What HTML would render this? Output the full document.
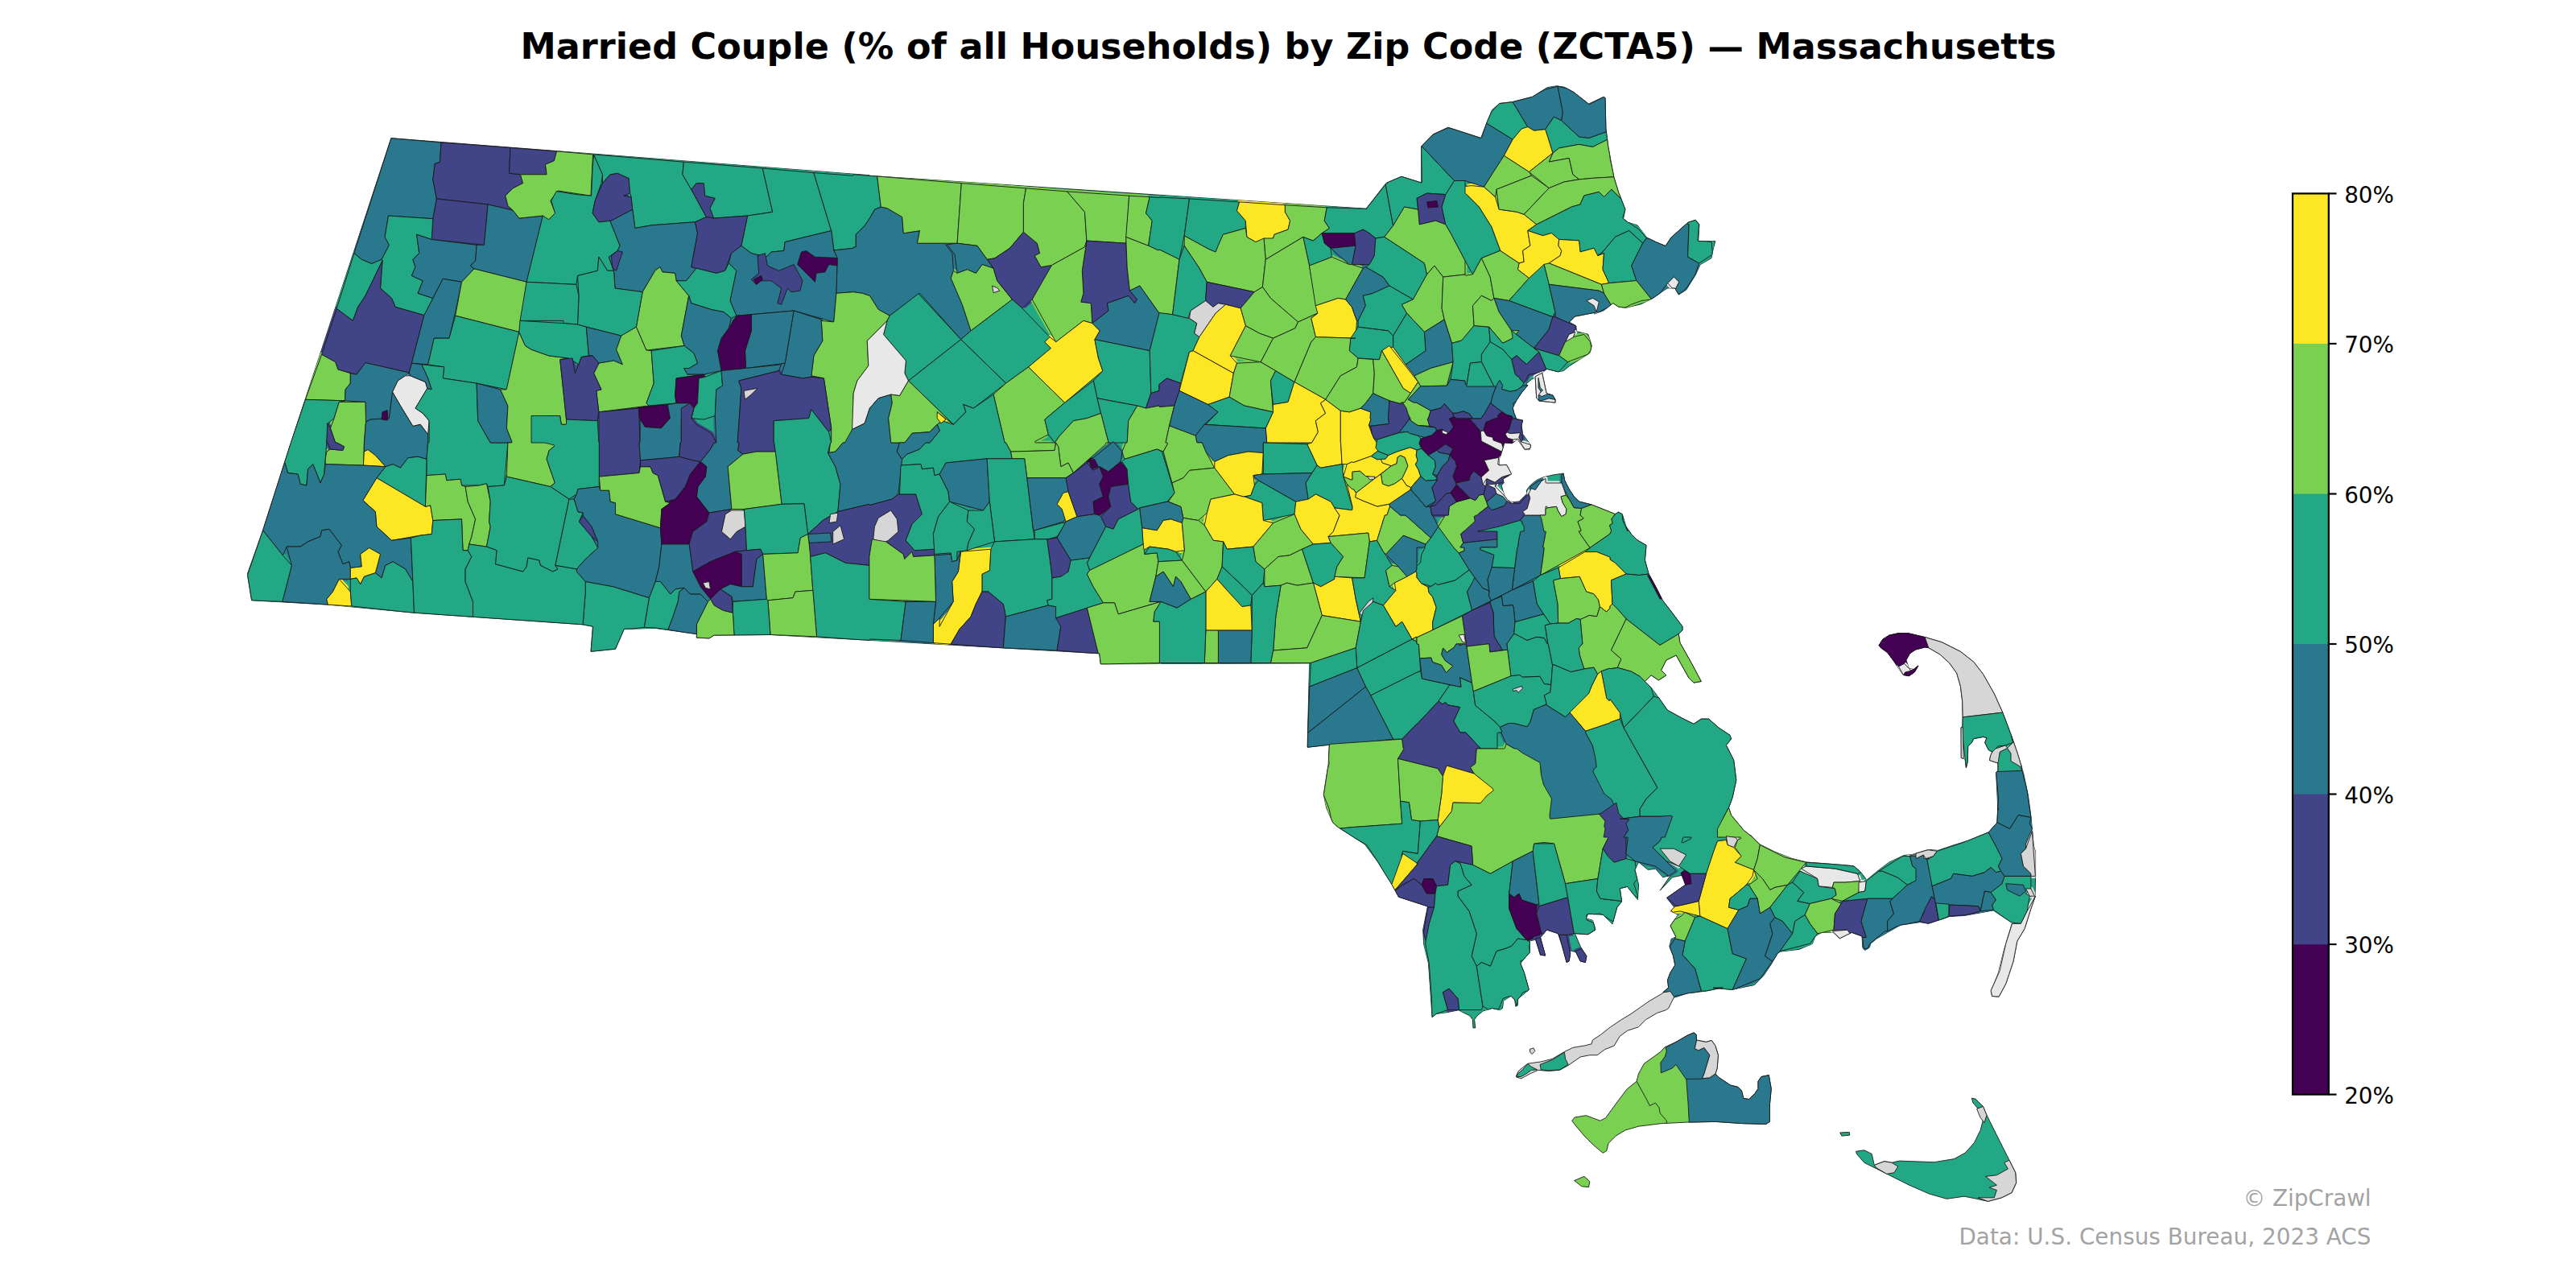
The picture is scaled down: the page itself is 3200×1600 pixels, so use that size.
<!DOCTYPE html>
<html><head><meta charset="utf-8"><title>Married Couple by Zip Code — Massachusetts</title>
<style>
html,body{margin:0;padding:0;background:#fff}
body{width:3200px;height:1600px;overflow:hidden}
svg{display:block}
text{font-family:"DejaVu Sans","Liberation Sans",sans-serif}
</style></head><body>
<svg width="3200" height="1600" viewBox="0 0 3200 1600">
<rect width="3200" height="1600" fill="#fff"/>
<text x="1600.4" y="73.3" text-anchor="middle" font-size="44.44" font-weight="bold" fill="#000" textLength="1908" lengthAdjust="spacing">Married Couple (% of all Households) by Zip Code (ZCTA5) — Massachusetts</text>
<defs><path id="z0" d="M483.4,304.3 478.1,294.4 482.5,268.0 537.8,271.7 542.4,246.9 537.8,223.0 540.2,203.4 546.5,201.2 548.0,177.0 485.9,171.7 439.9,314.6 449.3,322.4 461.7,327.6 474.1,322.4Z"/><path id="z1" d="M606.1,254.0 637.1,261.2 630.9,255.6 627.8,243.2 637.1,233.9 649.6,227.6 646.5,216.8 632.5,215.2 634.0,183.5 548.0,177.0 546.5,201.2 540.2,203.4 537.8,223.0 542.4,246.9Z"/><path id="z2" d="M688.4,199.7 691.5,187.9 634.0,183.5 632.5,215.2 646.5,216.8 679.1,216.8 677.5,204.3Z"/><path id="z3" d="M542.4,246.9 537.8,271.7 536.2,297.5 601.4,304.3 606.1,254.0Z"/><path id="z4" d="M472.5,358.1 486.5,370.5 491.2,381.4 526.9,391.6 537.8,370.5 519.1,364.3 525.3,348.8 511.4,342.5 516.0,331.7 512.9,322.4 520.7,314.6 517.6,291.3 536.2,297.5 537.8,271.7 482.5,268.0 478.1,294.4 483.4,304.3 474.1,322.4 475.0,323.9Z"/><path id="z5" d="M525.3,348.8 519.1,364.3 537.8,370.5 550.2,346.3 573.5,350.3 589.0,333.9 584.3,330.1 590.6,323.9 592.1,304.3 536.2,297.5 517.6,291.3 520.7,314.6 512.9,322.4 516.0,331.7 511.4,342.5Z"/><path id="z6" d="M589.0,333.9 654.2,350.3 674.4,268.0 644.9,271.1 637.1,261.2 606.1,254.0 601.4,304.3 592.1,304.3 590.6,323.9 584.3,330.1Z"/><path id="z7" d="M475.0,323.9 474.1,322.4 461.7,327.6 449.3,322.4 439.9,314.6 418.2,383.5 438.4,398.4 444.6,381.4 453.9,367.4Z"/><path id="z8" d="M399.6,440.4 416.6,449.7 419.8,459.0 443.0,465.2 453.9,450.6 508.3,463.0 526.9,391.6 491.2,381.4 486.5,370.5 472.5,358.1 475.0,323.9 453.9,367.4 444.6,381.4 438.4,398.4 418.2,383.5Z"/><path id="z9" d="M539.3,420.2 558.0,420.2 565.7,387.6 573.5,350.3 550.2,346.3 537.8,370.5 526.9,391.6 511.4,451.2 531.6,452.8Z"/><path id="z10" d="M589.0,333.9 573.5,350.3 565.7,392.2 644.9,412.4 654.2,350.3Z"/><path id="z11" d="M550.2,469.9 592.1,476.1 629.4,483.9 644.9,412.4 565.7,392.2 558.0,420.2 539.3,420.2 531.6,452.8 551.7,455.9Z"/><path id="z12" d="M435.3,463.7 419.8,459.0 416.6,449.7 399.6,440.4 379.4,496.3 428.4,497.8 429.1,483.9 435.3,476.1Z"/><path id="z13" d="M454.5,524.2 460.1,521.1 483.4,519.6 488.1,485.4 494.3,473.0 503.6,466.8 508.3,463.0 453.9,450.6 443.0,465.2 435.3,463.7 435.3,476.1 429.1,483.9 428.4,497.8 453.9,499.4Z"/><path id="z14" d="M522.2,527.3 531.6,539.8 533.1,522.7 525.3,513.4 516.0,507.1 530.9,482.3 528.4,474.5 509.8,466.8 503.6,466.8 494.3,473.0 487.5,487.0 497.4,504.0 512.9,529.5Z"/><path id="z15" d="M357.6,587.4 357.6,587.5 357.7,587.5 369.4,588.9 369.5,588.9 369.6,589.0 369.7,589.0 369.8,589.0 369.8,589.1 369.9,589.2 370.0,589.2 370.1,589.3 370.1,589.4 370.2,589.5 370.2,589.6 370.2,589.7 373.2,601.4 373.2,601.4 373.2,601.4 380.9,603.0 380.9,603.0 380.9,603.0 382.5,583.2 382.5,583.1 382.5,583.0 382.5,582.9 382.6,582.8 382.6,582.7 382.7,582.6 382.7,582.5 387.6,577.7 387.7,577.6 387.8,577.5 387.9,577.5 387.9,577.4 388.0,577.4 388.1,577.4 388.2,577.4 388.3,577.4 388.4,577.4 388.5,577.4 388.6,577.4 388.7,577.4 388.8,577.5 388.9,577.5 389.0,577.6 389.0,577.7 389.1,577.7 389.2,577.8 389.2,577.9 389.3,578.0 398.0,599.9 398.0,599.9 398.0,599.9 402.7,589.0 402.7,589.0 402.7,589.0 404.2,570.4 405.8,550.1 405.8,550.0 405.8,550.0 407.3,526.2 407.3,526.1 407.3,526.0 407.4,525.9 407.4,525.8 407.5,525.7 407.5,525.6 407.6,525.6 407.7,525.5 415.1,519.6 415.1,519.6 415.1,519.5 421.1,499.9 421.2,499.8 421.2,499.8 421.3,499.7 421.3,499.6 421.4,499.5 421.4,499.5 421.5,499.4 421.6,499.4 421.7,499.3 421.8,499.3 421.9,499.3 428.4,497.8 428.4,497.8 428.4,497.8 379.4,496.3 379.4,496.3 379.4,496.3 361.6,549.2 361.6,549.3 361.4,550.0 353.6,574.1Z"/><path id="z16" d="M404.2,576.6 451.4,578.1 451.4,578.1 451.4,578.1 452.4,550.1 452.4,550.0 452.4,550.0 454.5,524.3 454.5,524.2 453.9,499.4 453.9,499.4 453.9,499.4 421.3,499.4 421.3,499.4 421.3,499.4 415.1,519.5 415.1,519.6 410.4,532.0 410.4,532.0 410.4,532.0 416.6,550.0 416.6,550.0 416.7,550.0 418.2,550.0 418.3,550.0 418.4,550.0 418.5,550.0 418.6,550.1 418.7,550.1 426.8,554.4 426.9,554.5 426.9,554.6 427.0,554.6 427.1,554.7 427.1,554.8 427.2,554.9 427.2,555.0 427.3,555.1 427.3,555.2 427.3,555.3 427.3,555.4 427.3,555.5 427.3,555.5 427.2,555.6 426.2,558.7 426.2,558.8 426.1,558.9 426.1,559.0 426.0,559.1 426.0,559.1 425.9,559.2 425.8,559.3 425.7,559.3 425.6,559.4 425.5,559.4 425.5,559.4 425.4,559.4 425.3,559.4 425.2,559.4 410.5,558.0 410.4,558.0 410.4,558.0 405.8,561.0 405.8,561.1 405.8,561.1 404.2,570.4 404.2,570.4 404.2,570.4 404.2,576.6 404.2,576.6Z"/><path id="z17" d="M452.4,561.0 456.5,558.9 456.5,558.8 456.6,558.8 456.7,558.8 456.8,558.8 456.9,558.8 457.0,558.8 457.1,558.8 457.2,558.8 457.3,558.8 457.4,558.9 457.5,558.9 457.5,559.0 466.3,565.7 466.3,565.7 466.4,565.8 478.7,579.7 478.8,579.7 478.8,579.7 487.7,576.7 487.8,576.7 487.9,576.7 488.0,576.7 488.1,576.7 488.2,576.7 488.3,576.7 488.4,576.7 488.4,576.8 497.4,581.2 497.4,581.2 497.4,581.2 506.5,569.2 506.5,569.1 506.6,569.0 506.7,568.9 506.8,568.9 506.8,568.8 506.9,568.8 507.0,568.8 507.1,568.8 518.9,567.3 519.0,567.3 519.1,567.3 519.2,567.3 519.3,567.3 530.0,570.4 530.0,570.4 530.0,570.3 531.5,550.1 531.5,550.0 531.5,550.0 531.6,550.0 531.6,550.0 531.6,539.8 531.6,539.8 531.5,539.7 522.3,527.3 522.2,527.3 522.2,527.3 513.6,529.3 513.5,529.4 513.4,529.4 513.3,529.4 513.2,529.4 513.1,529.3 513.1,529.3 513.0,529.3 512.9,529.2 512.8,529.2 512.7,529.1 512.7,529.0 512.6,529.0 512.5,528.9 497.4,504.0 497.4,504.0 487.5,487.0 487.5,487.0 487.5,487.0 483.5,518.7 483.5,518.8 483.5,518.9 483.4,519.0 483.4,519.1 483.3,519.2 483.3,519.3 483.2,519.3 483.1,519.4 483.1,519.5 483.0,519.5 482.9,519.6 482.8,519.6 482.7,519.6 482.6,519.6 460.2,521.1 460.1,521.1 460.1,521.1 454.6,524.2 454.5,524.2 454.5,524.2 452.4,549.7 452.4,549.8 452.4,549.9 452.4,549.9 452.4,549.9 452.4,561.0 452.4,561.1Z"/><path id="z18" d="M516.0,507.2 525.2,513.3 525.3,513.3 525.4,513.4 525.4,513.5 532.9,522.4 532.9,522.5 533.0,522.6 533.0,522.6 533.1,522.7 533.1,522.8 533.1,522.9 533.1,523.0 533.1,548.9 533.1,549.0 533.1,549.1 533.1,549.2 533.0,549.3 533.0,549.3 532.9,549.4 532.9,549.5 532.8,549.6 532.7,549.6 532.7,549.7 532.6,549.8 532.5,549.8 532.4,549.8 532.3,549.9 532.2,549.9 532.1,549.9 531.6,549.9 531.6,549.9 531.6,549.9 530.0,570.4 530.0,570.4 530.0,590.5 530.0,590.6 530.0,590.6 552.4,589.1 552.5,589.1 552.6,589.1 552.7,589.1 552.8,589.1 552.9,589.1 553.0,589.2 553.1,589.2 553.1,589.3 553.2,589.4 553.3,589.4 553.3,589.5 553.4,589.6 553.4,589.7 553.4,589.8 553.5,589.9 554.8,596.7 554.8,596.8 554.9,596.8 571.0,595.3 571.1,595.3 571.2,595.3 571.3,595.3 571.4,595.3 571.5,595.4 571.6,595.4 571.7,595.5 571.8,595.5 571.8,595.6 571.9,595.7 572.0,595.7 572.0,595.8 572.0,595.9 572.1,596.0 572.1,596.1 573.5,603.0 573.5,603.0 573.5,603.0 595.2,603.0 595.2,603.0 595.2,603.0 603.7,601.0 603.8,601.0 603.9,601.0 604.0,601.0 604.1,601.0 604.2,601.0 604.3,601.0 604.4,601.1 604.5,601.1 604.6,601.2 604.6,601.3 604.7,601.3 604.8,601.4 604.8,601.5 604.9,601.6 606.1,604.5 606.1,604.5 606.1,604.5 626.2,603.0 626.3,603.0 626.3,603.0 630.9,549.9 630.9,549.9 630.9,549.9 609.7,549.9 609.6,549.9 609.5,549.9 609.4,549.8 609.3,549.8 609.2,549.8 609.2,549.7 609.1,549.7 609.0,549.6 608.9,549.5 608.9,549.5 608.8,549.4 593.8,522.9 593.7,522.8 593.7,522.7 593.7,522.6 593.7,522.5 593.7,522.4 592.1,476.1 592.1,476.1 592.1,476.1 551.1,470.0 551.0,470.0 551.0,470.0 550.9,469.9 550.8,469.9 550.7,469.8 550.6,469.8 550.6,469.7 550.5,469.6 550.4,469.6 550.4,469.5 550.4,469.4 550.3,469.3 550.3,469.2 550.3,469.1 550.3,469.0 550.3,468.9 551.7,455.9 551.7,455.9 551.7,455.9 523.8,452.8 523.8,452.8 523.8,452.8 531.5,469.8 531.6,469.9 535.6,482.0 535.6,482.1 535.6,482.2 535.7,482.3 535.7,482.4 535.6,482.5 535.6,482.6 535.6,482.7 535.5,482.8 535.5,482.9 535.4,483.0 535.4,483.0 535.3,483.1 535.2,483.2 535.1,483.2 535.1,483.3 535.0,483.3 534.9,483.3 534.8,483.3 534.7,483.4 534.6,483.3 534.5,483.3 534.4,483.3 531.0,482.3 530.9,482.3 530.9,482.3 516.0,507.1 516.0,507.1Z"/><path id="z19" d="M536.2,483.9 531.6,469.9 523.8,452.8 511.4,451.2 508.3,463.0 509.8,466.8 528.4,474.5 530.9,482.3Z"/><path id="z20" d="M630.9,504.0 621.6,483.9 592.1,476.1 593.7,522.7 609.2,550.0 636.5,550.0 629.4,532.0Z"/><path id="z21" d="M474.1,521.1 481.9,522.0 481.2,509.6 475.0,511.8Z"/><path id="z22" d="M405.8,550.0 406.7,550.0 406.8,550.0 406.9,550.0 407.0,550.0 407.1,550.1 407.2,550.1 407.3,550.2 407.3,550.2 407.4,550.3 407.5,550.4 407.5,550.5 407.6,550.5 407.6,550.6 410.4,557.9 410.4,557.9 410.5,558.0 425.9,559.5 426.0,559.5 426.0,559.5 427.5,554.9 427.5,554.8 427.5,554.8 418.2,549.9 418.2,549.9 418.2,549.9 417.3,549.9 417.2,549.9 417.1,549.9 417.0,549.8 416.9,549.8 416.9,549.8 416.8,549.7 416.7,549.7 416.6,549.6 416.6,549.5 416.5,549.5 416.4,549.4 416.4,549.3 416.4,549.2 410.4,532.0 410.4,532.0 410.4,532.0 406.7,525.8 406.7,525.8 406.7,525.8 405.8,550.0 405.8,550.0Z"/><path id="z23" d="M649.6,227.6 637.1,233.9 627.8,243.2 630.9,255.6 637.1,261.2 644.9,271.1 674.4,268.0 680.6,274.2 689.9,264.9 683.7,249.4 693.0,237.0 734.0,243.2 736.5,191.9 691.5,187.9 688.4,199.7 677.5,204.3 679.1,216.8 646.5,216.8Z"/><path id="z24" d="M621.6,483.9 630.8,503.8 630.9,503.9 630.9,504.0 630.9,504.1 630.9,504.2 630.9,504.3 629.4,532.0 629.4,532.0 629.4,532.0 635.9,548.5 636.0,548.6 636.0,548.7 636.0,548.8 636.0,548.9 636.0,549.0 636.0,549.1 636.0,549.2 635.9,549.3 635.9,549.4 635.8,549.4 635.8,549.5 635.7,549.6 635.6,549.7 635.6,549.7 635.5,549.8 635.4,549.8 635.3,549.8 635.2,549.9 635.1,549.9 635.0,549.9 631.0,549.9 630.9,549.9 630.9,549.9 629.4,592.1 629.4,592.1 629.4,592.1 683.7,604.5 683.7,604.5 683.7,604.5 689.3,599.9 689.3,599.9 689.3,599.9 679.2,570.7 679.1,570.6 679.1,570.5 679.1,570.4 679.1,570.3 679.1,570.2 679.2,570.1 682.1,559.8 682.1,559.7 682.2,559.6 682.2,559.5 682.3,559.4 682.3,559.4 682.4,559.3 689.9,553.3 689.9,553.3 689.9,553.3 680.6,545.5 680.6,545.5 680.6,545.5 680.6,545.5 680.5,545.5 680.4,545.4 680.3,545.3 680.2,545.3 680.2,545.2 680.1,545.1 680.1,545.0 680.0,544.9 680.0,544.8 680.0,544.7 680.0,544.6 680.0,519.6 680.0,519.6 680.0,519.6 677.0,519.3 676.9,519.3 676.8,519.3 676.8,519.2 676.7,519.2 676.6,519.2 676.5,519.1 676.4,519.0 676.4,519.0 676.3,518.9 676.3,518.8 676.2,518.7 676.2,518.6 676.1,518.5 676.1,518.4 676.1,518.3 676.1,518.2 676.1,518.1 676.2,518.1 676.2,518.0 676.2,517.9 676.3,517.8 676.3,517.7 676.4,517.6 676.5,517.6 676.5,517.5 676.6,517.5 676.7,517.4 676.8,517.4 676.9,517.3 677.0,517.3 677.1,517.3 694.8,516.5 694.9,516.5 695.0,516.5 695.1,516.5 695.2,516.6 695.3,516.6 695.4,516.6 695.5,516.7 695.5,516.8 695.6,516.8 695.7,516.9 695.7,517.0 695.8,517.1 695.8,517.2 695.8,517.3 695.8,517.4 697.3,527.3 697.3,527.3 697.3,527.3 703.5,527.3 703.5,527.3 703.5,527.3 703.5,521.1 703.5,521.1 695.8,447.5 695.8,447.4 695.8,447.3 695.8,447.3 695.8,447.2 695.9,447.1 695.9,447.0 696.0,446.9 696.0,446.8 696.1,446.7 696.2,446.7 696.2,446.6 696.3,446.6 696.4,446.5 696.5,446.5 696.6,446.5 696.7,446.4 706.6,445.0 706.6,445.0 706.6,445.0 681.8,441.9 681.7,441.9 681.6,441.9 660.1,434.2 660.0,434.2 659.9,434.1 652.8,429.7 652.7,429.6 652.6,429.5 652.6,429.5 652.5,429.4 652.5,429.3 652.4,429.2 644.8,412.4 644.8,412.4 644.8,412.4 629.4,483.1 629.4,483.2 629.4,483.2 629.3,483.3 629.3,483.4 629.2,483.5 629.1,483.6 629.1,483.6 629.0,483.7 628.9,483.7 628.8,483.8 628.7,483.8 628.6,483.8 628.5,483.8 628.4,483.9 621.6,483.9 621.6,483.9Z"/><path id="z25" d="M654.1,350.3 715.9,353.4 717.5,342.5 742.3,336.3 743.9,319.3 754.7,336.3 762.5,336.3 756.3,319.3 767.1,311.5 770.2,305.3 757.8,274.2 743.9,275.8 736.1,264.9 739.2,249.4 747.0,227.6 748.5,216.8 737.6,191.9 736.1,207.5 734.5,243.2 715.9,241.6 691.1,237.6 684.8,249.4 689.5,264.9 681.7,272.7 674.3,268.0Z"/><path id="z26" d="M785.8,260.2 784.2,244.7 774.9,243.2 782.7,240.1 781.1,221.4 767.1,215.2 757.8,216.8 748.5,227.6 739.2,249.4 736.1,264.9 743.9,275.8 759.4,274.2Z"/><path id="z27" d="M781.1,221.4 782.7,240.1 784.2,244.7 785.8,260.2 788.9,283.5 809.1,279.8 863.4,275.8 877.4,269.6 858.8,235.4 847.9,216.8 849.4,201.2 737.6,191.9 748.5,216.8 748.5,227.6 757.8,216.8 767.1,215.2Z"/><path id="z28" d="M875.8,243.2 874.3,227.6 865.0,227.6 858.8,235.4 877.4,269.6 886.7,271.1 882.0,258.7 888.3,246.3Z"/><path id="z29" d="M875.8,243.2 888.3,246.3 882.0,258.7 886.7,271.1 928.6,268.0 959.7,263.4 947.3,209.0 849.4,201.2 847.9,216.8 858.8,235.4 865.0,227.6 874.3,227.6Z"/><path id="z30" d="M951.9,319.3 958.1,313.0 973.7,311.5 975.2,300.6 1032.7,286.6 1010.9,214.6 947.3,209.0 959.7,263.4 928.6,268.0 920.9,305.3 933.3,314.6Z"/><path id="z31" d="M1010.9,214.6 1032.6,286.6 1032.7,286.6 1032.7,286.7 1035.8,310.8 1035.8,310.9 1035.8,310.9 1060.0,308.4 1060.0,308.4 1060.0,308.4 1060.0,308.3 1060.0,308.2 1060.0,308.1 1060.0,308.0 1060.1,307.9 1060.1,307.8 1060.2,307.7 1060.2,307.6 1060.3,307.6 1060.4,307.5 1060.5,307.4 1060.5,307.4 1060.6,307.3 1060.7,307.3 1060.8,307.3 1063.3,306.8 1063.3,306.8 1063.3,306.8 1063.3,291.7 1063.3,291.6 1063.3,291.5 1063.3,291.4 1063.4,291.3 1063.4,291.2 1063.5,291.2 1063.5,291.1 1063.6,291.0 1074.1,280.5 1074.2,280.4 1074.2,280.4 1080.4,271.1 1080.4,271.1 1086.4,260.6 1086.5,260.5 1086.5,260.4 1086.6,260.3 1086.7,260.3 1086.7,260.2 1086.8,260.2 1086.9,260.1 1094.3,257.2 1094.3,257.1 1094.3,257.1 1089.7,219.0 1089.7,219.0 1080.0,218.3 1080.0,218.2 1059.9,216.8 1059.9,216.8 1059.9,216.8 1059.9,217.2 1059.9,217.3 1059.9,217.4 1059.8,217.5 1059.8,217.6 1059.8,217.7 1059.7,217.8 1059.7,217.9 1059.6,217.9 1059.5,218.0 1059.4,218.1 1059.4,218.1 1059.3,218.2 1059.2,218.2 1059.1,218.2 1059.0,218.2 1058.9,218.2 1058.8,218.2 1011.0,214.6 1010.9,214.6Z"/><path id="z32" d="M762.5,336.3 764.0,358.1 798.2,362.7 813.7,336.3 819.9,331.7 823.0,337.9 838.6,339.4 840.1,348.8 852.5,348.8 865.0,333.2 858.8,331.7 866.5,289.8 863.4,275.8 809.1,279.8 788.9,283.5 785.8,260.2 759.4,274.2 757.8,274.2 770.2,305.3 767.1,311.5 756.3,319.3Z"/><path id="z33" d="M759.4,317.7 760.9,333.2 765.6,336.3 773.4,313.0 767.1,311.5Z"/><path id="z34" d="M900.7,336.3 908.4,314.6 920.9,305.3 928.6,268.0 886.7,271.1 877.4,269.6 863.4,275.8 866.5,289.8 858.8,331.7 889.8,339.4Z"/><path id="z35" d="M920.9,305.3 908.4,314.6 905.3,327.0 914.7,336.3 906.9,373.6 914.7,392.2 933.3,390.7 986.1,386.0 1035.8,400.0 1038.9,364.3 1040.4,320.8 1035.8,310.9 1032.7,286.6 975.2,300.6 973.7,311.5 958.1,313.0 951.9,319.3 933.3,314.6Z"/><path id="z36" d="M958.1,348.8 970.6,358.1 965.9,376.7 970.6,378.3 978.3,358.1 983.0,362.7 993.9,361.2 997.0,348.8 986.1,328.6 967.5,336.3 953.5,330.1 950.4,314.6 941.1,317.7 942.6,339.4 933.3,347.2 939.5,353.4 945.7,348.8Z"/><path id="z37" d="M1040.4,330.1 1040.4,320.8 1035.8,320.2 1012.5,319.3 1001.6,311.5 995.4,313.0 990.7,328.6 1012.5,350.3 1014.0,339.4 1024.9,337.9 1029.6,328.6Z"/><path id="z38" d="M939.5,353.4 947.3,347.2 945.7,342.5 936.4,347.2Z"/><path id="z39" d="M1035.8,310.9 1040.3,320.6 1040.4,320.7 1040.4,320.8 1040.4,320.9 1040.4,321.0 1040.4,321.0 1038.9,364.3 1038.9,364.3 1038.9,364.3 1059.8,362.7 1059.9,362.7 1060.0,362.8 1071.0,364.3 1071.1,364.3 1071.1,364.3 1080.0,367.3 1080.1,367.3 1080.2,367.4 1080.3,367.4 1080.4,367.5 1080.4,367.5 1080.5,367.6 1080.6,367.7 1091.2,384.5 1091.2,384.5 1091.3,384.5 1105.2,392.2 1105.2,392.2 1105.2,392.2 1141.7,364.8 1141.8,364.8 1141.9,364.7 1142.0,364.7 1142.1,364.7 1142.2,364.6 1142.3,364.6 1142.4,364.6 1142.5,364.6 1142.6,364.7 1142.7,364.7 1142.8,364.7 1142.9,364.8 1143.0,364.8 1143.0,364.9 1143.1,365.0 1193.7,421.7 1193.7,421.7 1193.7,421.7 1206.1,410.9 1206.1,410.9 1206.1,410.8 1195.3,378.3 1195.3,378.2 1181.5,346.0 1181.4,345.9 1181.4,345.8 1181.4,345.7 1181.4,345.6 1181.4,345.5 1181.4,345.4 1181.4,345.3 1184.4,336.4 1184.4,336.3 1184.4,336.3 1182.9,314.6 1182.9,314.6 1182.8,314.6 1173.6,302.2 1173.5,302.2 1173.5,302.2 1140.6,302.2 1140.5,302.2 1140.4,302.2 1140.3,302.1 1140.2,302.1 1140.1,302.1 1140.0,302.0 1140.0,301.9 1139.9,301.9 1139.8,301.8 1139.8,301.7 1139.7,301.6 1139.7,301.6 1139.6,301.5 1139.6,301.4 1139.6,301.3 1139.6,301.2 1139.6,301.1 1139.6,301.0 1142.5,286.7 1142.5,286.6 1142.5,286.6 1123.4,289.6 1123.3,289.6 1123.2,289.6 1123.1,289.6 1123.0,289.6 1122.9,289.5 1122.8,289.5 1122.7,289.5 1122.6,289.4 1122.6,289.4 1122.5,289.3 1122.4,289.2 1122.4,289.1 1122.3,289.0 1122.3,289.0 1122.2,288.9 1122.2,288.8 1122.2,288.7 1120.7,269.6 1120.7,269.6 1120.7,269.6 1102.1,258.7 1102.1,258.7 1102.1,258.7 1094.4,257.1 1094.3,257.1 1094.3,257.2 1086.6,260.2 1086.6,260.2 1086.6,260.3 1080.4,271.1 1080.4,271.1 1074.2,280.4 1074.2,280.4 1074.1,280.5 1063.3,291.3 1063.3,291.3 1063.3,291.3 1063.3,306.0 1063.3,306.1 1063.3,306.2 1063.2,306.3 1063.2,306.4 1063.2,306.5 1063.1,306.6 1063.1,306.6 1063.0,306.7 1062.9,306.8 1062.8,306.8 1062.8,306.9 1062.7,306.9 1062.6,307.0 1062.5,307.0 1059.9,307.4 1059.9,307.5 1059.9,307.5 1059.9,307.5 1059.9,307.6 1059.9,307.7 1059.8,307.8 1059.8,307.9 1059.8,308.0 1059.7,308.0 1059.6,308.1 1059.6,308.2 1059.5,308.3 1059.4,308.3 1059.3,308.4 1059.3,308.4 1059.2,308.5 1059.1,308.5 1059.0,308.5 1035.8,310.9 1035.8,310.9Z"/><path id="z40" d="M1007.9,466.8 1022.7,469.7 1022.8,469.8 1022.9,469.8 1023.0,469.8 1023.0,469.9 1023.1,470.0 1023.2,470.0 1023.3,470.1 1023.3,470.2 1023.4,470.3 1023.4,470.4 1023.4,470.5 1023.5,470.6 1032.7,531.9 1032.7,532.0 1032.7,532.1 1032.7,548.9 1032.7,549.0 1032.7,549.1 1032.6,549.2 1032.6,549.3 1032.6,549.3 1032.5,549.4 1032.4,549.5 1032.4,549.6 1032.3,549.6 1032.2,549.7 1032.1,549.8 1032.1,549.8 1032.0,549.8 1031.9,549.9 1031.8,549.9 1031.7,549.9 1031.6,549.9 1031.6,549.9 1031.5,549.9 1030.0,562.6 1030.0,562.6 1030.0,562.6 1037.7,561.1 1037.8,561.1 1037.8,561.0 1046.7,550.4 1046.7,550.3 1046.8,550.2 1046.9,550.2 1047.0,550.1 1047.1,550.1 1047.2,550.0 1047.3,550.0 1047.3,550.0 1047.4,550.0 1060.0,550.0 1060.0,550.0 1060.0,550.0 1060.0,493.9 1060.0,493.9 1060.2,488.6 1060.2,488.6 1060.2,488.5 1060.2,488.4 1064.8,473.2 1064.8,473.1 1064.9,473.0 1064.9,472.9 1065.0,472.8 1078.8,454.4 1078.8,454.3 1078.8,454.3 1077.3,423.7 1077.3,423.6 1077.3,423.5 1077.3,423.5 1077.3,423.4 1077.4,423.3 1077.4,423.2 1077.5,423.1 1077.5,423.0 1077.6,423.0 1102.1,398.5 1102.1,398.4 1102.1,398.4 1105.2,392.3 1105.2,392.2 1105.2,392.2 1091.5,384.6 1091.4,384.5 1091.3,384.5 1091.2,384.4 1091.2,384.3 1091.1,384.3 1080.4,367.4 1080.4,367.4 1080.3,367.4 1071.1,364.3 1071.1,364.3 1071.0,364.3 1060.2,362.8 1060.0,362.7 1060.0,362.7 1060.0,362.7 1059.9,362.7 1059.8,362.7 1057.9,362.9 1057.9,362.9 1038.9,364.3 1038.9,364.3 1038.9,364.3 1035.9,399.0 1035.9,399.1 1035.8,399.2 1035.8,399.3 1035.8,399.4 1035.7,399.5 1035.6,399.5 1035.6,399.6 1035.5,399.7 1035.4,399.7 1035.3,399.8 1035.3,399.8 1035.2,399.9 1035.1,399.9 1035.0,399.9 1034.9,399.9 1034.8,399.9 1020.3,398.4 1020.2,398.4 1020.2,398.5 1021.8,423.0 1021.8,423.1 1021.8,423.2 1021.8,423.3 1021.7,423.4 1021.7,423.5 1021.6,423.6 1010.9,441.9 1010.9,441.9 1010.9,442.0 1007.8,466.7 1007.8,466.8Z"/><path id="z41" d="M1010.9,441.9 1021.8,423.3 1020.2,396.9 986.1,386.0 975.2,451.2 970.6,465.2 997.0,469.9 1007.8,468.3Z"/><path id="z42" d="M986.1,386.0 933.3,390.7 933.3,410.9 925.5,435.7 926.5,457.5 975.2,451.2Z"/><path id="z43" d="M926.5,457.5 925.5,435.7 933.3,410.9 933.3,390.7 914.7,392.2 905.3,407.8 896.0,420.2 891.4,435.7 896.0,460.6Z"/><path id="z44" d="M850.1,429.5 846.3,417.1 855.7,367.4 840.1,348.8 838.6,339.4 823.0,337.9 819.9,331.7 813.7,336.3 798.2,362.7 790.4,406.2 802.9,435.1Z"/><path id="z45" d="M908.4,395.3 914.7,392.2 906.9,373.6 914.7,336.3 905.3,327.0 900.7,336.3 889.8,339.4 865.0,333.2 852.5,348.8 840.1,348.8 855.7,367.4 858.8,376.7 883.6,384.5 899.1,387.6Z"/><path id="z46" d="M855.7,457.5 849.4,457.5 854.1,465.2 874.3,465.2 896.0,460.6 891.4,435.7 896.0,420.2 905.3,407.8 908.4,395.3 899.1,387.6 883.6,384.5 858.8,376.7 855.7,367.4 846.3,417.1 850.1,429.5 861.9,438.8 866.5,451.2Z"/><path id="z47" d="M790.4,406.2 798.2,362.7 764.0,358.1 762.5,336.3 754.7,336.3 743.9,319.3 742.3,336.3 717.5,342.5 719.0,367.4 717.5,403.1 728.3,406.2 771.8,417.1Z"/><path id="z48" d="M719.0,367.4 715.9,353.4 654.1,350.3 646.0,398.4 699.6,398.4 700.4,401.6 717.5,403.1Z"/><path id="z49" d="M706.6,445.0 719.0,452.8 722.1,443.5 731.4,441.9 728.3,406.2 717.5,403.1 700.4,401.6 646.0,398.4 644.8,412.4 652.5,429.5 660.0,434.2 681.7,441.9Z"/><path id="z50" d="M773.4,452.8 765.6,434.2 771.8,417.1 728.3,406.2 731.4,441.9 736.1,441.9 743.9,451.2 762.5,448.1Z"/><path id="z51" d="M737.6,463.7 747.0,483.9 740.7,485.4 743.9,511.8 806.0,504.0 802.9,500.9 812.2,476.1 809.1,435.7 802.9,435.1 790.4,406.2 771.8,417.1 765.6,434.2 773.4,452.8 762.5,448.1 743.9,451.2Z"/><path id="z52" d="M838.6,491.6 840.1,469.9 874.3,465.2 854.1,465.2 849.4,457.5 855.7,457.5 866.5,451.2 861.9,438.8 850.1,429.5 809.1,435.7 812.2,476.1 802.9,500.9 806.0,504.0 840.1,500.9Z"/><path id="z53" d="M747.0,483.9 737.6,463.7 743.9,451.2 736.1,441.9 722.1,443.5 719.0,452.8 714.3,463.7 711.2,445.0 695.7,446.6 703.5,521.1 742.3,522.7 743.9,511.8 740.7,485.4Z"/><path id="z54" d="M866.5,500.9 868.1,469.9 875.8,468.3 874.3,465.2 840.1,469.9 838.6,491.6 840.1,500.9 857.2,500.9 861.9,507.1Z"/><path id="z55" d="M888.3,516.5 889.8,483.9 897.6,479.2 896.0,460.6 875.8,468.3 868.1,469.9 866.5,500.9 861.9,507.1 858.8,519.6 874.3,521.1Z"/><path id="z56" d="M865.4,617.0 880.9,637.1 880.9,637.1 881.0,637.1 908.9,632.5 908.9,632.5 908.9,632.5 904.3,580.2 904.3,580.1 904.3,580.0 904.3,579.9 904.3,579.8 904.3,579.7 904.4,579.7 904.4,579.6 904.5,579.5 904.6,579.4 904.6,579.4 922.8,564.2 922.9,564.2 922.8,564.1 917.1,559.9 917.1,559.8 917.0,559.7 916.9,559.7 916.9,559.6 916.8,559.5 916.8,559.4 916.8,559.3 916.7,559.2 916.7,559.1 916.7,559.0 916.7,558.9 918.2,549.9 918.2,549.9 918.2,549.9 917.3,549.9 917.2,549.9 917.1,549.9 917.0,549.8 916.9,549.8 916.8,549.8 916.7,549.7 916.7,549.7 916.6,549.6 916.5,549.5 916.5,549.4 916.4,549.4 916.4,549.3 916.3,549.2 916.3,549.1 916.3,549.0 916.3,548.9 916.3,548.8 920.9,482.3 920.9,482.3 920.9,482.3 918.1,474.0 918.1,473.9 918.1,473.8 918.1,473.7 918.1,473.6 918.1,473.5 918.1,473.4 918.1,473.3 918.2,473.3 918.2,473.2 918.3,473.1 918.3,473.0 918.4,472.9 918.5,472.9 918.5,472.8 918.6,472.8 918.7,472.7 918.8,472.7 967.4,460.6 967.5,460.6 967.5,460.5 970.5,452.8 970.6,452.8 970.5,452.8 926.5,457.5 926.5,457.5 896.0,460.6 896.0,460.6 896.0,460.6 897.5,478.6 897.5,478.7 897.5,478.8 897.5,478.9 897.5,479.0 897.4,479.1 897.4,479.2 897.3,479.2 897.3,479.3 897.2,479.4 897.1,479.5 897.0,479.5 889.8,483.8 889.8,483.9 889.8,483.9 888.3,516.4 888.3,516.5 889.8,548.8 889.8,548.9 889.7,549.0 889.7,549.1 889.7,549.2 889.7,549.3 889.6,549.4 889.5,549.5 889.5,549.6 889.4,549.6 889.3,549.7 889.2,549.8 889.2,549.8 889.1,549.8 889.0,549.9 888.9,549.9 888.8,549.9 887.2,549.9 887.1,549.9 887.1,549.9 882.5,557.9 882.5,557.9 882.4,558.0 870.1,573.5 870.1,573.5 870.1,573.5 877.4,579.3 877.5,579.4 877.5,579.5 877.6,579.6 877.6,579.7 877.7,579.7 877.7,579.8 877.7,579.9 877.8,580.0 877.8,580.1 877.8,580.2 876.3,591.8 876.3,592.0 876.3,592.1 876.2,592.1 876.2,592.2 876.1,592.3 867.0,604.5 867.0,604.5 867.0,604.6 865.4,616.9 865.4,617.0Z"/><path id="z57" d="M916.2,550.0 917.0,550.0 917.1,550.0 917.2,550.0 917.3,550.0 917.4,550.1 917.5,550.1 917.5,550.2 917.6,550.2 917.7,550.3 917.8,550.4 917.8,550.4 917.9,550.5 917.9,550.6 918.0,550.7 918.0,550.8 918.0,550.9 918.0,551.0 918.0,551.1 918.0,551.2 916.6,559.5 916.6,559.5 916.7,559.5 922.8,564.1 922.9,564.2 922.9,564.2 939.8,561.1 939.9,561.1 940.0,561.1 963.2,561.1 963.2,561.1 963.2,561.0 961.7,549.9 961.7,549.9 961.7,549.9 961.6,549.8 961.5,549.7 961.5,549.7 961.4,549.6 961.4,549.5 961.3,549.4 961.3,549.3 961.3,549.2 961.2,549.1 961.2,549.1 961.2,523.6 961.2,523.5 961.3,523.4 961.3,523.3 961.3,523.2 961.4,523.1 961.4,523.0 961.5,523.0 961.5,522.9 961.6,522.8 961.7,522.8 961.8,522.7 961.9,522.7 962.0,522.6 962.1,522.6 962.2,522.6 1004.7,519.6 1004.7,519.6 1004.7,519.5 1007.3,510.6 1007.3,510.5 1007.4,510.4 1007.4,510.3 1007.5,510.2 1007.5,510.2 1007.6,510.1 1007.7,510.0 1007.8,510.0 1007.9,509.9 1008.0,509.9 1008.1,509.9 1008.2,509.9 1008.3,509.9 1008.4,509.9 1008.5,509.9 1008.6,509.9 1008.6,509.9 1008.7,510.0 1008.8,510.0 1008.9,510.1 1009.0,510.2 1009.0,510.3 1029.5,536.6 1029.6,536.6 1029.6,536.6 1032.7,532.0 1032.7,532.0 1032.7,532.0 1023.4,469.9 1023.4,469.9 1023.3,469.9 1007.9,468.3 1007.8,468.3 1007.8,468.3 997.1,469.9 997.0,469.9 996.9,469.9 996.8,469.8 971.0,465.3 970.9,465.3 970.8,465.2 970.7,465.2 970.6,465.1 970.5,465.1 970.5,465.0 970.4,464.9 970.3,464.9 967.5,460.6 967.5,460.6 967.4,460.6 917.8,473.0 917.8,473.0 917.8,473.0 920.8,482.1 920.8,482.2 920.9,482.3 920.9,482.4 920.9,482.5 916.2,550.0 916.2,550.0Z"/><path id="z58" d="M925.5,496.3 933.3,490.1 941.1,482.3 924.0,485.4Z"/><path id="z59" d="M961.2,550.0 961.3,550.0 961.4,550.1 961.5,550.2 961.6,550.2 961.6,550.3 961.7,550.4 961.7,550.5 961.8,550.6 961.8,550.7 961.8,550.8 963.2,561.0 963.2,561.1 971.0,626.2 971.0,626.3 971.0,626.3 998.0,625.7 998.1,625.7 998.2,625.7 998.3,625.7 998.4,625.7 998.5,625.8 998.6,625.8 998.7,625.9 998.8,625.9 998.8,626.0 998.9,626.1 998.9,626.2 999.0,626.3 999.0,626.4 999.0,626.5 999.1,626.5 1003.6,663.5 1003.6,663.5 1003.6,663.5 1022.2,646.5 1022.2,646.5 1022.3,646.4 1040.8,635.6 1040.9,635.6 1040.9,635.6 1044.0,601.5 1044.0,601.4 1044.0,601.4 1037.8,579.7 1037.8,579.7 1037.8,579.7 1028.6,562.9 1028.6,562.9 1028.6,562.8 1028.5,562.7 1028.5,562.6 1028.5,562.5 1028.5,562.4 1028.5,562.3 1028.5,562.2 1031.3,550.8 1031.4,550.7 1031.4,550.6 1031.4,550.5 1031.5,550.4 1031.6,550.3 1031.6,550.3 1031.7,550.2 1031.8,550.2 1031.9,550.1 1031.9,550.1 1032.0,550.0 1032.1,550.0 1032.2,550.0 1032.3,550.0 1032.6,550.0 1032.7,550.0 1032.7,550.0 1029.6,536.7 1029.6,536.6 1029.5,536.6 1007.8,508.7 1007.8,508.7 1007.8,508.7 1004.9,518.9 1004.9,519.0 1004.8,519.1 1004.8,519.2 1004.7,519.3 1004.7,519.3 1004.6,519.4 1004.5,519.5 1004.4,519.5 1004.3,519.5 1004.2,519.6 1004.1,519.6 1004.0,519.6 961.3,522.7 961.2,522.7 961.2,522.7 961.2,550.0 961.2,550.0Z"/><path id="z60" d="M743.9,511.8 743.9,550.0 743.9,550.0 743.9,550.0 744.0,550.1 744.0,550.1 744.1,550.2 744.1,550.3 744.2,550.4 744.2,550.5 744.2,550.5 744.3,550.6 744.3,550.7 744.3,550.8 744.3,592.1 744.3,592.1 744.3,592.1 794.0,587.5 794.0,587.5 794.0,587.4 795.5,571.9 795.5,571.9 795.5,571.9 794.1,551.1 794.1,551.0 794.1,550.9 794.1,550.8 794.1,550.7 794.1,550.6 794.2,550.5 794.2,550.4 794.3,550.4 794.4,550.3 794.4,550.2 794.5,550.2 794.6,550.1 794.7,550.1 794.8,550.0 794.9,550.0 795.0,550.0 795.1,550.0 795.1,550.0 795.1,550.0 795.1,550.0 793.5,507.2 793.5,507.1 793.5,507.1 743.9,511.8 743.9,511.8Z"/><path id="z61" d="M829.3,502.5 793.5,507.1 795.1,521.1 801.3,530.4 821.5,532.0 832.4,519.6Z"/><path id="z62" d="M794.0,549.9 795.5,571.9 795.5,571.9 795.6,571.9 829.7,568.8 829.7,568.8 843.6,567.3 843.7,567.3 843.7,567.2 845.1,550.9 845.1,550.8 845.2,550.7 845.2,550.6 845.2,550.5 845.3,550.4 845.3,550.4 845.4,550.3 845.5,550.2 845.6,550.2 845.6,550.1 845.7,550.1 845.8,550.0 845.9,550.0 846.0,550.0 846.1,550.0 846.3,550.0 846.3,550.0 846.3,550.0 846.3,522.0 846.3,521.9 846.4,521.8 846.4,521.7 846.4,521.6 846.4,521.5 846.5,521.5 846.6,521.4 846.6,521.3 846.7,521.2 846.8,521.2 846.8,521.1 846.9,521.1 847.0,521.1 847.1,521.0 847.2,521.0 858.7,519.6 858.8,519.6 858.8,519.5 861.9,507.2 861.9,507.1 861.8,507.1 857.2,501.0 857.2,500.9 857.2,500.9 840.2,500.9 840.1,500.9 829.3,502.5 829.3,502.5 829.3,502.5 832.3,519.1 832.3,519.2 832.3,519.3 832.3,519.4 832.3,519.5 832.2,519.6 832.2,519.7 832.2,519.8 832.1,519.8 832.0,519.9 821.8,531.6 821.7,531.7 821.7,531.8 821.6,531.8 821.5,531.9 821.4,531.9 821.3,531.9 821.2,531.9 821.1,532.0 821.0,531.9 801.8,530.5 801.7,530.5 801.6,530.4 801.5,530.4 801.4,530.4 801.3,530.3 801.2,530.3 801.2,530.2 801.1,530.1 801.0,530.0 795.1,521.1 795.1,521.1 795.1,521.1 795.1,548.9 795.1,549.0 795.1,549.1 795.1,549.2 795.0,549.3 795.0,549.3 794.9,549.4 794.9,549.5 794.8,549.6 794.7,549.6 794.6,549.7 794.6,549.8 794.5,549.8 794.4,549.8 794.3,549.9 794.2,549.9 794.1,549.9 794.0,549.9 794.0,549.9Z"/><path id="z63" d="M843.7,567.3 860.7,571.9 860.8,571.9 870.0,573.5 870.1,573.5 870.1,573.5 882.5,558.0 882.5,557.9 882.5,557.9 886.8,550.5 886.8,550.4 886.9,550.3 887.0,550.3 887.0,550.2 887.1,550.2 887.2,550.1 887.3,550.1 887.4,550.0 887.5,550.0 887.6,550.0 887.6,550.0 889.8,550.0 889.8,550.0 889.8,550.0 883.6,538.2 883.6,538.2 883.6,538.2 865.1,527.4 865.1,527.4 865.0,527.3 864.9,527.3 864.9,527.2 859.1,520.0 859.0,519.9 859.0,519.8 858.9,519.7 858.9,519.6 858.9,519.5 858.8,519.4 858.8,519.3 858.9,519.2 858.9,519.1 861.9,507.2 861.9,507.1 861.8,507.1 857.2,501.0 857.2,500.9 857.2,500.9 846.4,507.1 846.3,507.1 846.3,507.2 846.3,548.9 846.3,549.0 846.3,549.1 846.3,549.2 846.3,549.3 846.2,549.3 846.2,549.4 846.1,549.5 846.0,549.6 846.0,549.6 845.9,549.7 845.8,549.8 845.7,549.8 845.6,549.8 845.5,549.9 845.4,549.9 845.3,549.9 845.2,549.9 845.2,549.9 845.2,549.9 843.7,567.2 843.7,567.3Z"/><path id="z64" d="M660.0,516.5 660.0,550.0 660.0,550.0 660.0,550.0 676.4,550.0 676.5,550.0 676.6,550.0 688.0,552.8 688.1,552.8 688.1,552.9 688.2,552.9 688.3,553.0 688.4,553.0 688.5,553.1 688.5,553.2 688.6,553.3 688.6,553.3 688.7,553.4 688.7,553.5 688.7,553.6 688.7,553.7 688.7,553.8 688.7,553.9 688.7,554.0 688.7,554.1 688.6,554.2 688.6,554.3 688.5,554.3 688.5,554.4 688.4,554.5 688.4,554.6 682.2,559.5 682.2,559.5 682.2,559.5 679.1,570.3 679.1,570.4 679.1,570.4 689.1,599.2 689.1,599.3 689.1,599.4 689.1,599.5 689.1,599.6 689.1,599.7 689.1,599.8 689.1,599.9 689.0,600.0 689.0,600.1 688.9,600.2 688.9,600.3 688.8,600.3 683.7,604.5 683.7,604.5 683.7,604.5 707.0,620.0 707.0,620.1 707.0,620.0 716.3,613.9 716.3,613.9 716.3,613.8 717.7,608.3 717.8,608.2 717.8,608.1 717.8,608.0 717.9,607.9 718.0,607.9 718.0,607.8 718.1,607.7 718.2,607.7 718.3,607.6 718.4,607.6 718.5,607.6 718.6,607.6 744.3,604.5 744.3,604.5 744.3,604.5 744.3,549.9 744.3,549.9 744.3,549.9 744.2,549.8 744.1,549.8 744.1,549.7 744.0,549.6 743.9,549.5 743.9,549.4 743.9,549.4 743.8,549.3 743.8,549.2 743.8,549.1 742.3,522.7 742.3,522.7 742.3,522.7 703.5,521.1 703.5,521.1 703.5,521.1 703.5,526.3 703.5,526.4 703.5,526.5 703.4,526.6 703.4,526.7 703.4,526.8 703.3,526.9 703.3,527.0 703.2,527.0 703.1,527.1 703.0,527.2 702.9,527.2 702.9,527.3 702.8,527.3 702.7,527.3 702.6,527.3 702.5,527.3 698.1,527.3 698.0,527.3 697.9,527.3 697.9,527.3 697.8,527.3 697.7,527.2 697.6,527.2 697.5,527.1 697.4,527.1 697.4,527.0 697.3,526.9 697.3,526.8 697.2,526.7 697.2,526.7 697.2,526.6 697.1,526.5 695.7,516.5 695.7,516.5 695.7,516.5 660.0,516.5 660.0,516.5Z"/><path id="z65" d="M1142.5,286.6 1139.4,302.2 1173.5,302.2 1189.1,302.2 1194.3,227.6 1091.0,219.1 1089.7,219.0 1094.3,257.1 1102.1,258.7 1120.7,269.6 1122.3,289.8Z"/><path id="z66" d="M1254.3,308.4 1271.4,288.2 1271.4,252.5 1274.5,233.9 1194.3,227.6 1189.1,302.2 1213.9,305.3 1226.3,322.4 1235.7,320.8Z"/><path id="z67" d="M1220.1,328.6 1234.1,333.2 1226.3,322.4 1213.9,305.3 1189.1,302.2 1176.6,303.7 1186.0,316.1 1189.1,339.4 1201.5,334.8 1212.4,339.4Z"/><path id="z68" d="M1234.1,333.2 1220.1,328.6 1212.4,339.4 1201.5,334.8 1189.1,339.4 1184.4,336.3 1181.3,345.7 1195.3,378.3 1206.1,410.9 1257.4,372.0 1238.8,348.8Z"/><path id="z69" d="M1234.1,363.7 1241.9,361.2 1238.8,357.5 1232.5,355.0Z"/><path id="z70" d="M1238.8,348.8 1257.4,372.0 1269.8,382.9 1282.2,372.0 1306.5,329.5 1293.1,331.7 1285.3,317.7 1291.6,314.6 1288.4,302.2 1271.4,288.2 1254.3,308.4 1235.7,320.8 1226.3,322.4 1234.1,333.2Z"/><path id="z71" d="M1285.3,317.7 1293.1,331.7 1306.5,329.5 1347.5,306.8 1349.9,299.1 1347.5,263.4 1325.7,237.9 1274.5,233.9 1271.4,252.5 1271.4,288.2 1288.4,302.2 1291.6,314.6Z"/><path id="z72" d="M1325.7,237.9 1347.5,263.4 1349.9,299.1 1398.7,302.2 1402.7,243.2Z"/><path id="z73" d="M1428.2,244.7 1402.7,243.2 1398.7,294.4 1426.6,305.3 1431.3,274.2 1423.5,264.9Z"/><path id="z74" d="M1423.6,264.9 1431.0,273.9 1431.1,274.0 1431.1,274.0 1431.2,274.1 1431.2,274.2 1431.2,274.3 1431.2,274.4 1431.2,274.5 1431.2,274.6 1431.2,274.7 1426.6,305.3 1426.6,305.3 1426.7,305.3 1440.0,311.5 1440.0,311.5 1440.0,311.5 1440.0,311.4 1440.1,311.3 1440.1,311.2 1440.1,311.1 1440.2,311.0 1440.3,310.9 1440.3,310.9 1440.4,310.8 1440.5,310.7 1440.6,310.7 1440.7,310.7 1440.8,310.6 1440.9,310.6 1441.0,310.6 1441.1,310.6 1441.2,310.6 1441.3,310.6 1441.3,310.7 1441.4,310.7 1465.0,322.3 1465.0,322.4 1465.0,322.3 1471.2,292.9 1471.2,292.8 1477.5,246.9 1477.5,246.9 1477.4,246.9 1439.9,245.0 1439.9,245.0 1439.9,245.1 1439.8,245.2 1439.7,245.2 1439.7,245.3 1439.6,245.4 1439.5,245.4 1439.4,245.5 1439.3,245.5 1439.2,245.5 1439.1,245.6 1439.0,245.6 1438.9,245.6 1428.2,244.7 1428.2,244.7 1428.2,244.7 1423.5,264.9 1423.5,264.9Z"/><path id="z75" d="M1356.8,401.6 1377.0,386.0 1375.4,376.7 1401.8,367.4 1409.6,376.7 1412.7,372.0 1403.4,361.2 1400.2,333.2 1398.7,302.2 1349.9,299.1 1344.3,336.3 1345.9,364.3 1342.8,375.2 1355.2,376.7Z"/><path id="z76" d="M1398.7,294.4 1400.2,333.2 1400.3,333.2 1403.4,361.2 1403.4,361.2 1403.4,361.2 1415.0,355.4 1415.1,355.3 1415.2,355.3 1415.3,355.3 1415.4,355.2 1415.5,355.2 1415.6,355.3 1415.7,355.3 1415.8,355.3 1415.9,355.3 1416.0,355.4 1416.1,355.5 1416.1,355.5 1416.2,355.6 1416.3,355.7 1440.0,389.1 1440.0,389.1 1440.0,389.1 1440.1,389.1 1440.2,389.1 1456.6,390.7 1456.6,390.7 1456.6,390.7 1465.0,322.4 1465.0,322.4 1465.0,322.3 1439.9,309.9 1439.9,309.9 1439.9,310.0 1439.9,310.0 1439.8,310.1 1439.8,310.2 1439.8,310.3 1439.7,310.4 1439.7,310.5 1439.6,310.5 1439.6,310.6 1439.5,310.7 1439.4,310.7 1439.3,310.8 1439.2,310.8 1439.1,310.8 1439.0,310.9 1438.9,310.9 1438.8,310.9 1438.7,310.9 1438.6,310.8 1438.5,310.8 1438.5,310.8 1426.7,305.3 1426.6,305.3 1398.7,294.4 1398.7,294.4Z"/><path id="z77" d="M1355.2,376.7 1342.8,375.2 1345.9,364.3 1344.3,336.3 1349.9,299.1 1347.5,306.8 1306.5,329.5 1282.2,372.0 1311.7,424.8 1345.9,398.4 1356.8,401.6Z"/><path id="z78" d="M1415.8,355.0 1403.4,361.2 1412.7,372.0 1409.6,376.7 1401.8,367.4 1375.4,376.7 1377.0,386.0 1356.8,401.6 1366.1,410.9 1359.9,421.7 1428.2,435.7 1440.0,389.1Z"/><path id="z79" d="M1123.9,463.7 1128.5,473.0 1193.7,421.7 1140.9,364.9 1105.2,392.2 1102.1,398.4 1097.5,415.5 1125.4,448.1Z"/><path id="z80" d="M1305.5,432.6 1297.8,424.8 1304.0,418.6 1269.8,382.9 1257.4,372.0 1206.1,410.9 1193.7,421.7 1249.6,476.1 1277.6,455.9Z"/><path id="z81" d="M1209.3,507.1 1249.6,476.1 1193.7,421.7 1128.5,473.0 1184.4,527.3 1199.9,511.8 1196.8,502.5Z"/><path id="z82" d="M1060.2,488.5 1058.6,533.5 1074.2,525.8 1080.4,507.1 1091.2,494.7 1106.8,490.1 1117.6,491.6 1128.5,473.0 1123.9,463.7 1125.4,448.1 1097.5,415.5 1102.1,398.4 1089.7,410.9 1077.3,423.3 1078.8,454.3 1064.8,473.0Z"/><path id="z83" d="M1277.6,455.9 1322.6,500.3 1369.8,460.6 1364.5,445.0 1359.9,421.7 1366.1,410.9 1356.8,401.6 1345.9,398.4 1311.7,424.8 1304.0,418.6 1297.8,424.8 1305.5,432.6Z"/><path id="z84" d="M1387.8,499.4 1412.7,504.0 1423.5,507.1 1429.8,488.5 1428.2,435.7 1359.9,421.7 1364.5,445.0 1369.8,460.6 1358.3,473.0 1363.0,494.7Z"/><path id="z85" d="M1429.8,488.5 1440.0,485.4 1440.0,485.4 1440.0,485.4 1440.0,478.0 1440.0,477.9 1440.0,477.8 1440.0,477.7 1440.1,477.6 1440.1,477.5 1440.2,477.5 1440.2,477.4 1440.3,477.3 1440.4,477.2 1449.1,470.2 1449.1,470.2 1449.2,470.1 1449.3,470.1 1449.4,470.0 1449.5,470.0 1449.6,470.0 1449.7,470.0 1449.8,470.0 1449.9,470.0 1450.0,470.1 1466.6,476.1 1466.6,476.1 1466.6,476.1 1477.3,437.8 1477.3,437.7 1477.4,437.6 1477.4,437.5 1477.5,437.4 1477.5,437.4 1477.6,437.3 1477.7,437.2 1477.8,437.2 1477.9,437.1 1478.0,437.1 1482.1,435.7 1482.1,435.7 1482.1,435.7 1489.9,418.7 1489.9,418.6 1489.9,418.6 1484.2,414.4 1484.1,414.3 1484.1,414.2 1484.0,414.2 1483.9,414.1 1483.9,414.0 1483.9,413.9 1483.8,413.8 1483.8,413.7 1483.8,413.6 1483.8,413.5 1483.8,413.4 1483.8,413.3 1486.8,401.6 1486.8,401.6 1486.8,401.5 1477.5,395.4 1477.5,395.3 1477.4,395.3 1456.7,390.7 1456.6,390.7 1439.9,388.5 1439.9,388.5 1439.9,388.5 1439.9,389.5 1439.9,389.6 1439.9,389.7 1439.8,389.7 1428.2,435.7 1428.2,435.7 1428.2,435.7 1429.8,488.5 1429.8,488.5Z"/><path id="z86" d="M1423.6,507.1 1438.7,504.3 1438.8,504.3 1438.9,504.3 1439.0,504.3 1439.1,504.3 1439.2,504.3 1439.3,504.3 1439.4,504.4 1439.4,504.4 1439.5,504.5 1439.6,504.6 1439.7,504.6 1439.7,504.7 1439.8,504.8 1439.8,504.9 1439.8,505.0 1439.9,505.1 1439.9,505.2 1439.9,505.3 1439.9,505.6 1439.9,505.6 1439.9,505.6 1458.8,504.0 1458.8,504.0 1458.8,504.0 1465.0,485.4 1465.0,485.4 1465.0,485.4 1466.6,476.1 1466.6,476.1 1466.6,476.1 1449.5,469.9 1449.5,469.9 1449.5,469.9 1439.9,477.6 1439.9,477.6 1439.9,477.7 1439.9,484.7 1439.9,484.8 1439.9,484.9 1439.8,485.0 1439.8,485.1 1439.8,485.2 1439.7,485.3 1439.6,485.3 1439.6,485.4 1439.5,485.5 1439.4,485.5 1439.3,485.6 1439.3,485.6 1439.2,485.7 1429.8,488.5 1429.8,488.5 1429.7,488.5 1423.5,507.1 1423.5,507.1Z"/><path id="z87" d="M1234.1,490.1 1248.1,550.0 1248.1,550.0 1248.1,550.0 1248.9,550.0 1249.0,550.0 1249.1,550.0 1249.2,550.0 1249.3,550.1 1249.4,550.1 1249.5,550.2 1249.5,550.2 1249.6,550.3 1249.7,550.4 1249.7,550.4 1249.8,550.5 1255.6,561.0 1255.7,561.1 1255.7,561.1 1310.0,559.5 1310.0,559.5 1310.0,559.5 1311.5,549.9 1311.6,549.9 1311.5,549.9 1286.7,549.9 1286.6,549.9 1286.5,549.9 1286.4,549.8 1286.3,549.8 1286.2,549.8 1286.1,549.7 1286.0,549.6 1285.9,549.6 1285.9,549.5 1285.8,549.4 1285.8,549.3 1285.7,549.2 1285.7,549.2 1285.7,549.1 1285.7,549.0 1285.7,548.9 1285.7,548.8 1285.7,548.7 1285.7,548.6 1285.7,548.5 1285.8,548.4 1285.8,548.3 1285.9,548.2 1286.0,548.2 1286.0,548.1 1286.1,548.0 1286.2,548.0 1302.4,539.8 1302.4,539.8 1302.4,539.7 1297.9,521.7 1297.9,521.6 1297.9,521.5 1297.9,521.4 1297.9,521.3 1297.9,521.2 1298.0,521.1 1298.0,521.0 1298.0,520.9 1298.1,520.9 1298.2,520.8 1298.2,520.7 1322.6,500.3 1322.6,500.3 1322.6,500.3 1277.6,455.9 1277.6,455.9 1277.6,455.9 1249.6,476.1 1249.6,476.1 1234.1,490.0 1234.1,490.1Z"/><path id="z88" d="M1119.0,578.1 1143.0,576.6 1143.1,576.6 1143.2,576.6 1143.3,576.7 1143.4,576.7 1143.5,576.7 1143.6,576.8 1143.7,576.8 1143.8,576.9 1143.8,577.0 1143.9,577.0 1143.9,577.1 1144.0,577.2 1144.0,577.3 1144.1,577.4 1145.4,582.8 1145.4,582.8 1145.4,582.8 1158.4,581.3 1158.5,581.3 1158.6,581.3 1158.7,581.4 1158.8,581.4 1158.9,581.4 1159.0,581.5 1159.1,581.5 1159.2,581.6 1159.3,581.6 1159.3,581.7 1159.4,581.8 1159.4,581.9 1159.5,582.0 1159.5,582.1 1159.5,582.2 1160.9,590.5 1160.9,590.6 1161.0,590.6 1167.1,589.0 1167.1,589.0 1167.2,589.0 1174.7,575.5 1174.7,575.4 1174.8,575.3 1174.8,575.3 1174.9,575.2 1175.0,575.1 1175.1,575.1 1175.1,575.0 1175.2,575.0 1175.3,575.0 1175.4,575.0 1226.1,569.8 1226.2,569.8 1257.2,569.8 1257.2,569.8 1257.2,569.7 1255.7,561.1 1255.7,561.1 1255.6,561.0 1249.5,549.9 1249.4,549.9 1249.4,549.9 1248.8,549.9 1248.7,549.9 1248.6,549.9 1248.6,549.8 1248.5,549.8 1248.4,549.8 1248.3,549.7 1248.2,549.7 1248.1,549.6 1248.1,549.5 1248.0,549.5 1248.0,549.4 1247.9,549.3 1247.9,549.2 1247.9,549.1 1234.1,490.1 1234.1,490.1 1234.1,490.1 1209.7,506.8 1209.6,506.9 1209.5,506.9 1209.4,507.0 1209.3,507.0 1209.2,507.0 1209.1,507.0 1209.0,507.0 1209.0,507.0 1208.9,507.0 1208.8,507.0 1196.9,502.5 1196.8,502.5 1196.8,502.5 1199.7,511.2 1199.8,511.3 1199.8,511.4 1199.8,511.5 1199.8,511.6 1199.8,511.7 1199.8,511.8 1199.7,511.9 1199.7,512.0 1199.6,512.1 1199.6,512.2 1199.5,512.2 1184.8,526.9 1184.8,527.0 1184.7,527.0 1184.6,527.1 1184.5,527.1 1184.4,527.1 1184.3,527.2 1184.2,527.2 1184.1,527.2 1184.0,527.2 1183.9,527.2 1183.8,527.1 1170.5,522.7 1170.4,522.7 1170.4,522.7 1164.2,527.3 1164.2,527.3 1164.2,527.4 1167.1,534.5 1167.1,534.6 1167.2,534.7 1167.2,534.8 1167.2,534.9 1167.2,535.0 1167.2,535.1 1167.1,535.2 1167.1,535.3 1167.1,535.4 1167.0,535.5 1166.9,535.6 1155.3,549.5 1155.2,549.6 1155.2,549.7 1155.1,549.7 1155.0,549.8 1154.9,549.8 1154.8,549.8 1154.7,549.9 1154.6,549.9 1154.5,549.9 1150.1,549.9 1150.1,549.9 1150.0,549.9 1142.4,557.8 1142.4,557.9 1142.3,557.9 1142.2,558.0 1142.1,558.0 1126.8,564.2 1126.8,564.2 1126.8,564.2 1120.6,570.4 1120.6,570.4 1120.6,570.4 1119.0,578.1 1119.0,578.1Z"/><path id="z89" d="M1333.5,522.7 1350.6,519.6 1367.6,513.4 1363.0,494.7 1358.3,473.0 1322.6,500.3 1297.8,521.1 1302.4,539.8 1310.2,550.0 1316.4,541.3Z"/><path id="z90" d="M1412.7,504.0 1387.8,499.4 1363.0,494.7 1367.6,513.4 1377.0,550.0 1400.2,550.0 1401.8,522.7Z"/><path id="z91" d="M1393.9,561.1 1396.9,570.3 1397.0,570.4 1397.0,570.4 1437.0,558.1 1437.1,558.0 1437.2,558.0 1437.3,558.0 1437.4,558.0 1437.5,558.0 1437.6,558.0 1437.7,558.1 1445.1,561.0 1445.1,561.1 1445.1,561.0 1451.3,549.9 1451.3,549.9 1451.3,549.9 1449.2,549.9 1449.1,549.9 1449.0,549.9 1448.9,549.8 1448.8,549.8 1448.7,549.8 1448.7,549.7 1448.6,549.6 1448.5,549.6 1448.4,549.5 1448.4,549.4 1448.3,549.3 1448.3,549.2 1448.3,549.2 1448.2,549.1 1448.2,549.0 1448.2,548.9 1448.2,548.8 1448.2,548.7 1452.6,528.9 1452.6,528.9 1458.8,504.1 1458.8,504.0 1458.8,504.0 1441.1,505.5 1441.0,505.5 1440.9,505.5 1440.8,505.5 1440.7,505.4 1440.6,505.4 1440.5,505.4 1440.4,505.3 1440.4,505.3 1440.3,505.2 1440.2,505.1 1440.2,505.0 1440.1,505.0 1440.1,504.9 1440.0,504.8 1440.0,504.7 1440.0,504.6 1440.0,504.5 1440.0,504.1 1440.0,504.0 1440.0,504.0 1423.8,507.1 1423.7,507.1 1423.6,507.1 1423.5,507.1 1423.4,507.1 1423.3,507.1 1412.7,504.0 1412.7,504.0 1412.7,504.1 1401.8,522.7 1401.8,522.7 1401.8,522.7 1400.3,548.9 1400.3,549.0 1400.3,549.1 1400.2,549.2 1400.2,549.3 1400.2,549.4 1400.1,549.5 1400.0,549.6 1400.0,549.6 1399.9,549.7 1399.8,549.8 1399.7,549.8 1399.6,549.8 1399.5,549.9 1399.4,549.9 1399.3,549.9 1398.5,549.9 1398.5,549.9 1398.5,549.9 1393.9,561.0 1393.9,561.1Z"/><path id="z92" d="M1310.2,550.0 1311.1,550.0 1311.2,550.0 1311.3,550.0 1311.4,550.0 1311.5,550.1 1311.6,550.1 1311.6,550.2 1311.7,550.2 1311.8,550.3 1311.9,550.4 1311.9,550.5 1314.5,554.7 1314.6,554.8 1314.6,554.9 1314.7,555.0 1314.7,555.1 1317.8,579.7 1317.8,579.7 1317.8,579.7 1326.2,575.5 1326.3,575.4 1326.4,575.4 1326.5,575.4 1326.6,575.4 1326.7,575.4 1326.8,575.4 1326.9,575.4 1326.9,575.4 1327.0,575.5 1327.1,575.5 1327.2,575.6 1327.3,575.6 1327.4,575.7 1327.4,575.8 1327.5,575.8 1327.5,575.9 1333.3,587.4 1333.3,587.5 1333.3,587.4 1373.6,551.8 1373.7,551.7 1373.6,551.7 1373.6,551.6 1373.5,551.6 1373.5,551.5 1373.4,551.4 1373.4,551.3 1373.4,551.2 1373.3,551.1 1373.3,551.0 1373.3,550.9 1373.4,550.8 1373.4,550.7 1373.4,550.6 1373.5,550.5 1373.5,550.4 1373.6,550.4 1373.6,550.3 1373.7,550.2 1373.8,550.2 1373.9,550.1 1374.0,550.1 1374.0,550.0 1374.1,550.0 1374.2,550.0 1374.3,550.0 1376.9,550.0 1377.0,550.0 1377.0,550.0 1367.6,513.4 1367.6,513.4 1367.6,513.4 1350.6,519.5 1350.6,519.6 1350.5,519.6 1333.5,522.7 1333.5,522.7 1333.5,522.7 1316.4,541.3 1316.4,541.3 1310.2,550.0 1310.2,550.0Z"/><path id="z93" d="M1028.5,562.6 1037.7,579.6 1037.8,579.7 1037.8,579.8 1043.9,601.2 1043.9,601.3 1044.0,601.4 1044.0,601.5 1044.0,601.6 1040.9,635.6 1040.9,635.6 1040.9,635.6 1078.6,626.6 1078.7,626.6 1078.8,626.6 1078.9,626.6 1079.0,626.6 1079.1,626.6 1079.2,626.6 1079.3,626.7 1079.4,626.7 1079.5,626.8 1079.6,626.9 1079.6,626.9 1079.7,627.0 1079.8,627.1 1079.8,627.2 1079.8,627.3 1079.9,627.4 1079.9,627.5 1079.9,627.6 1079.9,627.8 1079.9,627.8 1079.9,627.8 1108.1,620.1 1108.1,620.1 1108.2,620.0 1115.9,613.9 1115.9,613.9 1115.9,613.8 1120.6,570.4 1120.6,570.4 1120.5,570.4 1114.6,561.4 1114.6,561.4 1114.5,561.3 1114.5,561.2 1114.5,561.1 1114.4,561.0 1114.4,560.9 1114.4,560.8 1114.4,560.7 1114.5,560.6 1117.4,549.9 1117.5,549.9 1117.4,549.9 1107.7,549.9 1107.6,549.9 1107.5,549.9 1107.4,549.8 1107.3,549.8 1107.2,549.8 1107.1,549.7 1107.0,549.6 1107.0,549.6 1106.9,549.5 1106.8,549.4 1106.8,549.3 1106.7,549.3 1106.7,549.2 1106.7,549.1 1106.7,549.0 1103.7,519.7 1103.7,519.7 1103.7,519.6 1103.7,519.5 1103.7,519.4 1108.3,501.0 1108.3,500.9 1108.3,500.9 1106.8,490.1 1106.8,490.1 1106.7,490.1 1091.3,494.7 1091.2,494.7 1091.2,494.7 1080.4,507.1 1080.4,507.1 1080.4,507.2 1074.3,525.4 1074.3,525.5 1074.2,525.6 1074.2,525.6 1074.1,525.7 1074.0,525.8 1074.0,525.9 1073.9,525.9 1073.8,526.0 1058.7,533.5 1058.6,533.5 1058.6,533.6 1049.7,549.4 1049.6,549.4 1049.6,549.5 1049.5,549.6 1049.4,549.7 1049.3,549.7 1049.3,549.8 1049.2,549.8 1049.1,549.8 1049.0,549.9 1048.9,549.9 1048.8,549.9 1047.1,549.9 1047.1,549.9 1047.1,549.9 1038.0,560.8 1037.9,560.8 1037.9,560.9 1037.8,561.0 1037.7,561.0 1037.6,561.1 1037.5,561.1 1037.4,561.1 1028.5,562.6 1028.4,562.6Z"/><path id="z94" d="M1133.2,538.2 1154.9,536.6 1164.2,527.3 1170.4,522.7 1164.2,511.8 1184.4,527.3 1128.5,473.0 1117.6,491.6 1106.8,490.1 1108.3,500.9 1103.7,519.6 1106.8,550.0 1123.9,550.0Z"/><path id="z95" d="M1164.2,519.6 1168.9,525.8 1175.1,521.1 1164.2,511.8Z"/><path id="z96" d="M1114.4,561.1 1120.5,570.4 1120.6,570.4 1120.6,570.4 1126.6,564.3 1126.7,564.2 1126.8,564.2 1126.9,564.1 1127.0,564.1 1142.3,558.0 1142.3,557.9 1142.3,557.9 1149.6,550.3 1149.7,550.2 1149.8,550.2 1149.9,550.1 1150.0,550.1 1150.1,550.0 1150.2,550.0 1150.3,550.0 1150.4,550.0 1154.9,550.0 1154.9,550.0 1154.9,550.0 1167.3,535.1 1167.3,535.1 1167.3,535.1 1164.2,527.4 1164.2,527.3 1164.2,527.3 1155.2,536.4 1155.1,536.5 1155.0,536.5 1154.9,536.6 1154.8,536.6 1154.7,536.6 1154.6,536.7 1154.5,536.7 1133.2,538.2 1133.2,538.2 1133.2,538.2 1124.2,549.5 1124.2,549.6 1124.1,549.6 1124.0,549.7 1123.9,549.8 1123.9,549.8 1123.8,549.8 1123.7,549.9 1123.6,549.9 1123.5,549.9 1117.5,549.9 1117.5,549.9 1117.4,549.9 1114.4,561.0 1114.3,561.1Z"/><path id="z97" d="M1519.4,291.3 1547.3,283.5 1547.3,274.2 1536.5,261.8 1539.6,250.9 1477.5,246.9 1471.2,292.9 1502.3,309.9 1510.1,313.0 1513.2,305.3Z"/><path id="z98" d="M1581.5,296.0 1583.0,291.3 1600.1,285.1 1602.6,274.2 1596.4,263.4 1596.4,254.7 1539.6,250.9 1536.5,261.8 1547.3,274.2 1548.9,294.4 1559.8,300.6Z"/><path id="z99" d="M1581.5,296.0 1570.0,296.0 1572.2,322.4 1618.8,294.4 1631.2,299.1 1642.0,289.8 1651.4,283.5 1645.2,274.2 1648.3,257.8 1596.4,254.7 1596.4,263.4 1602.6,274.2 1600.1,285.1 1583.0,291.3Z"/><path id="z100" d="M1693.3,285.1 1701.1,289.8 1708.8,296.0 1719.7,294.4 1730.6,280.4 1721.2,229.2 1697.4,259.3 1698.0,259.3 1696.8,259.6 1697.0,259.3 1648.3,257.8 1645.2,274.2 1651.4,283.5 1642.0,289.8 1682.4,289.8Z"/><path id="z101" d="M1772.5,240.1 1795.8,241.6 1806.6,224.5 1766.1,181.6 1765.7,182.0 1765.7,185.7 1766.3,226.7 1765.7,226.5 1765.7,227.0 1741.0,219.3 1725.2,226.0 1721.2,229.2 1730.6,280.4 1744.5,257.1 1761.6,260.2 1760.1,246.3Z"/><path id="z102" d="M1806.6,224.5 1806.6,224.5 1806.7,224.5 1820.0,224.5 1820.0,224.5 1820.1,224.5 1820.2,224.5 1820.3,224.6 1820.4,224.6 1843.5,232.2 1843.5,232.2 1843.5,232.2 1854.3,215.1 1854.3,215.1 1868.3,193.4 1868.3,193.3 1879.2,173.2 1879.2,173.2 1879.2,173.2 1846.7,153.1 1845.5,156.2 1840.7,170.7 1840.7,170.7 1840.6,170.8 1840.6,170.9 1840.5,171.0 1840.4,171.1 1840.4,171.1 1840.3,171.2 1840.2,171.2 1840.1,171.3 1840.0,171.3 1839.9,171.3 1839.8,171.3 1839.7,171.3 1839.6,171.3 1839.6,171.5 1804.4,160.1 1798.9,158.7 1798.9,158.7 1798.9,158.7 1780.3,167.1 1780.2,167.1 1780.2,167.1 1776.8,170.4 1766.1,181.6Z"/><path id="z103" d="M1812.9,232.3 1820.0,243.1 1820.0,243.2 1820.0,243.1 1820.0,242.2 1820.0,242.1 1820.0,242.0 1820.0,241.9 1820.1,241.8 1820.1,241.7 1820.2,241.6 1820.2,241.5 1820.3,241.4 1820.4,241.4 1820.5,241.3 1820.5,241.3 1820.6,241.2 1820.7,241.2 1820.8,241.2 1820.9,241.2 1821.0,241.2 1821.1,241.2 1821.2,241.2 1821.3,241.2 1821.4,241.3 1821.5,241.3 1821.6,241.4 1821.7,241.4 1821.7,241.5 1821.8,241.5 1837.2,256.9 1837.3,257.0 1837.3,257.1 1852.7,281.8 1852.8,281.9 1852.8,282.0 1863.7,311.3 1863.7,311.4 1863.7,311.4 1886.9,326.9 1887.0,326.9 1887.0,326.9 1893.1,325.3 1893.2,325.3 1893.2,325.3 1891.7,312.0 1891.7,311.9 1891.7,311.8 1891.7,311.7 1891.7,311.6 1891.7,311.5 1891.8,311.4 1891.8,311.3 1891.9,311.2 1892.0,311.2 1892.0,311.1 1892.1,311.0 1900.9,305.2 1900.9,305.2 1900.9,305.1 1897.9,287.1 1897.9,287.0 1897.9,286.9 1897.9,286.8 1897.9,286.7 1898.0,286.6 1898.0,286.5 1898.1,286.5 1898.1,286.4 1898.2,286.3 1898.3,286.2 1898.3,286.2 1908.7,278.8 1908.7,278.8 1908.7,278.7 1893.2,266.3 1893.2,266.3 1893.1,266.3 1883.9,263.2 1883.9,263.2 1883.8,263.2 1862.7,260.2 1862.7,260.2 1862.6,260.2 1862.5,260.1 1862.4,260.1 1862.3,260.0 1862.2,260.0 1862.2,259.9 1862.1,259.8 1862.0,259.8 1862.0,259.7 1862.0,259.6 1861.9,259.5 1857.5,244.6 1857.5,244.6 1857.4,244.6 1843.5,232.2 1843.5,232.2 1843.5,232.2 1828.0,230.6 1828.0,230.6 1827.9,230.6 1821.1,231.4 1821.0,231.4 1820.9,231.4 1820.8,231.4 1820.7,231.3 1820.6,231.3 1820.5,231.3 1820.5,231.2 1820.4,231.2 1820.3,231.1 1820.2,231.0 1820.2,230.9 1820.1,230.9 1820.1,230.8 1820.0,230.7 1820.0,230.6 1820.0,230.5 1820.0,230.4 1820.0,229.2 1820.0,229.2 1820.0,229.2 1812.9,232.3 1812.9,232.3Z"/><path id="z104" d="M1791.1,257.1 1795.8,241.6 1772.5,240.1 1760.1,246.3 1761.6,260.2 1763.2,278.9 1783.4,274.2 1795.8,278.9Z"/><path id="z105" d="M1774.0,258.1 1786.5,257.1 1784.9,249.4 1772.5,250.9Z"/><path id="z106" d="M1791.1,257.2 1795.8,278.9 1795.8,278.9 1795.8,278.9 1802.0,289.7 1802.0,289.8 1819.8,323.5 1819.8,323.6 1819.9,323.7 1819.9,323.8 1819.9,323.8 1819.9,323.8 1829.5,340.8 1829.5,340.9 1829.5,340.8 1840.2,321.0 1840.3,320.9 1840.3,320.8 1840.4,320.8 1840.5,320.7 1840.5,320.6 1840.6,320.6 1840.7,320.5 1863.6,311.4 1863.7,311.4 1863.7,311.3 1852.8,281.9 1852.8,281.9 1852.8,281.8 1837.3,257.0 1837.3,257.0 1837.2,257.0 1821.8,241.5 1821.7,241.5 1820.4,240.3 1820.3,240.3 1820.2,240.2 1820.2,240.1 1820.1,240.0 1820.1,240.0 1820.0,239.9 1820.0,239.8 1820.0,239.7 1820.0,239.6 1820.0,224.6 1820.0,224.5 1820.0,224.5 1806.7,224.5 1806.6,224.5 1806.6,224.6 1795.8,241.6 1795.8,241.6 1795.8,241.6 1791.1,257.1 1791.1,257.1Z"/><path id="z107" d="M1792.7,344.1 1820.0,341.0 1820.0,323.9 1802.0,289.8 1795.8,278.9 1783.4,274.2 1763.2,278.9 1761.6,260.2 1744.5,257.1 1730.6,280.4 1719.7,294.4 1769.4,327.0 1772.5,341.0 1781.8,330.1Z"/><path id="z108" d="M1642.0,289.8 1645.2,302.2 1652.9,308.4 1684.0,305.3 1682.4,289.8Z"/><path id="z109" d="M1708.8,296.0 1701.1,289.8 1693.3,285.1 1682.4,289.8 1684.0,305.3 1679.3,328.6 1701.1,328.6 1707.3,317.7Z"/><path id="z110" d="M1676.2,328.6 1679.3,328.6 1684.0,305.3 1652.9,308.4Z"/><path id="z111" d="M1642.0,289.8 1631.2,299.1 1618.8,294.4 1626.5,330.1 1654.5,319.3 1652.9,308.4 1645.2,302.2Z"/><path id="z112" d="M1725.9,355.0 1755.4,372.0 1772.5,341.0 1769.4,327.0 1719.7,294.4 1708.8,296.0 1707.3,317.7 1701.1,328.6 1696.4,331.7 1718.1,344.1Z"/><path id="z113" d="M1568.4,356.5 1572.2,322.4 1570.0,296.0 1559.8,300.6 1548.9,294.4 1547.3,283.5 1519.4,291.3 1513.2,305.3 1510.1,313.0 1502.3,309.9 1471.2,292.9 1471.2,305.3 1489.9,333.2 1499.2,350.3 1558.2,362.7Z"/><path id="z114" d="M1499.2,350.3 1489.9,333.2 1471.2,305.3 1465.0,322.4 1456.6,390.7 1475.9,395.3 1479.0,386.0 1497.6,373.6Z"/><path id="z115" d="M1541.1,382.9 1558.2,362.7 1499.2,350.3 1497.6,373.6 1507.0,381.4 1513.2,376.7 1522.5,378.3Z"/><path id="z116" d="M1510.1,389.1 1522.5,378.3 1513.2,376.7 1507.0,381.4 1497.6,373.6 1479.0,386.0 1477.5,395.3 1486.8,401.6 1483.7,414.0 1489.9,418.6Z"/><path id="z117" d="M1626.5,330.1 1618.8,294.4 1572.2,322.4 1568.4,356.5 1578.4,370.5 1612.5,400.0 1636.8,389.1Z"/><path id="z118" d="M1612.5,400.0 1578.4,370.5 1568.4,356.5 1558.2,362.7 1541.1,382.9 1547.3,404.7 1564.4,414.0 1581.5,420.2 1608.8,407.8Z"/><path id="z119" d="M1679.3,328.6 1676.2,328.6 1654.5,319.3 1626.5,330.1 1634.3,379.8 1662.2,370.5 1671.6,372.0 1693.3,333.2Z"/><path id="z120" d="M1685.5,398.4 1679.3,381.4 1671.6,372.0 1662.2,370.5 1634.3,379.8 1636.8,389.1 1628.7,395.3 1634.3,418.6 1684.0,420.2Z"/><path id="z121" d="M1696.4,379.8 1693.3,367.4 1705.7,364.3 1725.9,355.0 1718.1,344.1 1696.4,331.7 1693.3,333.2 1671.6,372.0 1679.3,381.4 1685.5,398.4 1687.1,398.4Z"/><path id="z122" d="M1687.1,406.2 1724.3,410.9 1730.6,417.1 1747.6,389.1 1741.4,378.3 1755.4,372.0 1725.9,355.0 1705.7,364.3 1693.3,367.4 1696.4,379.8 1687.1,398.4Z"/><path id="z123" d="M1791.1,382.9 1792.7,344.1 1781.8,330.1 1772.5,341.0 1755.4,372.0 1741.4,378.3 1747.6,389.1 1769.4,412.4 1794.2,396.9Z"/><path id="z124" d="M1791.1,382.9 1791.1,382.9 1794.2,396.9 1794.2,396.9 1803.5,426.4 1803.5,426.4 1803.6,426.4 1820.0,421.7 1820.0,421.7 1820.0,421.7 1820.0,418.7 1820.0,418.6 1820.0,418.5 1820.0,418.4 1820.1,418.3 1820.1,418.2 1820.2,418.2 1820.2,418.1 1831.0,404.6 1831.1,404.5 1831.1,404.5 1829.5,380.1 1829.5,380.0 1829.5,379.9 1829.6,379.8 1829.6,379.7 1829.6,379.6 1829.7,379.5 1829.7,379.5 1829.8,379.4 1839.9,367.8 1839.9,367.8 1840.0,367.7 1840.1,367.7 1840.2,367.6 1840.3,367.6 1840.4,367.5 1840.5,367.5 1840.6,367.5 1840.7,367.5 1840.8,367.5 1840.9,367.5 1841.0,367.6 1841.1,367.6 1852.8,373.5 1852.8,373.5 1852.8,373.5 1855.9,370.4 1855.9,370.4 1855.9,370.3 1851.2,344.0 1851.2,344.0 1851.2,344.0 1840.4,320.7 1840.4,320.7 1840.4,320.7 1829.7,340.4 1829.7,340.5 1829.6,340.6 1829.6,340.7 1829.5,340.7 1829.4,340.8 1829.3,340.9 1829.2,340.9 1829.1,340.9 1829.0,340.9 1821.2,342.2 1821.1,342.2 1821.0,342.2 1820.9,342.2 1820.8,342.2 1820.7,342.2 1820.6,342.1 1820.5,342.1 1820.4,342.0 1820.4,342.0 1820.3,341.9 1820.2,341.9 1820.2,341.8 1820.1,341.7 1820.1,341.6 1820.0,341.5 1820.0,341.4 1820.0,341.3 1820.0,341.2 1820.0,341.0 1820.0,341.0 1820.0,341.0 1792.7,344.1 1792.7,344.1 1792.7,344.1 1791.1,382.9 1791.1,382.9 1791.1,382.9Z"/><path id="z125" d="M1805.1,449.7 1803.5,426.4 1794.2,396.9 1769.4,412.4 1770.9,435.7 1746.1,452.8 1757.0,466.8 1777.1,457.5Z"/><path id="z126" d="M1769.4,412.4 1747.6,389.1 1730.6,417.1 1730.6,431.1 1746.1,452.8 1770.9,435.7Z"/><path id="z127" d="M1716.6,435.7 1730.6,431.1 1730.6,417.1 1724.3,410.9 1687.1,406.2 1677.8,420.2 1676.2,435.7 1687.1,445.0 1713.5,446.6Z"/><path id="z128" d="M1716.6,435.7 1743.0,482.3 1752.3,488.5 1761.6,474.5 1725.9,429.5Z"/><path id="z129" d="M1757.0,466.8 1761.6,474.5 1764.7,479.8 1797.3,479.2 1805.1,449.7 1777.1,457.5Z"/><path id="z130" d="M1802.0,471.4 1819.0,472.9 1819.1,472.9 1819.2,472.9 1819.2,473.0 1819.3,473.0 1819.4,473.1 1819.5,473.1 1819.6,473.2 1819.6,473.2 1819.7,473.3 1819.8,473.4 1819.8,473.5 1819.8,473.6 1819.9,473.7 1819.9,473.8 1819.9,473.9 1819.9,480.0 1819.9,480.0 1819.9,480.0 1821.7,480.0 1821.7,480.0 1821.7,480.0 1826.3,451.9 1826.3,451.8 1826.3,451.7 1826.4,451.6 1826.4,451.5 1826.5,451.4 1826.5,451.3 1826.6,451.3 1826.7,451.2 1826.8,451.2 1826.9,451.1 1827.0,451.1 1827.1,451.1 1827.2,451.0 1840.3,449.6 1840.4,449.6 1840.4,449.5 1840.4,440.6 1840.4,440.5 1840.4,440.4 1840.4,440.3 1840.5,440.2 1840.5,440.1 1840.6,440.0 1851.2,424.7 1851.2,424.7 1851.2,424.7 1849.7,406.1 1849.7,406.1 1849.7,406.1 1831.1,404.5 1831.1,404.5 1831.0,404.6 1815.6,422.8 1815.5,422.9 1815.5,422.9 1815.4,423.0 1815.3,423.1 1815.2,423.1 1815.1,423.1 1803.6,426.4 1803.5,426.4 1803.5,426.4 1805.1,449.6 1805.1,449.7 1805.1,449.8 1802.0,471.4 1802.0,471.4Z"/><path id="z131" d="M1665.3,466.8 1685.5,455.9 1687.1,445.0 1676.2,435.7 1677.8,420.2 1684.0,420.2 1634.3,418.6 1628.7,424.8 1607.9,474.5 1646.7,496.3Z"/><path id="z132" d="M1634.3,418.6 1628.7,395.3 1636.8,389.1 1612.5,400.0 1608.8,407.8 1581.5,420.2 1566.0,449.7 1584.6,460.6 1607.9,474.5 1628.7,424.8Z"/><path id="z133" d="M1547.3,404.7 1528.1,441.9 1566.0,449.7 1581.5,420.2 1564.4,414.0Z"/><path id="z134" d="M1528.1,441.9 1547.3,404.7 1541.1,382.9 1522.5,378.3 1510.1,389.1 1489.9,418.6 1482.1,435.7 1532.4,463.7 1536.5,451.2Z"/><path id="z135" d="M1482.1,435.7 1477.5,437.3 1465.0,485.4 1500.7,502.5 1527.1,493.2 1532.4,463.7Z"/><path id="z136" d="M1578.4,473.0 1584.6,460.6 1566.0,449.7 1536.5,451.2 1532.4,463.7 1527.1,493.2 1545.8,504.0 1581.5,511.8Z"/><path id="z137" d="M1584.6,460.6 1578.4,473.0 1581.5,502.5 1600.1,499.4 1607.9,474.5Z"/><path id="z138" d="M1573.7,550.0 1629.6,550.0 1637.4,536.6 1634.3,522.7 1646.7,513.4 1640.5,500.9 1646.7,496.3 1607.9,474.5 1600.1,499.4 1581.5,502.5 1581.5,511.8 1572.2,532.0Z"/><path id="z139" d="M1623.7,551.8 1636.1,578.1 1636.1,578.1 1636.1,578.1 1640.7,581.2 1640.7,581.2 1640.8,581.2 1667.1,576.6 1667.1,576.6 1667.1,576.6 1665.6,549.9 1665.6,549.9 1665.6,549.9 1665.5,549.8 1665.5,549.7 1665.4,549.6 1665.4,549.5 1665.4,549.4 1665.3,549.3 1665.3,549.2 1665.3,510.3 1665.3,510.2 1665.3,510.2 1646.7,496.3 1646.7,496.3 1646.7,496.3 1640.5,500.9 1640.5,500.9 1640.5,501.0 1646.3,512.6 1646.4,512.7 1646.4,512.8 1646.4,512.9 1646.4,513.0 1646.4,513.1 1646.4,513.2 1646.4,513.3 1646.4,513.4 1646.3,513.5 1646.3,513.6 1646.2,513.6 1646.2,513.7 1646.1,513.8 1646.0,513.9 1634.3,522.7 1634.3,522.7 1634.3,522.7 1637.3,536.3 1637.3,536.4 1637.3,536.4 1637.3,536.5 1637.3,536.6 1637.3,536.7 1637.3,536.8 1637.2,536.9 1637.2,537.0 1629.9,549.6 1629.8,549.7 1629.8,549.8 1629.7,549.8 1629.6,549.9 1629.5,549.9 1629.5,550.0 1629.4,550.0 1629.3,550.1 1623.7,551.7 1623.7,551.7Z"/><path id="z140" d="M1665.4,550.0 1665.4,550.0 1665.4,550.1 1665.5,550.2 1665.5,550.3 1665.6,550.4 1665.6,550.5 1665.6,550.6 1665.6,550.7 1667.1,576.6 1667.1,576.6 1667.2,576.6 1673.3,576.6 1673.4,576.6 1673.4,576.6 1678.6,574.2 1678.7,574.2 1678.8,574.1 1678.9,574.1 1679.0,574.1 1679.1,574.1 1679.2,574.1 1679.3,574.1 1679.4,574.2 1679.4,574.2 1679.5,574.3 1679.6,574.3 1679.7,574.4 1679.8,574.4 1679.8,574.5 1679.9,574.6 1679.9,574.7 1680.0,574.8 1680.0,574.9 1680.0,575.0 1680.0,575.0 1703.3,566.6 1703.3,566.6 1703.3,566.6 1711.7,560.1 1711.7,560.1 1711.7,560.0 1710.7,550.8 1710.7,550.7 1710.7,550.7 1707.1,545.2 1707.0,545.2 1707.0,545.1 1704.2,538.7 1704.2,538.6 1700.6,528.7 1700.6,528.6 1700.6,528.5 1700.6,528.4 1700.6,528.3 1700.6,528.2 1700.6,528.1 1700.6,528.1 1703.3,520.0 1703.3,520.0 1703.3,520.0 1703.2,520.0 1703.2,519.9 1703.1,519.8 1703.0,519.7 1703.0,519.6 1703.0,519.5 1702.9,519.5 1702.9,519.4 1702.9,519.3 1702.6,511.8 1702.6,511.8 1702.6,511.8 1690.2,507.2 1690.2,507.1 1690.2,507.2 1676.4,511.7 1676.3,511.8 1676.3,511.8 1676.2,511.8 1676.1,511.8 1676.0,511.8 1665.4,510.3 1665.3,510.2 1665.3,510.3 1665.3,550.0 1665.3,550.0Z"/><path id="z141" d="M1705.7,488.5 1707.3,463.7 1705.7,446.6 1687.1,445.0 1685.5,455.9 1665.3,466.8 1646.7,496.3 1665.3,510.2 1676.2,511.8 1690.2,507.1 1696.4,500.9Z"/><path id="z142" d="M1705.7,446.6 1707.3,463.7 1705.7,488.5 1711.9,491.6 1725.9,497.8 1740.0,501.7 1740.0,500.0 1744.6,500.0 1752.3,488.5 1743.0,482.3 1716.6,435.7 1713.5,446.6Z"/><path id="z143" d="M1690.2,507.2 1701.9,511.5 1702.0,511.6 1702.1,511.6 1702.2,511.7 1702.2,511.7 1702.3,511.8 1702.4,511.9 1702.4,512.0 1702.5,512.1 1702.5,512.2 1702.5,512.3 1702.5,512.4 1702.5,512.5 1702.5,512.6 1701.9,520.0 1701.9,520.0 1701.9,520.0 1701.9,520.0 1702.0,520.0 1702.1,520.0 1702.2,520.0 1702.3,520.1 1702.4,520.1 1702.5,520.2 1702.5,520.2 1702.6,520.3 1702.7,520.4 1702.7,520.5 1702.8,520.5 1702.8,520.6 1702.9,520.7 1702.9,520.8 1702.9,520.9 1702.9,521.0 1702.9,521.1 1702.9,521.2 1702.9,521.3 1700.5,528.4 1700.5,528.4 1700.5,528.4 1702.3,529.3 1702.4,529.3 1702.4,529.3 1725.6,526.5 1725.7,526.5 1725.6,526.5 1724.7,520.2 1724.7,520.1 1724.7,520.0 1725.9,497.9 1725.9,497.8 1725.9,497.8 1711.9,491.6 1711.9,491.6 1705.7,488.5 1705.7,488.5 1705.7,488.5 1696.4,500.9 1696.3,501.0 1690.2,507.1 1690.2,507.1Z"/><path id="z144" d="M1702.4,529.3 1704.2,538.6 1704.2,538.6 1704.2,538.7 1707.0,545.1 1707.0,545.2 1707.0,545.2 1710.7,546.1 1710.7,546.1 1710.8,546.1 1737.7,537.7 1737.8,537.7 1737.8,537.7 1749.9,521.9 1749.9,521.9 1749.9,521.8 1750.8,520.0 1750.8,520.0 1750.8,520.0 1750.8,519.9 1750.7,519.9 1750.7,519.8 1749.3,514.8 1749.3,514.7 1747.0,507.0 1747.0,507.0 1747.0,507.0 1742.3,500.0 1742.3,500.0 1742.3,500.0 1741.5,501.4 1741.4,501.5 1741.4,501.6 1741.3,501.6 1741.2,501.7 1741.1,501.7 1741.1,501.8 1741.0,501.8 1740.9,501.9 1740.8,501.9 1740.7,501.9 1740.6,501.9 1740.5,501.9 1740.4,501.9 1740.3,501.8 1740.2,501.8 1740.1,501.8 1740.0,501.7 1740.0,501.7 1740.0,501.7 1740.0,501.7 1725.9,497.8 1725.9,497.8 1725.9,497.9 1724.7,519.8 1724.7,519.9 1724.7,520.0 1724.7,520.0 1724.7,520.0 1725.5,525.5 1725.5,525.6 1725.5,525.7 1725.5,525.8 1725.5,525.9 1725.5,526.0 1725.4,526.1 1725.4,526.2 1725.3,526.3 1725.2,526.3 1725.2,526.4 1725.1,526.5 1725.0,526.5 1724.9,526.6 1724.8,526.6 1724.7,526.6 1724.6,526.6 1702.4,529.3 1702.4,529.3Z"/><path id="z145" d="M1742.3,500.0 1746.9,506.9 1747.0,506.9 1747.0,507.0 1747.0,507.1 1749.3,514.7 1749.3,514.8 1749.3,514.8 1751.7,519.2 1751.7,519.3 1751.8,519.3 1751.8,519.4 1751.8,519.5 1751.8,519.7 1751.8,519.8 1751.8,519.9 1751.8,520.0 1751.7,520.0 1751.7,520.0 1752.7,522.8 1752.7,522.8 1752.7,522.8 1761.0,528.4 1761.1,528.4 1761.1,528.4 1775.9,529.3 1776.0,529.3 1776.0,529.3 1773.5,521.3 1773.5,521.2 1773.5,521.1 1773.5,521.0 1773.5,520.9 1773.5,520.8 1773.6,520.7 1773.6,520.6 1773.6,520.5 1773.7,520.4 1773.8,520.3 1773.8,520.2 1773.9,520.2 1774.0,520.1 1774.1,520.1 1774.2,520.0 1774.3,520.0 1774.3,520.0 1774.3,520.0 1777.3,510.1 1777.3,510.1 1777.2,510.1 1759.4,500.0 1759.4,500.0 1759.4,500.0 1756.5,500.0 1756.4,500.0 1756.3,500.0 1756.2,500.0 1756.1,499.9 1756.0,499.9 1750.4,496.9 1750.3,496.8 1750.2,496.8 1750.1,496.7 1750.1,496.6 1750.0,496.6 1749.9,496.5 1749.9,496.4 1749.9,496.3 1749.8,496.2 1749.8,496.1 1749.8,496.0 1749.8,495.9 1749.8,495.8 1749.9,495.7 1749.9,495.6 1749.9,495.6 1750.0,495.5 1750.0,495.4 1750.1,495.3 1764.7,479.8 1764.7,479.8 1764.7,479.8 1761.6,474.6 1761.6,474.5 1761.6,474.6 1752.3,488.5 1744.9,499.6 1744.9,499.6 1744.8,499.7 1744.7,499.8 1744.7,499.8 1744.6,499.9 1744.5,499.9 1744.4,500.0 1744.3,500.0 1744.2,500.0 1744.1,500.0 1742.4,500.0 1742.3,500.0Z"/><path id="z146" d="M1749.2,496.3 1756.2,500.0 1756.2,500.0 1756.3,500.0 1759.1,500.0 1759.2,500.0 1759.4,500.0 1759.5,500.0 1759.5,500.1 1759.6,500.1 1777.2,510.1 1777.3,510.1 1777.3,510.1 1789.7,507.0 1789.7,507.0 1789.7,507.0 1793.6,502.4 1793.7,502.4 1793.7,502.3 1793.8,502.2 1793.9,502.2 1794.0,502.2 1794.1,502.1 1794.2,502.1 1794.3,502.1 1794.3,502.1 1794.4,502.1 1794.5,502.1 1794.6,502.1 1794.7,502.2 1794.8,502.2 1794.9,502.2 1795.0,502.3 1795.0,502.4 1795.1,502.4 1804.4,513.2 1804.4,513.2 1804.5,513.2 1809.9,513.2 1809.9,513.2 1809.9,513.2 1817.3,511.0 1817.4,510.9 1817.5,510.9 1817.6,510.9 1817.7,510.9 1817.8,510.9 1817.9,511.0 1818.0,511.0 1825.1,513.9 1825.2,513.9 1825.3,514.0 1825.4,514.0 1825.4,514.1 1825.5,514.2 1825.6,514.2 1829.4,520.0 1829.4,520.0 1829.4,520.0 1839.5,520.0 1839.5,520.0 1839.5,520.0 1844.0,514.0 1844.1,513.9 1851.5,500.5 1851.6,500.4 1851.6,500.3 1851.7,500.3 1851.8,500.2 1851.9,500.1 1852.0,500.1 1852.1,500.0 1852.2,500.0 1852.2,500.0 1852.2,500.0 1852.2,500.0 1854.3,491.1 1854.4,491.0 1859.8,477.1 1859.8,477.1 1859.8,477.1 1858.2,474.8 1858.2,474.8 1858.2,474.8 1821.8,477.1 1821.7,477.1 1821.7,477.1 1821.6,477.2 1821.6,477.2 1821.5,477.3 1821.4,477.3 1821.3,477.4 1821.2,477.4 1821.1,477.4 1821.0,477.4 1820.9,477.4 1820.8,477.4 1820.7,477.4 1820.6,477.3 1820.5,477.3 1820.4,477.2 1820.4,477.2 1820.3,477.1 1820.2,477.0 1820.2,477.0 1820.1,476.9 1820.1,476.8 1820.0,476.7 1820.0,476.6 1820.0,476.5 1820.0,476.4 1820.0,473.0 1820.0,473.0 1820.0,473.0 1802.0,471.4 1802.0,471.4 1802.0,471.5 1797.6,478.7 1797.6,478.8 1797.5,478.9 1797.4,479.0 1797.3,479.0 1797.3,479.1 1797.2,479.1 1797.1,479.2 1797.0,479.2 1796.9,479.2 1796.8,479.2 1764.7,479.8 1764.7,479.8 1764.7,479.8 1749.2,496.3 1749.2,496.3Z"/><path id="z147" d="M1500.7,502.5 1465.0,485.4 1458.8,504.0 1452.6,528.9 1485.2,541.3 1496.1,527.3 1513.2,511.8Z"/><path id="z148" d="M1545.8,504.0 1527.1,493.2 1500.7,502.5 1513.2,511.8 1497.6,527.3 1572.2,532.0 1581.5,511.8Z"/><path id="z149" d="M1485.2,541.3 1486.8,550.0 1486.8,550.0 1486.8,550.0 1492.6,550.0 1492.7,550.0 1492.8,550.0 1492.9,550.0 1493.0,550.1 1493.1,550.1 1493.2,550.2 1493.2,550.2 1493.3,550.3 1493.4,550.4 1493.4,550.4 1493.5,550.5 1493.5,550.6 1497.9,561.0 1497.9,561.1 1497.9,561.1 1508.7,573.5 1508.8,573.5 1508.8,573.5 1525.7,565.8 1525.8,565.7 1526.0,565.7 1550.6,561.1 1550.6,561.1 1550.7,561.1 1550.8,561.1 1569.3,562.6 1569.3,562.6 1569.3,562.6 1569.3,551.0 1569.3,550.9 1569.3,550.8 1569.4,550.7 1569.4,550.6 1569.4,550.5 1569.5,550.4 1569.5,550.4 1569.6,550.3 1569.7,550.2 1569.8,550.2 1569.8,550.1 1569.9,550.1 1570.0,550.0 1570.1,550.0 1570.2,550.0 1570.3,550.0 1573.7,550.0 1573.7,550.0 1573.7,550.0 1572.2,532.0 1572.2,532.0 1572.2,532.0 1496.1,527.3 1496.1,527.3 1496.1,527.3 1485.2,541.3 1485.2,541.3Z"/><path id="z150" d="M1445.1,561.1 1456.0,599.9 1456.0,599.9 1456.0,599.9 1469.9,593.7 1469.9,593.7 1470.0,593.6 1477.4,584.7 1477.5,584.6 1477.6,584.5 1477.7,584.5 1477.7,584.4 1477.8,584.4 1477.9,584.3 1478.0,584.3 1478.1,584.3 1508.7,581.2 1508.8,581.2 1508.7,581.2 1497.9,561.1 1497.9,561.0 1493.2,549.9 1493.2,549.9 1493.2,549.9 1487.6,549.9 1487.5,549.9 1487.4,549.9 1487.3,549.8 1487.2,549.8 1487.1,549.8 1487.0,549.7 1486.9,549.6 1486.9,549.6 1486.8,549.5 1486.7,549.4 1486.7,549.3 1486.7,549.2 1486.6,549.1 1486.6,549.1 1485.2,541.3 1485.2,541.3 1485.2,541.3 1452.6,528.9 1452.6,528.9 1452.6,528.9 1448.0,550.0 1448.0,550.0 1448.0,550.0 1449.5,550.0 1449.6,550.0 1449.7,550.0 1449.8,550.0 1449.9,550.1 1450.0,550.1 1450.1,550.2 1450.2,550.2 1450.2,550.3 1450.3,550.4 1450.4,550.5 1450.4,550.5 1450.5,550.6 1450.5,550.7 1450.5,550.8 1450.5,550.9 1450.5,551.0 1450.5,551.1 1450.5,551.2 1450.5,551.3 1450.5,551.4 1450.4,551.5 1445.1,561.0 1445.1,561.1Z"/><path id="z151" d="M1862.5,128.7 1860.7,130.3 1852.8,139.0 1848.3,149.0 1847.7,150.6 1846.7,153.1 1879.2,173.2 1890.1,160.1 1897.8,157.6 1879.2,126.6Z"/><path id="z152" d="M1939.8,149.9 1941.3,139.0 1935.1,107.3 1919.6,111.1 1910.1,116.2 1903.6,120.3 1882.0,125.8 1879.2,126.6 1897.8,157.6 1905.6,162.3 1919.6,160.7 1930.4,145.2Z"/><path id="z153" d="M1995.4,163.9 1994.9,159.9 1994.0,121.8 1993.0,120.8 1992.4,120.5 1973.9,129.7 1970.8,127.0 1954.8,114.5 1946.1,109.7 1935.1,107.3 1941.3,139.0 1939.8,149.9 1961.5,170.1 1973.9,171.6Z"/><path id="z154" d="M1978.6,182.5 1996.7,173.4 1995.4,163.9 1973.9,171.6 1961.5,170.1 1939.8,149.9 1930.4,145.2 1919.6,160.7 1922.7,170.1 1928.9,190.2 1936.6,184.0 1961.5,179.4Z"/><path id="z155" d="M1919.6,160.7 1905.6,162.3 1897.8,157.6 1890.1,160.1 1879.2,173.2 1868.3,193.4 1899.4,213.5 1928.9,190.2 1922.7,170.1Z"/><path id="z156" d="M1978.6,221.3 2004.8,219.8 2003.6,213.3 2000.3,198.0 1999.5,191.5 1997.9,183.2 1996.7,173.4 1978.6,182.5 1961.5,179.4 1936.6,184.0 1928.9,190.2 1924.2,201.1 1949.1,196.5 1953.7,216.6 1961.5,222.9Z"/><path id="z157" d="M1949.1,196.5 1924.2,201.1 1928.9,190.2 1899.4,213.5 1924.2,233.7 1942.9,226.0 1961.5,222.9 1953.7,216.6Z"/><path id="z158" d="M1868.3,193.4 1854.3,215.1 1843.5,232.2 1857.5,244.6 1859.0,235.3 1902.5,218.2 1899.4,213.5Z"/><path id="z159" d="M1902.5,218.2 1859.0,235.3 1862.1,260.1 1883.9,263.2 1893.2,266.3 1924.2,233.7Z"/><path id="z160" d="M1967.7,243.0 1986.3,238.4 1992.5,244.6 2001.9,235.3 2014.0,247.4 2010.7,239.1 2004.9,220.4 2004.8,219.8 1978.6,221.3 1961.5,222.9 1942.9,226.0 1924.2,233.7 1893.2,266.3 1908.7,278.8 1952.2,257.0 1963.0,253.9Z"/><path id="z161" d="M1961.5,298.9 1963.0,312.9 1980.1,308.3 1984.8,317.6 1991.0,312.9 2006.5,294.3 2023.6,286.5 2040.7,302.0 2045.3,295.8 2036.0,285.0 2026.7,278.8 2024.0,276.8 2022.4,276.3 2016.6,271.7 2016.6,271.5 2015.8,271.0 2018.7,260.9 2018.9,260.0 2014.0,247.4 2001.9,235.3 1992.5,244.6 1986.3,238.4 1967.7,243.0 1963.0,253.9 1952.2,257.0 1908.7,278.8 1897.8,286.5 1916.5,292.7 1927.3,289.6 1936.6,297.4Z"/><path id="z162" d="M1885.4,334.7 1899.4,345.5 1924.2,326.9 1938.2,317.6 1939.8,311.4 1936.0,305.2 1936.6,297.4 1927.3,289.6 1916.5,292.7 1897.8,286.5 1900.9,305.2 1891.6,311.4 1893.2,325.3 1887.0,326.9Z"/><path id="z163" d="M1989.4,353.3 1998.8,351.7 1991.0,334.7 1992.5,314.5 1984.8,317.6 1980.1,308.3 1963.0,312.9 1961.5,298.9 1936.6,297.4 1936.0,305.2 1939.8,311.4 1938.2,317.6 1924.2,326.9Z"/><path id="z164" d="M2026.7,330.0 2040.7,302.0 2023.6,286.5 2006.5,294.3 1991.0,312.9 1984.8,317.6 1992.5,314.5 1991.0,334.7 1998.8,351.7 2032.9,348.6Z"/><path id="z165" d="M2071.7,351.7 2079.5,344.0 2085.7,350.2 2081.3,359.0 2083.2,362.3 2085.7,365.7 2095.0,358.0 2105.9,340.9 2110.6,326.9 2096.6,319.1 2098.1,278.8 2095.6,277.5 2076.0,295.0 2069.0,305.5 2057.3,300.8 2049.5,296.9 2045.3,295.8 2040.7,302.0 2026.7,330.0 2032.9,348.6 2051.2,371.4 2052.7,370.7 2062.0,364.3Z"/><path id="z166" d="M2071.7,351.7 2077.1,357.9 2080.6,357.9 2081.3,359.0 2085.7,350.2 2079.5,344.0Z"/><path id="z167" d="M2126.1,300.5 2116.5,299.6 2109.7,299.6 2109.8,299.0 2109.0,298.9 2110.6,278.8 2106.1,273.4 2100.4,275.2 2096.6,276.6 2095.6,277.5 2098.1,278.8 2096.6,319.1 2110.6,326.9 2126.7,316.6 2127.2,313.6 2127.3,313.1Z"/><path id="z168" d="M1885.4,334.7 1887.0,326.9 1863.7,311.4 1840.4,320.7 1851.2,344.0 1855.9,370.4 1874.5,373.5 1899.4,345.5Z"/><path id="z169" d="M1924.2,326.9 1918.0,328.4 1924.2,353.3 1986.3,361.1 1992.5,364.2 1989.4,353.3Z"/><path id="z170" d="M1899.4,345.5 1874.5,373.5 1928.9,393.7 1932.0,387.5 1924.2,353.3 1918.0,328.4Z"/><path id="z171" d="M1955.9,393.5 1956.4,393.1 1968.2,390.8 1969.3,390.6 1971.6,390.1 1980.4,388.4 1980.4,388.5 1986.3,387.5 1996.3,382.5 2001.2,378.6 1992.5,364.2 1986.3,361.1 1924.2,353.3 1932.0,387.5 1932.0,393.7 1949.1,401.4 1949.9,400.4 1949.4,400.1 1953.2,396.2 1955.3,393.7Z"/><path id="z172" d="M1970.8,373.5 1980.1,379.7 1983.2,387.5 1986.3,375.0 1978.6,370.4Z"/><path id="z173" d="M2039.1,373.5 2049.7,372.2 2051.2,371.4 2032.9,348.6 1998.8,351.7 1989.4,353.3 1992.5,364.2 2001.2,378.6 2003.8,376.5 2010.7,381.2 2018.7,382.1 2026.7,378.1Z"/><path id="z174" d="M1928.9,393.7 1874.5,373.5 1855.9,370.4 1862.1,387.5 1877.6,410.7 1905.6,432.5 1924.2,409.2Z"/><path id="z175" d="M1949.1,415.4 1955.3,412.3 1957.8,406.1 1957.5,404.7 1955.5,403.6 1949.1,401.4 1932.0,393.7 1928.9,393.7 1924.2,409.2 1905.6,432.5 1936.6,441.8 1944.4,424.7Z"/><path id="z176" d="M1945.3,423.2 1952.2,424.7 1956.8,412.3 1949.1,415.4Z"/><path id="z177" d="M1975.5,424.7 1967.7,415.4 1955.3,418.5 1944.4,424.7 1936.6,441.8 1947.5,449.6 1972.1,440.3 1972.4,440.1 1975.7,435.8 1976.7,431.9Z"/><path id="z178" d="M1887.0,410.7 1877.6,410.7 1862.1,387.5 1855.9,370.4 1852.8,373.5 1840.4,367.3 1829.5,379.7 1831.1,404.5 1849.7,406.1 1866.8,426.3 1879.2,420.1Z"/><path id="z179" d="M1911.8,437.1 1905.6,432.5 1877.6,410.7 1879.2,420.1 1866.8,426.3 1849.7,406.1 1851.2,424.7 1866.8,434.0 1877.6,446.5 1883.9,441.8 1896.3,452.7Z"/><path id="z180" d="M1920.5,459.1 1921.0,458.7 1911.8,437.1 1896.3,452.7 1883.9,441.8 1877.6,446.5 1882.3,465.1 1893.2,476.0 1899.4,465.1 1908.7,463.5Z"/><path id="z181" d="M1905.6,432.5 1911.8,437.1 1921.0,458.7 1921.4,458.3 1934.2,461.5 1935.6,461.8 1937.0,461.5 1947.5,449.6 1936.6,441.8Z"/><path id="z182" d="M1840.4,449.6 1855.9,480.0 1855.9,480.0 1855.9,480.0 1864.9,480.0 1865.0,480.0 1865.1,480.0 1865.2,480.0 1865.3,480.1 1865.4,480.1 1865.5,480.2 1865.6,480.2 1865.6,480.3 1865.7,480.4 1865.8,480.5 1865.8,480.5 1865.9,480.6 1865.9,480.7 1865.9,480.8 1865.9,480.9 1865.9,481.0 1865.9,481.1 1865.9,481.2 1865.9,481.3 1865.2,483.3 1865.2,483.3 1865.2,483.3 1876.1,486.4 1876.1,486.4 1876.1,486.4 1883.8,484.8 1883.9,484.8 1883.9,484.8 1891.6,479.4 1891.6,479.4 1891.6,479.4 1891.5,479.0 1891.4,478.9 1891.4,478.8 1891.4,478.7 1891.4,478.6 1891.4,478.5 1891.4,478.4 1891.4,478.4 1891.4,478.3 1891.5,478.2 1891.5,478.1 1891.6,478.0 1893.2,476.0 1893.2,476.0 1893.2,475.9 1888.4,471.2 1888.4,471.1 1888.3,471.1 1888.2,471.0 1888.2,470.9 1887.0,467.8 1887.0,467.8 1886.9,467.8 1885.4,467.8 1885.3,467.8 1885.2,467.7 1885.1,467.7 1885.0,467.7 1884.9,467.6 1884.8,467.6 1884.7,467.5 1884.7,467.5 1882.5,465.3 1882.4,465.2 1882.4,465.2 1882.3,465.1 1882.3,465.0 1882.3,464.9 1882.2,464.8 1877.6,446.5 1877.6,446.5 1877.6,446.4 1866.8,434.1 1866.8,434.0 1866.7,434.0 1851.3,424.7 1851.2,424.7 1851.2,424.7 1840.4,440.2 1840.4,440.2 1840.4,440.3 1840.4,449.5 1840.4,449.6Z"/><path id="z183" d="M1821.7,480.0 1855.9,480.0 1840.4,449.6 1826.4,451.1Z"/><path id="z184" d="M451.4,578.1 478.8,579.7 466.3,565.7 457.0,558.6 452.4,561.1Z"/><path id="z185" d="M506.7,568.8 497.4,581.2 488.1,576.6 478.8,579.7 467.9,593.7 528.4,629.4 530.0,570.4 519.1,567.3Z"/><path id="z186" d="M522.2,665.1 536.2,663.5 537.8,646.5 534.7,627.8 528.4,629.4 467.9,593.7 450.8,621.6 466.3,635.6 467.9,654.2 486.5,671.3Z"/><path id="z187" d="M382.5,672.9 398.0,666.6 399.6,658.9 408.9,657.3 424.4,677.5 419.8,685.3 426.0,700.8 433.7,697.7 435.3,705.5 449.3,703.9 447.7,688.4 458.6,680.6 472.5,688.4 466.3,711.7 474.1,717.9 478.8,702.4 488.1,697.7 503.6,707.0 512.9,722.5 510.4,668.2 486.5,671.3 467.9,654.2 466.3,635.6 450.8,621.6 467.9,593.7 478.8,579.7 451.4,578.1 404.2,576.6 402.7,589.0 398.0,599.9 388.7,576.6 382.5,582.8 380.9,603.0 373.2,601.4 370.1,589.0 357.6,587.5 353.6,574.1 327.7,655.3 326.6,658.9 351.4,689.9 356.1,679.1 373.2,679.1Z"/><path id="z188" d="M413.5,735.0 421.3,719.4 435.3,719.4 435.3,705.5 433.7,697.7 426.0,700.8 419.8,685.3 424.4,677.5 408.9,657.3 399.6,658.9 398.0,666.6 382.5,672.9 373.2,679.1 356.1,679.1 362.3,702.4 350.8,747.4 407.3,751.1 405.8,744.3Z"/><path id="z189" d="M351.4,689.9 326.6,658.9 307.5,714.2 312.6,745.7 323.3,746.3 350.8,747.4 362.3,702.4Z"/><path id="z190" d="M466.3,711.7 472.5,688.4 458.6,680.6 447.7,688.4 449.3,703.9 435.3,705.5 435.3,719.4 443.0,717.9 447.7,725.7 452.4,716.3Z"/><path id="z191" d="M435.3,735.0 421.3,719.4 413.5,735.0 405.8,744.3 407.3,751.1 436.8,753.0Z"/><path id="z192" d="M503.6,707.0 488.1,697.7 478.8,702.4 474.1,717.9 466.3,711.7 452.4,716.3 447.7,725.7 443.0,717.9 435.3,719.4 435.3,735.0 436.8,753.0 501.0,759.9 514.5,761.2 512.9,722.5Z"/><path id="z193" d="M575.0,683.7 581.2,683.7 582.8,676.0 585.9,666.6 590.6,644.9 581.2,623.2 578.1,604.5 573.5,603.0 571.9,595.2 554.8,596.8 553.3,589.0 530.0,590.6 528.4,629.4 534.7,627.8 537.8,646.5 573.5,644.9Z"/><path id="z194" d="M604.5,679.1 609.2,654.2 607.6,648.0 609.2,623.2 604.5,600.8 595.2,603.0 578.1,604.5 581.2,623.2 590.6,644.9 585.9,666.6 582.8,676.0Z"/><path id="z195" d="M578.1,722.5 578.1,707.0 585.9,691.5 581.2,683.7 575.0,683.7 573.5,644.9 537.8,646.5 536.2,663.5 522.2,665.1 510.4,668.2 512.9,722.5 514.5,761.2 514.5,761.2 587.5,766.3 587.5,747.4Z"/><path id="z196" d="M617.0,683.7 615.4,700.8 649.6,710.1 654.2,703.9 655.8,693.0 669.8,696.1 671.3,702.4 686.8,710.1 693.0,707.0 689.9,702.4 707.0,620.1 683.7,604.5 629.4,592.1 626.3,603.0 606.1,604.5 609.2,623.2 607.6,648.0 609.2,654.2 604.5,679.1Z"/><path id="z197" d="M735.0,666.6 719.4,648.0 724.1,637.1 717.9,635.6 713.2,620.1 707.0,620.1 689.9,702.4 716.3,707.0 727.2,694.6 742.7,680.6Z"/><path id="z198" d="M719.4,648.0 735.0,666.6 742.7,672.9 735.0,654.2 724.1,640.2Z"/><path id="z199" d="M735.0,654.2 742.7,672.9 742.7,680.6 727.2,694.6 716.3,707.0 716.3,710.1 727.2,722.5 761.4,728.8 806.4,742.7 814.2,722.5 818.8,703.9 821.9,676.0 820.4,655.8 764.5,638.7 764.5,624.7 758.3,623.2 756.7,609.2 745.8,609.2 744.3,604.5 717.9,607.6 716.3,613.9 713.2,620.1 717.9,635.6 724.1,637.1 724.1,640.2Z"/><path id="z200" d="M764.5,638.7 820.4,655.8 821.9,632.5 832.8,624.7 826.6,623.2 817.3,590.6 811.1,587.5 808.0,579.7 795.5,579.7 794.0,587.5 744.3,592.1 745.8,609.2 756.7,609.2 758.3,623.2 764.5,624.7Z"/><path id="z201" d="M826.6,623.2 839.0,620.1 851.4,604.5 857.6,589.0 870.1,573.5 860.7,571.9 843.7,567.3 829.7,568.8 795.5,571.9 795.5,579.7 808.0,579.7 811.1,587.5 817.3,590.6Z"/><path id="z202" d="M821.9,632.5 820.4,655.8 821.9,676.0 856.1,676.0 860.7,660.4 877.8,648.0 880.9,637.1 865.4,617.0 867.0,604.5 876.3,592.1 877.8,579.7 870.1,573.5 857.6,589.0 851.4,604.5 839.0,620.1 832.8,624.7Z"/><path id="z203" d="M939.9,561.1 922.9,564.2 904.2,579.7 908.9,632.5 924.4,632.5 971.0,626.3 963.2,561.1Z"/><path id="z204" d="M882.5,697.7 913.5,685.3 927.5,683.7 926.0,654.2 915.1,660.4 907.3,669.8 896.5,660.4 901.1,638.7 908.9,632.5 880.9,637.1 877.8,648.0 860.7,660.4 856.1,676.0 860.7,710.1Z"/><path id="z205" d="M924.4,634.0 908.9,634.0 901.1,638.7 896.5,660.4 907.3,669.8 915.1,660.4 926.0,654.2Z"/><path id="z206" d="M991.2,686.8 994.3,668.2 1003.6,663.5 998.9,625.7 971.0,626.3 924.4,632.5 926.0,654.2 927.5,683.7 944.6,682.2 947.7,688.4Z"/><path id="z207" d="M1003.6,663.6 1005.2,676.0 1005.2,676.0 1006.7,691.5 1006.7,691.5 1006.7,691.5 1025.0,686.9 1025.1,686.9 1025.2,686.9 1025.3,686.9 1025.4,686.9 1025.5,686.9 1025.6,687.0 1025.7,687.0 1050.2,699.2 1050.2,699.3 1050.2,699.3 1080.0,702.4 1080.0,702.4 1080.0,702.3 1080.0,690.8 1080.0,690.7 1080.0,690.6 1083.1,670.8 1083.2,670.7 1083.2,670.6 1083.2,670.5 1083.3,670.4 1083.3,670.3 1083.4,670.2 1083.5,670.2 1083.5,670.1 1083.6,670.0 1083.7,670.0 1083.8,670.0 1083.9,669.9 1084.0,669.9 1084.1,669.9 1084.2,669.9 1084.3,669.9 1100.2,672.8 1100.3,672.8 1100.4,672.9 1100.5,672.9 1100.6,673.0 1121.8,688.2 1121.9,688.2 1122.0,688.3 1122.0,688.4 1122.1,688.5 1122.1,688.6 1122.2,688.6 1122.2,688.7 1123.7,694.6 1123.7,694.6 1123.7,694.6 1131.7,686.5 1131.8,686.5 1131.9,686.4 1132.0,686.4 1132.0,686.3 1132.1,686.3 1132.2,686.3 1132.3,686.2 1132.4,686.2 1132.5,686.2 1132.6,686.3 1132.7,686.3 1132.8,686.3 1132.9,686.3 1133.0,686.4 1133.0,686.4 1133.1,686.5 1133.2,686.6 1133.2,686.6 1133.3,686.7 1133.3,686.8 1133.4,686.9 1133.4,687.0 1134.5,691.5 1134.5,691.5 1134.6,691.5 1160.9,689.9 1160.9,689.9 1160.9,689.9 1160.9,682.2 1160.9,682.2 1160.9,682.2 1136.6,683.7 1136.5,683.7 1136.4,683.7 1136.3,683.7 1136.2,683.6 1136.1,683.6 1136.0,683.6 1135.9,683.5 1135.8,683.4 1135.8,683.4 1125.6,671.8 1125.6,671.7 1125.5,671.6 1125.5,671.5 1125.4,671.4 1125.4,671.3 1125.4,671.2 1125.4,671.1 1125.4,671.0 1125.4,670.9 1125.4,670.8 1125.4,670.7 1132.9,651.3 1132.9,651.2 1133.0,651.1 1133.1,651.0 1133.1,651.0 1145.4,638.7 1145.4,638.7 1145.4,638.7 1137.6,613.9 1137.6,613.9 1137.6,613.9 1115.9,613.9 1115.9,613.9 1115.9,613.9 1108.3,619.9 1108.2,620.0 1108.1,620.0 1108.0,620.1 1107.9,620.1 1081.3,627.4 1081.2,627.5 1081.1,627.5 1081.0,627.5 1080.9,627.5 1080.8,627.5 1080.7,627.4 1080.6,627.4 1080.5,627.4 1080.4,627.3 1080.4,627.2 1080.3,627.2 1080.2,627.1 1080.2,627.0 1080.1,626.9 1080.1,626.9 1080.0,626.8 1080.0,626.7 1080.0,626.6 1080.0,626.5 1080.0,626.3 1080.0,626.3 1080.0,626.3 1040.9,635.6 1040.9,635.6 1040.8,635.6 1022.3,646.4 1022.2,646.5 1022.2,646.5 1003.6,663.5 1003.6,663.5Z"/><path id="z208" d="M1005.2,674.4 1033.1,672.9 1031.6,662.0 1003.6,663.5Z"/><path id="z209" d="M1030.0,649.6 1039.3,648.0 1040.9,637.1 1031.6,638.7Z"/><path id="z210" d="M1034.7,676.0 1048.6,669.8 1044.0,652.7 1034.7,660.4Z"/><path id="z211" d="M921.3,728.8 921.3,688.4 913.5,685.3 882.5,697.7 860.7,710.1 870.1,728.8 882.5,744.3 894.9,731.9 907.3,725.7Z"/><path id="z212" d="M876.3,730.3 882.5,731.9 880.9,722.5 873.2,724.1Z"/><path id="z213" d="M947.7,688.4 944.6,682.2 927.5,683.7 913.5,685.3 921.3,688.4 921.3,728.8 935.3,728.8 939.9,694.6Z"/><path id="z214" d="M839.0,731.9 849.9,730.3 857.6,738.1 870.1,738.1 879.4,747.4 882.5,744.3 870.1,728.8 860.7,710.1 856.1,676.0 821.9,676.0 818.8,703.9 814.2,722.5 820.4,722.5 832.8,738.1Z"/><path id="z215" d="M910.4,747.4 952.4,744.3 947.7,688.4 939.9,694.6 935.3,728.8 921.3,728.8 907.3,725.7 894.9,731.9 908.9,741.2Z"/><path id="z216" d="M894.9,731.9 882.5,744.3 887.1,752.0 898.0,758.3 910.4,761.4 908.9,741.2Z"/><path id="z217" d="M1009.8,733.4 1006.7,691.5 1005.2,676.0 1003.6,663.5 994.3,668.2 991.2,686.8 947.7,688.4 952.4,744.3 953.9,745.8 985.0,742.7 988.1,735.0Z"/><path id="z218" d="M1006.7,691.5 1009.8,733.4 1014.5,790.8 1014.5,790.9 1014.5,790.9 1068.0,794.7 1080.0,795.3 1080.0,795.0 1080.0,794.9 1080.0,794.8 1080.0,794.7 1080.1,794.6 1080.1,794.5 1080.2,794.5 1080.2,794.4 1080.3,794.3 1080.4,794.2 1080.5,794.2 1080.6,794.1 1080.6,794.1 1080.7,794.1 1080.8,794.0 1080.9,794.0 1081.0,794.0 1119.0,795.5 1119.0,795.5 1119.0,795.5 1125.2,747.4 1125.2,747.4 1125.2,747.4 1080.9,744.4 1080.8,744.3 1080.7,744.3 1080.6,744.3 1080.5,744.3 1080.5,744.2 1080.4,744.1 1080.3,744.1 1080.2,744.0 1080.2,743.9 1080.1,743.8 1080.1,743.8 1080.0,743.7 1080.0,743.6 1080.0,743.5 1080.0,743.4 1080.0,702.4 1080.0,702.4 1080.0,702.4 1050.4,699.3 1050.3,699.3 1050.2,699.2 1050.1,699.2 1050.0,699.2 1025.4,686.8 1025.3,686.8 1025.3,686.8 1006.7,691.5 1006.7,691.5Z"/><path id="z219" d="M985.0,742.7 953.9,745.8 957.0,788.4 1014.5,790.9 1009.8,733.4 988.1,735.0Z"/><path id="z220" d="M952.4,744.3 910.4,747.4 910.4,761.4 912.0,788.9 946.5,788.6 957.0,788.4 953.9,745.8Z"/><path id="z221" d="M910.4,761.4 898.0,758.3 887.1,752.0 882.5,744.3 879.4,747.4 865.4,775.3 865.4,787.6 865.4,792.2 880.9,792.9 887.1,789.1 912.0,788.9Z"/><path id="z222" d="M854.5,786.1 865.4,787.6 865.4,775.3 879.4,747.4 870.1,738.1 857.6,738.1 849.9,730.3 843.7,735.0 842.1,747.4 835.9,766.0 829.7,782.2Z"/><path id="z223" d="M835.9,766.0 842.1,747.4 843.7,735.0 849.9,730.3 839.0,731.9 832.8,738.1 820.4,722.5 814.2,722.5 806.4,742.7 800.2,779.4 814.2,780.0 829.7,782.2Z"/><path id="z224" d="M800.2,779.4 806.4,742.7 761.4,728.8 727.2,722.5 727.2,736.5 724.1,775.8 736.5,778.3 736.5,778.4 736.5,778.4 734.1,809.3 764.5,806.2 775.3,781.4 784.5,781.1Z"/><path id="z225" d="M587.5,747.4 587.5,766.3 724.1,775.8 724.1,775.8 727.2,736.5 727.2,722.5 716.3,710.1 716.3,707.0 689.9,702.4 693.0,707.0 686.8,710.1 671.3,702.4 669.8,696.1 655.8,693.0 654.2,703.9 649.6,710.1 615.4,700.8 617.0,683.7 604.5,679.1 582.8,676.0 581.2,683.7 585.9,691.5 578.1,707.0 578.1,722.5Z"/><path id="z226" d="M1333.3,587.5 1327.1,575.0 1317.8,579.7 1314.7,554.8 1311.6,549.9 1310.0,559.5 1255.7,561.1 1257.2,569.8 1272.7,569.8 1275.8,593.7 1324.0,593.7Z"/><path id="z227" d="M1125.2,671.3 1136.1,683.7 1160.9,682.2 1159.4,663.5 1165.6,641.8 1179.6,623.2 1178.0,610.7 1167.1,589.0 1160.9,590.6 1159.4,581.2 1145.4,582.8 1143.9,576.6 1119.0,578.1 1117.5,613.9 1137.6,613.9 1145.4,638.7 1133.0,651.1Z"/><path id="z228" d="M1226.1,569.8 1174.9,575.0 1167.1,589.0 1178.0,610.7 1179.6,623.2 1221.5,634.0 1229.3,623.2Z"/><path id="z229" d="M1275.8,593.7 1272.7,569.8 1226.1,569.8 1229.3,623.2 1235.5,672.9 1285.2,669.8 1283.6,658.9Z"/><path id="z230" d="M1188.9,696.1 1188.9,685.3 1201.3,683.7 1202.9,674.4 1210.6,657.3 1201.3,648.0 1202.9,634.0 1179.6,623.2 1165.6,641.8 1159.4,663.5 1160.9,688.4 1181.1,686.8 1182.7,697.7Z"/><path id="z231" d="M1235.5,672.9 1229.3,623.2 1221.5,634.0 1202.9,634.0 1201.3,648.0 1210.6,657.3 1202.9,674.4 1201.3,683.7Z"/><path id="z232" d="M1114.3,644.9 1106.6,634.0 1091.1,643.4 1086.4,654.2 1084.8,669.8 1097.3,674.4 1103.5,671.3 1115.9,660.4Z"/><path id="z233" d="M1324.0,593.7 1275.8,593.7 1283.6,658.9 1285.2,658.9 1320.9,648.0 1333.3,632.5Z"/><path id="z234" d="M1327.1,610.7 1320.9,612.3 1313.1,626.3 1319.3,632.5 1324.0,648.0 1338.0,641.8Z"/><path id="z235" d="M1393.9,561.1 1383.0,548.6 1350.4,575.0 1358.1,584.3 1365.9,579.7 1376.8,585.9 1392.3,573.5Z"/><path id="z236" d="M1358.1,623.2 1370.6,617.0 1365.9,601.4 1370.6,592.1 1365.9,579.7 1358.1,584.3 1350.4,575.0 1333.3,587.5 1324.0,593.7 1327.1,610.7 1338.0,641.8 1359.7,638.7Z"/><path id="z237" d="M1359.7,638.7 1365.9,640.2 1379.9,629.4 1376.8,617.0 1379.9,604.5 1401.6,601.4 1400.1,582.8 1392.3,573.5 1376.8,585.9 1365.9,579.7 1370.6,592.1 1365.9,601.4 1370.6,617.0 1358.1,623.2Z"/><path id="z238" d="M1356.6,582.8 1364.3,579.7 1359.7,570.4 1351.9,571.9Z"/><path id="z239" d="M1383.0,657.3 1389.2,644.9 1414.0,632.5 1404.7,623.2 1401.6,601.4 1379.9,604.5 1376.8,617.0 1379.9,629.4 1367.5,641.8 1373.7,654.2Z"/><path id="z240" d="M1415.6,630.9 1449.8,623.2 1459.1,612.3 1443.5,561.1 1437.3,558.0 1397.0,570.4 1393.9,573.5 1400.1,582.8 1401.6,601.4 1404.7,623.2 1414.0,632.5Z"/><path id="z241" d="M1488.6,646.5 1499.4,637.1 1504.1,620.1 1533.6,613.9 1508.8,581.2 1477.7,584.3 1469.9,593.7 1456.0,599.9 1459.1,612.3 1451.3,623.2 1466.8,629.4 1469.9,643.4Z"/><path id="z242" d="M1558.4,603.0 1556.9,590.6 1567.8,589.0 1569.3,562.6 1550.7,561.1 1525.8,565.7 1508.8,573.5 1508.8,581.2 1533.6,613.9 1544.5,617.0 1553.8,615.4Z"/><path id="z243" d="M1569.3,549.9 1569.3,589.0 1629.9,587.5 1636.1,578.1 1623.7,551.7Z"/><path id="z244" d="M1629.9,587.5 1567.8,589.0 1556.9,590.6 1563.1,596.8 1609.7,623.2 1625.2,620.1 1622.1,599.9Z"/><path id="z245" d="M1608.1,638.7 1609.7,623.2 1563.1,596.8 1558.4,603.0 1553.8,615.4 1546.0,617.0 1567.8,624.7 1569.3,646.5Z"/><path id="z246" d="M1657.8,630.9 1680.0,633.9 1680.0,630.3 1668.7,592.1 1667.1,576.6 1640.7,581.2 1636.1,578.1 1629.9,587.5 1622.1,599.9 1625.2,620.1 1634.5,613.9 1653.2,623.2Z"/><path id="z247" d="M1524.3,682.2 1556.9,679.1 1581.7,649.6 1569.3,646.5 1567.8,624.7 1546.0,617.0 1544.5,617.0 1533.6,613.9 1504.1,620.1 1499.4,637.1 1496.3,652.7 1507.2,671.3 1519.6,672.9Z"/><path id="z248" d="M1468.4,649.6 1469.9,643.4 1466.8,629.4 1451.3,623.2 1449.8,623.2 1415.6,630.9 1418.7,655.8 1437.3,658.9 1445.1,646.5 1454.4,644.9Z"/><path id="z249" d="M1471.5,683.7 1468.4,649.6 1454.4,644.9 1445.1,646.5 1437.3,658.9 1418.7,655.8 1420.2,683.7 1428.0,679.1 1451.3,682.2 1460.6,685.3Z"/><path id="z250" d="M1319.3,649.6 1285.2,658.9 1285.2,669.8 1302.2,669.8 1313.1,666.6 1324.0,649.6Z"/><path id="z251" d="M1367.5,641.8 1365.9,640.2 1359.7,638.7 1338.0,641.8 1324.0,648.0 1313.1,668.2 1330.2,696.1 1353.5,693.0 1373.7,654.2Z"/><path id="z252" d="M1330.2,696.1 1313.1,668.2 1300.7,669.8 1305.3,703.9 1306.9,717.9 1317.8,716.3 1327.1,710.1Z"/><path id="z253" d="M1418.7,655.8 1415.6,630.9 1414.0,632.5 1389.2,644.9 1383.0,657.3 1373.7,654.2 1353.5,693.0 1350.4,699.3 1353.5,708.6 1414.0,679.1 1420.2,676.0Z"/><path id="z254" d="M1227.7,735.0 1246.3,750.5 1249.4,766.0 1302.2,752.0 1300.7,745.8 1306.9,744.3 1306.9,717.9 1305.3,703.9 1300.7,669.8 1285.2,669.8 1235.5,672.9 1230.8,682.2 1229.3,708.6 1219.9,713.2 1219.9,735.0Z"/><path id="z255" d="M1167.1,767.6 1159.4,775.3 1159.4,798.6 1181.1,800.2 1192.0,781.6 1206.0,766.0 1212.2,750.5 1219.9,735.0 1219.9,713.2 1229.3,708.6 1230.8,682.2 1193.5,685.3 1190.4,710.1 1182.7,722.5 1184.2,747.4 1167.1,778.4Z"/><path id="z256" d="M1182.7,722.5 1190.4,710.1 1193.5,685.3 1188.9,696.1 1182.7,697.7 1181.1,688.4 1160.9,689.9 1162.5,747.4 1159.4,775.3 1167.1,767.6 1184.2,747.4Z"/><path id="z257" d="M1133.0,685.3 1123.7,694.6 1122.1,688.4 1100.4,672.9 1083.3,669.8 1079.9,691.5 1079.9,744.3 1162.5,747.4 1160.9,689.9 1134.5,691.5Z"/><path id="z258" d="M1125.2,747.4 1119.0,795.5 1159.4,798.6 1159.4,775.3 1162.5,747.4Z"/><path id="z259" d="M1219.9,735.0 1212.2,750.5 1206.0,766.0 1192.0,781.6 1181.1,800.2 1246.3,804.8 1249.4,766.0 1246.3,750.5 1227.7,735.0Z"/><path id="z260" d="M1302.2,752.0 1249.4,766.0 1246.3,804.8 1313.1,808.0 1317.8,778.4 1311.6,753.6Z"/><path id="z261" d="M1311.6,767.6 1317.8,778.4 1313.1,808.0 1351.8,811.0 1364.3,811.7 1350.4,755.2Z"/><path id="z262" d="M1311.6,767.6 1350.4,755.2 1370.6,748.9 1358.1,728.8 1350.4,713.2 1353.5,708.6 1350.4,699.3 1353.5,693.0 1330.2,696.1 1327.1,710.1 1317.8,716.3 1306.9,717.9 1306.9,744.3 1300.7,745.8 1302.2,752.0 1311.6,753.6Z"/><path id="z263" d="M1389.2,762.9 1442.0,747.4 1428.0,747.4 1435.8,716.3 1438.9,697.7 1437.3,686.8 1421.8,688.4 1420.2,676.0 1414.0,679.1 1353.5,708.6 1350.4,713.2 1358.1,728.8 1370.6,748.9 1384.5,748.9Z"/><path id="z264" d="M1451.3,682.2 1428.0,679.1 1421.8,688.4 1437.3,686.8 1438.9,697.7 1468.4,696.1 1460.6,685.3Z"/><path id="z265" d="M1466.8,722.5 1479.3,744.3 1497.9,735.0 1468.4,696.1 1438.9,697.7 1435.8,716.3 1445.1,710.1 1457.5,728.8 1460.6,716.3Z"/><path id="z266" d="M1460.6,716.3 1457.5,728.8 1445.1,710.1 1435.8,716.3 1428.0,747.4 1442.0,747.4 1462.2,755.2 1479.3,744.3 1466.8,722.5Z"/><path id="z267" d="M1511.9,719.4 1518.1,703.9 1519.6,672.9 1507.2,671.3 1496.3,652.7 1488.6,646.5 1469.9,643.4 1468.4,649.6 1471.5,683.7 1468.4,696.1 1497.9,735.0Z"/><path id="z268" d="M1570.9,707.0 1560.0,697.7 1556.9,679.1 1524.3,682.2 1519.6,672.9 1518.1,703.9 1544.5,728.8 1555.3,739.6 1569.3,724.1Z"/><path id="z269" d="M1544.5,728.8 1518.1,703.9 1511.9,719.4 1525.8,735.0 1542.9,753.6 1553.8,752.0 1555.3,739.6Z"/><path id="z270" d="M1525.8,735.0 1511.9,719.4 1497.9,735.0 1497.9,783.1 1555.3,783.1 1553.8,752.0 1542.9,753.6Z"/><path id="z271" d="M1617.5,682.2 1631.4,676.0 1615.9,657.3 1608.1,638.7 1581.7,649.6 1556.9,679.1 1560.0,697.7 1570.9,707.0 1588.0,691.5 1601.9,689.9Z"/><path id="z272" d="M1656.3,660.4 1664.0,640.2 1657.8,630.9 1653.2,623.2 1634.5,613.9 1625.2,620.1 1609.7,623.2 1608.1,638.7 1615.9,657.3 1631.4,676.0 1653.2,674.4 1650.1,666.6Z"/><path id="z273" d="M1650.1,666.6 1698.8,662.1 1698.9,662.1 1699.0,662.1 1699.1,662.1 1699.2,662.1 1699.3,662.1 1699.4,662.2 1699.4,662.2 1699.5,662.3 1699.6,662.3 1699.7,662.4 1699.7,662.5 1699.8,662.6 1699.8,662.7 1699.8,662.7 1699.9,662.8 1699.9,662.9 1701.3,672.8 1701.3,672.9 1701.3,672.9 1710.6,671.3 1710.6,671.3 1710.6,671.3 1720.1,640.7 1720.2,640.6 1720.2,640.5 1720.2,640.4 1720.3,640.4 1720.4,640.3 1720.4,640.2 1720.5,640.2 1720.6,640.1 1720.7,640.1 1720.8,640.0 1720.9,640.0 1721.0,640.0 1721.1,640.0 1722.8,640.0 1722.9,640.0 1722.9,640.0 1726.6,629.0 1726.6,629.0 1726.6,629.0 1725.7,626.2 1725.7,626.2 1725.6,626.2 1711.0,629.0 1710.9,629.0 1710.8,629.0 1710.7,629.0 1710.7,629.0 1710.6,628.9 1710.5,628.9 1701.4,625.3 1692.1,621.6 1692.1,621.5 1684.4,618.1 1684.3,618.1 1684.3,618.0 1684.2,618.0 1684.1,617.9 1684.0,617.8 1684.0,617.7 1683.9,617.7 1683.9,617.6 1683.9,617.5 1683.9,617.4 1683.8,617.3 1683.8,617.2 1683.9,617.1 1684.7,612.3 1684.7,612.2 1684.6,612.2 1680.0,605.7 1680.0,605.7 1680.0,605.7 1680.0,605.8 1680.0,605.9 1679.9,606.0 1679.9,606.1 1679.9,606.2 1679.8,606.2 1679.8,606.3 1679.7,606.4 1679.6,606.5 1679.5,606.5 1679.5,606.6 1679.4,606.6 1679.3,606.6 1679.2,606.6 1679.1,606.7 1679.0,606.7 1678.9,606.7 1678.8,606.6 1678.7,606.6 1678.6,606.6 1678.5,606.5 1678.4,606.5 1678.4,606.4 1678.3,606.4 1673.4,601.4 1673.4,601.4 1673.4,601.5 1680.0,629.2 1680.0,629.3 1680.0,629.5 1680.0,632.7 1680.0,632.8 1680.0,632.9 1680.0,633.0 1679.9,633.1 1679.9,633.2 1679.8,633.3 1679.8,633.4 1679.7,633.5 1679.6,633.5 1679.5,633.6 1679.5,633.6 1679.4,633.7 1679.3,633.7 1679.2,633.7 1679.1,633.7 1679.0,633.7 1678.9,633.7 1657.9,630.9 1657.8,630.9 1657.8,631.0 1663.8,639.8 1663.8,639.9 1663.8,640.0 1663.9,640.1 1663.9,640.2 1663.9,640.3 1663.9,640.4 1663.9,640.5 1663.9,640.5 1663.9,640.6 1663.9,640.7 1656.3,660.2 1656.3,660.3 1656.3,660.4 1656.2,660.5 1656.1,660.6 1650.1,666.6 1650.1,666.6Z"/><path id="z274" d="M1668.7,592.1 1680.0,596.6 1680.0,596.6 1680.0,596.6 1680.0,587.1 1680.0,587.0 1680.0,586.9 1680.0,586.8 1680.1,586.7 1680.1,586.6 1680.2,586.5 1680.2,586.4 1680.3,586.3 1680.4,586.3 1680.4,586.2 1680.5,586.2 1680.6,586.1 1680.7,586.1 1680.8,586.1 1680.9,586.1 1688.9,585.3 1689.0,585.3 1689.1,585.3 1689.2,585.3 1689.3,585.3 1689.4,585.3 1689.5,585.4 1689.6,585.4 1689.6,585.5 1696.8,591.7 1696.8,591.7 1696.8,591.7 1708.9,593.6 1708.9,593.6 1708.9,593.6 1728.4,578.7 1728.4,578.7 1728.4,578.7 1717.7,575.1 1717.6,575.1 1717.5,575.0 1717.4,575.0 1717.4,574.9 1717.3,574.9 1717.2,574.8 1717.2,574.7 1717.1,574.6 1717.1,574.5 1715.4,570.3 1715.4,570.3 1715.4,570.3 1711.1,570.7 1711.0,570.7 1710.9,570.7 1710.8,570.7 1710.7,570.7 1710.6,570.7 1710.5,570.6 1703.3,566.6 1703.3,566.6 1703.3,566.6 1681.3,574.5 1681.2,574.5 1681.1,574.5 1681.1,574.5 1681.0,574.5 1680.9,574.5 1680.8,574.5 1680.7,574.5 1680.6,574.5 1680.5,574.4 1680.4,574.4 1680.3,574.3 1680.3,574.2 1680.2,574.1 1680.1,574.1 1680.1,574.0 1680.1,573.9 1680.0,573.8 1680.0,573.7 1680.0,573.6 1680.0,573.6 1680.0,573.6 1673.4,576.6 1673.4,576.6 1673.3,576.6 1668.7,592.1 1668.7,592.1Z"/><path id="z275" d="M1668.7,592.1 1673.3,601.4 1673.4,601.4 1673.4,601.4 1680.0,608.1 1680.0,608.1 1680.0,608.0 1680.0,608.0 1680.1,607.9 1680.2,607.9 1680.2,607.8 1680.3,607.8 1680.4,607.7 1680.5,607.7 1680.6,607.6 1680.7,607.6 1680.8,607.6 1680.9,607.6 1681.0,607.6 1681.1,607.6 1681.2,607.7 1681.3,607.7 1681.4,607.8 1681.4,607.8 1681.5,607.9 1681.6,608.0 1681.7,608.0 1684.6,612.2 1684.7,612.2 1684.7,612.2 1708.9,593.6 1708.9,593.6 1708.9,593.6 1697.1,591.8 1697.0,591.8 1696.9,591.7 1696.8,591.7 1696.7,591.7 1696.6,591.6 1696.6,591.5 1689.3,585.2 1689.3,585.2 1689.3,585.2 1680.0,586.1 1680.0,586.2 1680.0,586.2 1680.0,595.2 1680.0,595.3 1680.0,595.4 1680.0,595.4 1679.9,595.5 1679.9,595.6 1679.8,595.7 1679.8,595.8 1679.7,595.9 1679.6,595.9 1679.6,596.0 1679.5,596.0 1679.4,596.1 1679.3,596.1 1679.2,596.1 1679.1,596.2 1679.0,596.2 1678.9,596.2 1678.8,596.1 1678.7,596.1 1678.6,596.1 1668.7,592.1 1668.7,592.1Z"/><path id="z276" d="M1631.4,724.1 1617.5,682.2 1601.9,689.9 1588.0,691.5 1570.9,707.0 1570.9,728.8 1591.1,727.2 1598.8,724.1 1611.2,727.2Z"/><path id="z277" d="M1668.7,691.5 1653.2,674.4 1631.4,676.0 1617.5,682.2 1631.4,724.1 1640.7,728.8 1657.8,719.4 1660.9,703.9Z"/><path id="z278" d="M1695.1,717.9 1701.3,672.9 1699.8,662.0 1650.1,666.6 1653.2,674.4 1668.7,691.5 1660.9,703.9 1657.8,716.3Z"/><path id="z279" d="M1657.8,716.3 1657.8,719.4 1640.7,728.8 1631.4,724.1 1642.3,764.5 1690.4,772.2 1684.2,744.3 1679.6,717.9Z"/><path id="z280" d="M1631.4,724.1 1611.2,727.2 1598.8,724.1 1591.1,727.2 1584.8,766.0 1581.7,808.0 1623.7,804.8 1642.3,764.5Z"/><path id="z281" d="M1584.8,766.0 1591.1,727.2 1570.9,728.8 1569.3,724.1 1555.3,739.6 1555.3,783.1 1553.8,823.5 1578.6,823.5 1581.7,808.0Z"/><path id="z282" d="M1513.4,823.5 1553.8,823.5 1555.3,783.1 1513.4,783.1Z"/><path id="z283" d="M1496.3,823.5 1513.4,823.5 1513.4,783.1 1497.9,783.1Z"/><path id="z284" d="M1496.3,823.5 1497.9,783.1 1497.9,735.0 1479.3,744.3 1462.2,755.2 1442.0,747.4 1434.2,759.8 1432.7,772.2 1440.4,772.2 1440.4,823.5Z"/><path id="z285" d="M1432.7,772.2 1434.2,759.8 1442.0,747.4 1389.2,762.9 1384.5,748.9 1370.6,748.9 1350.4,755.2 1364.3,811.7 1365.7,811.8 1367.3,824.8 1377.4,824.8 1440.4,823.5 1440.4,772.2Z"/><path id="z286" d="M1642.3,764.5 1623.7,804.8 1581.7,808.0 1578.6,823.5 1628.3,823.5 1684.2,804.8 1690.4,772.2Z"/><path id="z287" d="M1718.4,752.0 1733.9,733.4 1726.1,728.8 1721.5,708.6 1729.3,702.4 1718.4,685.3 1710.6,671.3 1701.3,672.9 1695.1,717.9 1679.6,717.9 1684.2,744.3 1690.4,772.2 1693.5,758.3 1706.0,747.4Z"/><path id="z288" d="M1688.9,761.4 1693.5,766.0 1704.4,752.0 1706.0,742.7 1699.8,747.4Z"/><path id="z289" d="M1760.0,680.0 1769.7,680.0 1771.2,676.0 1743.2,665.1 1721.5,688.4 1737.0,703.9 1747.9,716.3 1758.8,710.1 1760.0,706.7Z"/><path id="z290" d="M1710.6,671.3 1718.4,685.3 1718.4,685.3 1718.4,685.3 1721.5,688.4 1721.5,688.4 1721.5,688.4 1742.8,665.6 1742.8,665.5 1742.9,665.5 1743.0,665.4 1743.1,665.4 1743.2,665.3 1743.3,665.3 1743.4,665.3 1743.5,665.3 1743.6,665.3 1743.7,665.3 1743.8,665.3 1743.9,665.3 1771.2,676.0 1771.2,676.0 1771.2,675.9 1777.4,668.2 1777.4,668.2 1777.4,668.2 1747.9,641.8 1747.9,641.8 1745.2,640.0 1745.2,640.0 1745.2,640.0 1740.0,640.0 1739.9,640.0 1739.8,640.0 1739.7,640.0 1739.6,639.9 1739.5,639.9 1739.4,639.8 1739.3,639.8 1726.6,629.0 1726.6,629.0 1726.6,629.0 1723.1,639.3 1723.1,639.4 1723.0,639.5 1723.0,639.6 1722.9,639.7 1722.8,639.7 1722.8,639.8 1722.7,639.8 1722.6,639.9 1722.5,639.9 1722.4,640.0 1722.3,640.0 1722.2,640.0 1722.1,640.0 1720.4,640.0 1720.3,640.0 1720.3,640.0 1710.6,671.3 1710.6,671.3Z"/><path id="z291" d="M1729.3,702.4 1721.5,708.6 1726.1,728.8 1732.4,724.1 1747.9,716.3 1737.0,703.9Z"/><path id="z292" d="M1718.4,752.1 1733.9,778.4 1733.9,778.4 1733.9,778.4 1740.8,773.0 1740.8,772.9 1740.9,772.9 1741.0,772.8 1741.1,772.8 1741.2,772.8 1741.3,772.8 1741.4,772.7 1741.5,772.8 1741.6,772.8 1741.7,772.8 1741.8,772.8 1741.8,772.9 1741.9,772.9 1742.0,773.0 1742.1,773.0 1742.1,773.1 1742.2,773.2 1742.3,773.3 1754.1,794.0 1754.1,794.0 1754.1,794.0 1758.8,791.6 1758.9,791.6 1759.0,791.5 1759.1,791.5 1759.2,791.5 1759.3,791.5 1759.4,791.5 1759.5,791.5 1759.6,791.6 1759.7,791.6 1759.8,791.6 1759.9,791.7 1759.9,791.7 1760.0,791.8 1760.0,791.8 1760.0,791.8 1780.0,782.5 1780.0,782.5 1780.0,782.5 1779.6,773.3 1779.6,773.2 1779.6,773.1 1779.6,773.0 1784.2,754.6 1784.2,754.5 1784.2,754.5 1779.6,741.5 1779.6,741.5 1779.6,741.5 1775.1,736.1 1775.0,736.0 1775.0,736.0 1774.9,735.9 1774.9,735.8 1774.9,735.7 1774.9,735.6 1774.0,729.4 1774.0,729.4 1774.0,729.4 1765.8,724.8 1765.7,724.8 1765.6,724.7 1765.5,724.6 1765.5,724.5 1760.2,717.5 1760.1,717.5 1760.1,717.4 1760.1,717.3 1760.0,717.2 1760.0,717.1 1760.0,717.0 1760.0,716.9 1760.0,711.6 1760.0,711.6 1760.0,711.6 1758.8,710.1 1758.8,710.1 1758.7,710.1 1747.9,716.3 1747.9,716.3 1732.4,724.1 1732.4,724.1 1732.4,724.1 1733.8,733.0 1733.8,733.1 1733.9,733.2 1733.8,733.2 1733.8,733.3 1733.8,733.4 1733.8,733.5 1733.7,733.6 1733.7,733.7 1733.6,733.8 1718.4,752.0 1718.4,752.0Z"/><path id="z293" d="M1758.8,710.1 1759.8,711.3 1759.8,711.4 1759.9,711.5 1759.9,711.6 1760.0,711.7 1760.0,711.8 1760.0,711.9 1760.0,712.0 1760.0,717.2 1760.0,717.3 1760.0,717.3 1765.6,724.7 1765.6,724.7 1765.6,724.7 1777.7,728.4 1777.7,728.4 1777.7,728.4 1782.7,725.1 1782.8,725.0 1782.9,725.0 1783.0,725.0 1783.1,724.9 1783.2,724.9 1783.3,724.9 1783.4,724.9 1783.5,724.9 1783.6,725.0 1783.7,725.0 1783.8,725.0 1783.8,725.1 1786.1,726.6 1786.1,726.6 1786.1,726.6 1807.5,721.0 1807.5,721.0 1807.5,721.0 1825.2,708.0 1825.2,708.0 1825.2,707.9 1812.2,687.0 1812.2,687.0 1812.2,687.0 1806.5,680.9 1806.4,680.8 1806.3,680.7 1806.3,680.6 1806.3,680.5 1806.2,680.4 1806.2,680.3 1806.2,680.2 1806.2,680.1 1806.2,680.0 1806.2,680.0 1806.2,680.0 1786.7,654.2 1786.7,654.2 1786.7,654.2 1777.4,668.2 1777.4,668.2 1771.2,675.9 1771.2,676.0 1771.2,676.0 1769.7,680.0 1769.7,680.0 1769.7,680.0 1769.8,680.1 1769.8,680.2 1769.8,680.3 1769.9,680.4 1769.9,680.5 1769.9,680.6 1769.9,680.7 1769.8,680.8 1769.8,680.9 1769.8,681.0 1765.6,689.3 1765.6,689.3 1765.6,689.3 1764.7,698.3 1764.7,698.4 1764.7,698.5 1764.6,698.6 1764.6,698.7 1764.5,698.7 1764.5,698.8 1764.4,698.9 1760.0,703.3 1760.0,703.3 1760.0,703.3 1760.0,706.5 1760.0,706.6 1760.0,706.7 1760.0,706.8 1759.9,706.9 1758.8,710.1 1758.8,710.1Z"/><path id="z294" d="M1725.7,626.2 1726.6,629.0 1726.6,629.0 1726.6,629.0 1739.6,640.0 1739.6,640.0 1739.7,640.0 1744.9,640.0 1745.0,640.0 1745.1,640.0 1745.2,640.0 1745.3,640.1 1745.4,640.1 1745.4,640.2 1747.8,641.8 1747.9,641.8 1777.4,668.2 1777.4,668.2 1777.4,668.2 1786.7,654.2 1786.7,654.2 1786.7,654.2 1779.6,640.0 1779.6,640.0 1779.6,640.0 1779.5,640.0 1779.4,640.0 1779.3,639.9 1779.2,639.9 1779.1,639.9 1779.0,639.8 1778.9,639.7 1778.9,639.7 1778.8,639.6 1778.8,639.5 1778.7,639.4 1778.7,639.4 1778.6,639.3 1778.6,639.2 1776.9,629.0 1776.9,629.0 1776.9,629.0 1771.9,629.8 1771.8,629.9 1771.7,629.9 1771.6,629.9 1771.5,629.8 1771.4,629.8 1771.3,629.8 1771.2,629.7 1771.1,629.7 1771.1,629.6 1771.0,629.6 1770.9,629.5 1762.0,618.8 1762.0,618.8 1753.6,609.5 1753.6,609.4 1753.6,609.4 1751.8,608.5 1751.7,608.5 1751.7,608.5 1725.7,626.2 1725.7,626.2Z"/><path id="z295" d="M1786.7,654.2 1799.1,671.3 1799.1,671.3 1805.4,679.4 1805.5,679.5 1805.6,679.6 1805.6,679.7 1805.6,679.8 1805.6,679.9 1805.7,680.0 1805.7,680.0 1805.7,680.0 1812.2,687.0 1812.2,687.0 1812.2,687.0 1819.1,684.2 1819.2,684.2 1819.2,684.2 1818.7,680.0 1818.7,680.0 1818.7,680.0 1815.7,680.0 1815.6,680.0 1815.5,680.0 1815.4,680.0 1815.3,679.9 1815.2,679.9 1815.2,679.8 1815.1,679.8 1815.0,679.7 1814.9,679.6 1814.9,679.5 1814.8,679.5 1814.8,679.4 1814.8,679.3 1814.7,679.2 1814.7,679.1 1814.7,679.0 1814.7,678.9 1814.7,678.8 1814.8,678.7 1814.8,678.6 1814.8,678.5 1814.9,678.4 1817.7,674.4 1817.8,674.4 1817.8,674.4 1814.8,664.1 1814.8,664.0 1814.8,663.9 1814.8,663.8 1814.8,663.7 1814.8,663.6 1814.8,663.5 1814.9,663.4 1814.9,663.4 1815.0,663.3 1815.0,663.2 1815.1,663.1 1818.3,660.3 1818.3,660.2 1818.4,660.1 1818.5,660.1 1818.6,660.1 1818.7,660.0 1818.8,660.0 1818.8,660.0 1818.9,660.0 1834.9,660.0 1834.9,660.0 1834.9,660.0 1832.4,648.1 1832.4,648.0 1832.4,647.9 1832.4,647.8 1832.4,647.7 1832.4,647.6 1832.5,647.5 1832.5,647.4 1832.5,647.3 1832.6,647.3 1832.6,647.2 1832.7,647.1 1840.5,640.0 1840.5,640.0 1840.5,640.0 1837.5,640.0 1837.4,640.0 1837.4,640.0 1837.3,640.0 1837.2,639.9 1837.1,639.9 1837.0,639.8 1836.9,639.8 1836.8,639.7 1836.8,639.6 1836.7,639.5 1836.7,639.5 1836.6,639.4 1836.6,639.3 1836.6,639.2 1836.6,639.1 1836.5,639.0 1836.6,638.9 1836.6,638.8 1836.6,638.7 1836.6,638.6 1836.7,638.5 1836.7,638.4 1836.8,638.4 1836.9,638.3 1836.9,638.2 1848.6,629.0 1848.6,629.0 1848.6,629.0 1843.1,614.1 1843.0,614.1 1843.0,614.1 1837.5,615.0 1837.5,615.0 1837.4,615.1 1833.3,620.9 1833.2,621.0 1833.1,621.0 1833.1,621.1 1833.0,621.2 1832.9,621.2 1832.8,621.2 1832.7,621.3 1832.6,621.3 1832.5,621.3 1832.4,621.3 1832.3,621.3 1832.2,621.3 1832.1,621.3 1832.1,621.2 1826.3,618.8 1826.3,618.8 1826.3,618.8 1809.5,623.4 1809.5,623.4 1809.5,623.4 1800.2,629.0 1800.2,629.0 1800.2,629.0 1799.3,639.1 1799.3,639.2 1799.3,639.3 1799.3,639.4 1799.2,639.5 1799.2,639.5 1799.1,639.6 1799.0,639.7 1799.0,639.8 1798.9,639.8 1798.8,639.9 1798.7,639.9 1798.6,640.0 1798.5,640.0 1798.4,640.0 1798.3,640.0 1795.4,640.0 1795.3,640.0 1795.3,640.0 1791.4,646.5 1791.4,646.5 1786.7,654.2 1786.7,654.2Z"/><path id="z296" d="M1814.7,663.6 1817.8,674.4 1817.8,674.4 1817.8,674.4 1860.0,669.8 1860.0,669.8 1860.0,669.7 1860.0,655.4 1860.0,655.3 1860.0,655.2 1860.0,655.1 1860.1,655.0 1860.1,654.9 1860.2,654.8 1860.2,654.7 1860.3,654.7 1860.4,654.6 1860.4,654.6 1860.5,654.5 1860.6,654.5 1860.7,654.4 1860.8,654.4 1862.1,654.1 1862.1,654.1 1888.5,646.3 1888.5,646.3 1888.5,646.3 1893.2,640.9 1893.2,640.9 1893.2,640.9 1893.2,640.8 1893.2,640.7 1893.2,640.6 1893.3,640.5 1893.3,640.5 1893.4,640.4 1893.5,640.3 1893.5,640.2 1893.6,640.2 1893.7,640.1 1893.8,640.1 1893.9,640.0 1894.0,640.0 1894.1,640.0 1894.2,640.0 1895.2,640.0 1895.2,640.0 1895.2,640.0 1892.2,636.4 1892.1,636.3 1892.1,636.2 1892.0,636.1 1892.0,636.0 1892.0,635.9 1892.0,635.8 1892.0,635.7 1892.0,635.6 1892.0,635.6 1892.0,635.5 1892.0,635.4 1892.1,635.3 1892.1,635.2 1892.2,635.1 1892.3,635.0 1892.3,635.0 1892.4,634.9 1897.1,631.8 1897.1,631.8 1897.1,631.8 1900.8,618.8 1900.8,618.8 1900.8,618.7 1899.0,613.2 1898.9,613.2 1898.9,613.2 1888.1,625.0 1888.0,625.0 1887.9,625.1 1887.8,625.1 1887.7,625.2 1887.6,625.2 1887.5,625.3 1887.4,625.3 1887.3,625.3 1877.8,625.3 1877.7,625.3 1877.6,625.3 1877.5,625.2 1877.4,625.2 1877.3,625.2 1871.9,622.5 1871.9,622.5 1871.9,622.5 1869.3,627.7 1869.3,627.8 1869.2,627.9 1869.1,627.9 1869.1,628.0 1869.0,628.1 1868.9,628.1 1868.8,628.2 1868.7,628.2 1853.9,633.5 1853.8,633.5 1853.7,633.5 1853.6,633.5 1853.5,633.5 1853.4,633.5 1853.3,633.5 1853.2,633.4 1853.1,633.4 1853.0,633.3 1852.9,633.3 1852.8,633.2 1848.7,629.0 1848.6,629.0 1848.6,629.0 1834.9,639.8 1834.9,639.8 1834.8,639.9 1834.7,639.9 1834.6,640.0 1834.5,640.0 1834.4,640.0 1834.3,640.0 1833.8,640.0 1833.8,640.0 1833.8,640.0 1831.1,641.7 1831.1,641.7 1831.1,641.7 1832.2,646.9 1832.2,647.0 1832.2,647.1 1832.2,647.2 1832.2,647.3 1832.2,647.4 1832.1,647.5 1832.1,647.6 1832.0,647.7 1832.0,647.8 1831.9,647.8 1831.9,647.9 1814.7,663.5 1814.7,663.5Z"/><path id="z297" d="M1812.2,687.0 1825.2,707.9 1825.2,708.0 1831.7,717.3 1831.7,717.3 1842.0,730.8 1842.0,730.8 1842.0,730.8 1849.9,734.0 1849.9,734.0 1849.9,734.0 1848.1,720.3 1848.1,720.2 1848.1,720.1 1848.1,720.0 1848.1,719.9 1848.1,719.8 1853.2,706.1 1853.2,706.1 1853.2,706.1 1856.0,689.3 1856.0,689.3 1855.9,689.3 1839.7,683.0 1839.6,683.0 1839.6,682.9 1839.5,682.9 1839.4,682.8 1839.3,682.7 1839.3,682.7 1839.2,682.6 1839.2,682.5 1839.1,682.4 1839.1,682.3 1839.1,682.2 1838.9,681.2 1838.9,681.1 1838.9,681.0 1838.9,680.9 1838.9,680.8 1839.0,680.7 1839.0,680.6 1839.0,680.5 1839.1,680.4 1839.1,680.4 1839.2,680.3 1839.3,680.2 1839.4,680.2 1839.4,680.1 1839.5,680.1 1839.6,680.0 1839.7,680.0 1839.8,680.0 1839.9,680.0 1860.0,680.0 1860.0,680.0 1860.0,680.0 1860.0,669.8 1860.0,669.8 1860.0,669.8 1817.8,674.4 1817.8,674.4 1817.8,674.4 1813.8,680.0 1813.8,680.0 1813.8,680.0 1817.8,680.0 1817.9,680.0 1818.0,680.0 1818.1,680.0 1818.2,680.1 1818.3,680.1 1818.4,680.2 1818.4,680.2 1818.5,680.3 1818.6,680.4 1818.6,680.4 1818.7,680.5 1818.7,680.6 1818.8,680.7 1818.8,680.8 1818.8,680.9 1819.1,683.4 1819.1,683.5 1819.1,683.6 1819.1,683.7 1819.0,683.8 1819.0,683.9 1819.0,684.0 1818.9,684.1 1818.9,684.2 1818.8,684.3 1818.7,684.3 1818.6,684.4 1818.5,684.4 1818.5,684.5 1812.2,687.0 1812.2,687.0Z"/><path id="z298" d="M1733.9,778.4 1718.4,752.0 1706.0,747.4 1693.5,758.3 1690.4,772.2 1684.2,804.8 1685.8,829.7 1754.1,794.0 1741.7,772.2Z"/><path id="z299" d="M1626.8,853.0 1685.8,829.7 1684.2,804.8 1628.3,823.5Z"/><path id="z300" d="M1626.8,853.0 1624.6,910.4 1665.6,877.8 1696.6,853.0 1685.8,829.7Z"/><path id="z301" d="M1696.6,853.0 1665.6,877.8 1624.6,910.4 1624.6,928.2 1651.4,925.2 1651.3,927.0 1730.8,918.2 1702.9,863.9Z"/><path id="z302" d="M1685.8,829.7 1696.6,853.0 1696.7,853.0 1702.8,863.8 1702.9,863.8 1702.9,863.8 1759.2,835.7 1759.3,835.6 1759.4,835.6 1759.5,835.6 1759.6,835.6 1759.7,835.6 1759.8,835.6 1759.9,835.6 1760.0,835.6 1760.0,835.7 1760.0,835.6 1764.6,833.3 1764.7,833.3 1764.7,833.3 1763.7,818.0 1763.7,817.9 1762.4,800.0 1762.4,800.0 1762.4,800.0 1761.0,800.0 1760.9,800.0 1760.8,800.0 1760.7,800.0 1760.6,799.9 1760.5,799.9 1760.4,799.8 1760.4,799.8 1760.3,799.7 1760.2,799.6 1760.2,799.6 1760.1,799.5 1760.1,799.4 1760.0,799.3 1760.0,799.2 1760.0,799.1 1760.0,799.0 1760.0,797.0 1760.0,796.9 1760.0,796.9 1754.1,794.0 1754.1,794.0 1754.1,794.0 1685.8,829.7 1685.8,829.7Z"/><path id="z303" d="M1702.9,863.9 1730.8,918.2 1730.8,918.2 1730.8,918.2 1741.7,918.2 1741.7,918.2 1741.7,918.2 1759.1,900.2 1759.1,900.1 1759.2,900.1 1759.3,900.0 1759.4,900.0 1759.5,900.0 1759.6,899.9 1759.7,899.9 1759.8,899.9 1759.9,899.9 1760.0,899.9 1760.0,899.9 1760.0,899.9 1787.0,871.1 1787.0,871.1 1787.0,871.0 1801.0,850.6 1801.0,850.6 1801.0,850.6 1767.2,843.2 1767.1,843.2 1767.0,843.2 1766.9,843.1 1766.8,843.1 1766.7,843.0 1766.7,843.0 1766.6,842.9 1766.5,842.8 1766.5,842.7 1766.5,842.6 1766.4,842.5 1766.4,842.5 1764.7,833.3 1764.7,833.3 1764.6,833.3 1760.8,835.2 1760.7,835.3 1760.6,835.3 1760.5,835.3 1760.4,835.3 1760.3,835.3 1760.2,835.3 1760.1,835.3 1760.0,835.3 1760.0,835.3 1760.0,835.3 1702.9,863.8 1702.9,863.9Z"/><path id="z304" d="M1754.1,794.0 1760.0,796.9 1760.0,791.0Z"/><path id="z305" d="M1787.0,871.1 1791.7,874.8 1791.7,874.8 1791.7,874.8 1795.1,872.9 1795.2,872.8 1795.3,872.8 1795.4,872.8 1795.5,872.8 1795.6,872.8 1795.7,872.8 1795.7,872.8 1795.8,872.8 1795.9,872.8 1796.0,872.9 1796.1,872.9 1796.2,873.0 1796.3,873.0 1796.3,873.1 1796.4,873.2 1798.2,875.7 1798.2,875.7 1798.2,875.7 1812.3,878.3 1812.4,878.3 1812.5,878.3 1812.6,878.4 1812.7,878.4 1812.7,878.5 1812.8,878.5 1812.9,878.6 1812.9,878.7 1813.0,878.8 1813.0,878.8 1813.1,878.9 1813.1,879.0 1813.1,879.1 1813.1,879.2 1813.1,879.3 1813.1,879.4 1813.1,879.5 1813.1,879.6 1813.0,879.7 1805.7,895.7 1805.7,895.7 1805.7,895.8 1814.0,910.0 1814.0,910.0 1814.1,910.0 1820.4,910.0 1820.5,910.0 1820.6,910.0 1820.7,910.0 1820.8,910.1 1820.9,910.1 1821.0,910.2 1821.1,910.2 1821.2,910.3 1839.5,930.0 1839.5,930.0 1839.5,930.0 1860.0,930.0 1860.0,930.0 1860.0,930.0 1860.0,911.0 1860.0,910.9 1860.0,910.8 1860.0,910.7 1860.1,910.6 1860.1,910.5 1860.2,910.4 1860.2,910.4 1860.3,910.3 1860.4,910.2 1860.4,910.2 1860.5,910.1 1860.6,910.1 1860.7,910.0 1860.8,910.0 1860.9,910.0 1861.0,910.0 1866.2,910.0 1866.2,910.0 1866.2,910.0 1863.4,903.2 1863.4,903.2 1863.4,903.2 1856.9,896.2 1856.9,896.2 1833.0,876.4 1832.9,876.4 1832.8,876.3 1832.8,876.2 1832.7,876.1 1832.7,876.1 1832.7,876.0 1832.6,875.9 1832.6,875.8 1830.3,859.0 1830.3,858.9 1828.5,848.3 1828.5,848.2 1828.5,848.2 1813.6,841.7 1813.6,841.7 1813.6,841.7 1814.8,852.0 1814.8,852.1 1814.8,852.2 1814.8,852.3 1814.8,852.4 1814.7,852.5 1814.7,852.6 1814.7,852.6 1814.6,852.7 1814.5,852.8 1814.5,852.9 1814.4,852.9 1814.3,853.0 1814.2,853.0 1814.1,853.1 1814.0,853.1 1813.9,853.1 1813.8,853.1 1813.7,853.1 1813.6,853.1 1801.0,850.6 1801.0,850.6 1801.0,850.6 1787.0,871.0 1787.0,871.1Z"/><path id="z306" d="M1736.5,942.4 1785.8,954.8 1785.9,954.8 1785.9,954.8 1786.0,954.9 1786.1,954.9 1786.2,955.0 1786.2,955.0 1786.3,955.1 1786.4,955.2 1792.3,964.1 1792.4,964.2 1792.4,964.1 1796.7,952.0 1796.7,951.9 1796.8,951.8 1796.8,951.7 1796.9,951.7 1797.0,951.6 1797.1,951.5 1797.1,951.5 1797.2,951.4 1797.3,951.4 1797.4,951.4 1797.5,951.3 1797.6,951.3 1797.7,951.3 1797.8,951.4 1797.9,951.4 1831.2,961.0 1831.2,961.1 1831.2,961.0 1827.0,954.1 1826.9,954.0 1826.9,953.9 1826.9,953.8 1826.9,953.7 1826.8,953.6 1826.8,953.5 1826.9,953.4 1826.9,953.3 1826.9,953.2 1826.9,953.1 1827.0,953.0 1827.0,953.0 1827.1,952.9 1827.2,952.8 1827.2,952.8 1832.7,948.6 1832.7,948.6 1832.7,948.6 1834.2,930.9 1834.2,930.8 1834.2,930.7 1834.3,930.6 1834.3,930.5 1834.4,930.5 1834.4,930.4 1834.5,930.3 1834.6,930.2 1834.6,930.2 1834.7,930.1 1834.8,930.1 1834.9,930.0 1835.0,930.0 1835.1,930.0 1835.2,930.0 1839.5,930.0 1839.5,930.0 1839.5,930.0 1820.9,910.0 1820.9,910.0 1820.8,910.0 1814.6,910.0 1814.5,910.0 1814.4,910.0 1814.3,910.0 1814.2,909.9 1814.2,909.9 1814.1,909.8 1814.0,909.8 1813.9,909.7 1813.9,909.7 1813.8,909.6 1813.7,909.5 1805.9,896.2 1805.9,896.1 1805.8,896.0 1805.8,895.9 1805.8,895.8 1805.8,895.7 1805.8,895.6 1805.8,895.5 1805.8,895.5 1805.8,895.4 1805.9,895.3 1813.6,878.5 1813.6,878.5 1813.5,878.5 1798.6,875.8 1798.5,875.8 1798.4,875.7 1798.3,875.7 1798.2,875.6 1798.2,875.6 1798.1,875.5 1798.0,875.5 1798.0,875.4 1795.9,872.5 1795.9,872.5 1795.8,872.5 1792.3,874.5 1792.2,874.5 1792.1,874.5 1792.0,874.6 1791.9,874.6 1791.8,874.6 1791.7,874.6 1791.6,874.6 1791.5,874.5 1791.4,874.5 1791.3,874.5 1791.2,874.4 1791.2,874.4 1787.0,871.1 1787.0,871.1 1787.0,871.1 1760.9,898.9 1760.9,899.0 1760.8,899.1 1760.7,899.1 1760.6,899.2 1760.5,899.2 1760.4,899.2 1760.3,899.3 1760.2,899.3 1760.2,899.3 1760.1,899.3 1760.0,899.3 1760.0,899.2 1760.0,899.3 1741.7,918.2 1741.7,918.2 1741.7,918.2 1743.2,930.0 1743.2,930.0 1743.2,930.0 1743.3,930.1 1743.4,930.1 1743.4,930.2 1743.5,930.3 1743.5,930.4 1743.5,930.5 1743.6,930.6 1743.6,930.7 1743.6,930.8 1743.6,930.9 1743.5,931.0 1743.5,931.1 1743.5,931.2 1743.4,931.3 1736.5,942.4 1736.5,942.4Z"/><path id="z307" d="M1651.0,1004.4 1651.1,1004.5 1651.1,1004.6 1653.5,1016.7 1655.6,1021.5 1658.3,1024.2 1662.9,1028.0 1664.8,1029.2 1677.4,1027.8 1677.5,1027.8 1741.7,1023.2 1741.7,1023.2 1741.7,1023.1 1739.6,995.2 1739.6,995.2 1736.5,942.7 1736.5,942.6 1736.5,942.5 1736.5,942.4 1736.5,942.3 1736.6,942.2 1736.6,942.2 1744.2,930.0 1744.2,930.0 1744.2,930.0 1744.1,930.0 1744.0,930.0 1743.9,930.0 1743.8,930.0 1743.7,929.9 1743.6,929.9 1743.6,929.8 1743.5,929.8 1743.4,929.7 1743.3,929.6 1743.3,929.6 1743.2,929.5 1743.2,929.4 1743.2,929.3 1743.1,929.2 1743.1,929.1 1741.7,918.2 1741.7,918.2 1741.7,918.2 1651.6,924.4 1651.6,924.4 1651.6,924.4 1651.4,925.2 1651.4,925.2 1650.5,942.1 1651.0,948.5 1651.0,948.5 1651.0,948.6 1651.0,948.7 1651.0,948.8 1649.4,954.5 1644.3,987.3 1644.4,987.8Z"/><path id="z308" d="M1851.8,500.0 1852.6,501.5 1852.6,501.6 1852.6,501.6 1865.8,511.6 1865.8,511.7 1872.0,515.5 1872.0,515.5 1872.0,515.5 1877.7,516.9 1877.8,517.0 1877.9,517.0 1877.9,517.1 1878.0,517.1 1878.1,517.2 1878.2,517.3 1878.2,517.3 1878.3,517.4 1878.3,517.5 1878.4,517.6 1879.2,520.0 1879.2,520.0 1879.2,520.0 1882.8,520.0 1882.8,520.0 1882.8,520.0 1882.3,516.8 1880.7,512.8 1879.2,506.6 1880.4,504.2 1879.9,501.2 1879.9,501.1 1879.9,501.0 1879.9,500.9 1879.9,500.8 1880.0,500.7 1880.0,500.6 1880.0,500.5 1880.1,500.4 1880.2,500.3 1880.2,500.3 1880.3,500.2 1880.4,500.2 1880.5,500.1 1880.5,500.1 1880.6,500.0 1880.7,500.0 1880.8,500.0 1880.9,500.0 1882.5,500.0 1882.5,500.0 1882.5,500.0 1883.8,497.3 1883.9,497.3 1887.2,492.3 1890.0,488.0 1890.1,488.0 1890.1,487.9 1897.8,478.7 1897.8,478.6 1897.8,478.6 1891.6,479.4 1891.6,479.4 1891.6,479.4 1884.0,484.7 1883.9,484.8 1883.8,484.8 1883.7,484.9 1883.6,484.9 1876.3,486.3 1876.2,486.4 1876.1,486.4 1876.0,486.4 1875.9,486.4 1875.9,486.3 1866.2,483.6 1866.1,483.5 1866.0,483.5 1865.9,483.5 1865.9,483.4 1865.8,483.3 1865.7,483.3 1865.7,483.2 1865.6,483.1 1865.6,483.0 1865.5,482.9 1865.5,482.8 1865.5,482.7 1865.5,482.6 1865.5,482.5 1865.5,482.4 1865.5,482.3 1866.8,478.7 1866.8,478.6 1866.8,478.6 1862.9,472.4 1862.9,472.4 1862.9,472.4 1859.8,477.1 1859.8,477.1 1859.8,477.1 1854.4,491.0 1854.3,491.1 1852.4,499.3 1852.4,499.4 1852.3,499.5 1852.3,499.6 1852.2,499.7 1852.2,499.7 1852.1,499.8 1852.0,499.9 1851.9,499.9 1851.9,500.0 1851.8,500.0 1851.8,500.0Z"/><path id="z309" d="M1878.3,733.1 1913.7,714.5 1913.7,714.5 1913.7,714.4 1916.5,694.9 1916.5,694.9 1918.4,680.0 1918.4,680.0 1918.4,680.0 1917.9,680.0 1917.8,680.0 1917.8,680.0 1917.7,680.0 1917.6,679.9 1917.5,679.9 1917.4,679.8 1917.3,679.8 1917.2,679.7 1917.2,679.6 1917.1,679.6 1917.1,679.5 1917.0,679.4 1917.0,679.3 1917.0,679.2 1916.9,679.1 1916.9,679.0 1916.9,678.9 1917.0,678.8 1920.7,658.7 1920.7,658.6 1920.7,658.6 1914.5,640.0 1914.5,640.0 1914.5,640.0 1914.0,640.2 1913.9,640.2 1913.8,640.2 1913.7,640.2 1913.6,640.2 1913.5,640.2 1913.4,640.2 1913.3,640.2 1913.2,640.1 1913.1,640.1 1913.0,640.0 1913.0,640.0 1913.0,640.0 1913.0,640.0 1895.0,640.0 1895.0,640.0 1894.9,640.0 1893.2,640.9 1893.2,640.9 1893.2,640.9 1888.5,646.3 1888.5,646.3 1888.5,646.4 1890.6,649.8 1890.6,649.9 1890.7,649.9 1890.7,650.0 1890.7,650.1 1890.7,650.2 1890.7,650.3 1890.7,650.4 1890.7,650.5 1886.6,671.0 1886.6,671.1 1885.5,679.2 1885.5,679.3 1885.4,679.4 1885.4,679.5 1885.3,679.6 1885.3,679.7 1885.2,679.7 1885.2,679.8 1885.1,679.9 1885.0,679.9 1884.9,680.0 1884.9,680.0 1884.8,680.0 1884.8,680.0 1881.6,705.6 1878.3,733.1 1878.3,733.1Z"/><path id="z310" d="M1835.7,660.0 1858.9,660.0 1859.0,660.0 1859.1,660.0 1859.2,660.0 1859.3,660.1 1859.3,660.1 1859.4,660.2 1859.5,660.2 1859.6,660.3 1859.6,660.4 1859.7,660.4 1859.8,660.5 1859.8,660.6 1859.8,660.7 1859.9,660.8 1859.9,660.9 1859.9,661.0 1859.9,679.0 1859.9,679.1 1859.9,679.2 1859.8,679.3 1859.8,679.4 1859.8,679.5 1859.7,679.6 1859.6,679.6 1859.6,679.7 1859.5,679.8 1859.4,679.8 1859.3,679.9 1859.3,679.9 1859.2,680.0 1859.1,680.0 1859.0,680.0 1858.9,680.0 1838.8,680.0 1838.7,680.0 1838.7,680.0 1839.2,682.8 1839.2,682.8 1839.2,682.8 1855.2,689.0 1855.3,689.1 1855.4,689.1 1855.4,689.2 1855.5,689.2 1855.6,689.3 1855.7,689.4 1855.7,689.5 1855.7,689.5 1855.8,689.6 1855.8,689.7 1855.8,689.8 1855.8,689.9 1855.8,690.0 1855.8,690.1 1853.2,704.7 1853.2,704.7 1853.2,704.7 1881.6,705.6 1881.6,705.6 1881.6,705.6 1884.7,680.8 1884.8,680.7 1884.8,680.6 1884.8,680.5 1884.9,680.4 1884.9,680.3 1885.0,680.3 1885.1,680.2 1885.1,680.1 1885.2,680.1 1885.3,680.0 1885.4,680.0 1885.4,680.0 1886.6,671.1 1886.6,671.0 1888.6,660.8 1888.7,660.7 1888.7,660.6 1888.7,660.5 1888.8,660.4 1888.8,660.4 1888.9,660.3 1889.0,660.2 1889.1,660.2 1889.1,660.1 1889.2,660.1 1889.3,660.0 1889.4,660.0 1889.5,660.0 1889.6,660.0 1893.1,660.0 1893.2,660.0 1893.2,660.0 1893.2,654.1 1893.2,654.1 1893.2,654.1 1891.0,650.4 1890.9,650.4 1890.9,650.3 1890.9,650.2 1890.8,650.1 1890.8,650.0 1890.8,649.9 1890.8,649.8 1890.8,649.7 1891.2,647.8 1891.2,647.8 1891.2,647.8 1890.3,648.0 1890.2,648.0 1890.1,648.0 1890.0,648.0 1889.9,648.0 1889.8,648.0 1889.7,648.0 1889.7,647.9 1889.6,647.9 1889.5,647.8 1889.4,647.8 1889.3,647.7 1889.3,647.6 1889.2,647.5 1888.5,646.4 1888.5,646.3 1888.5,646.3 1862.1,654.1 1862.1,654.1 1835.7,660.0 1835.7,660.0Z"/><path id="z311" d="M1891.5,635.5 1893.9,638.4 1893.9,638.4 1894.0,638.5 1894.0,638.6 1894.0,638.7 1894.1,638.8 1894.1,638.9 1894.1,639.0 1894.1,639.1 1894.1,639.2 1894.0,639.3 1894.0,639.4 1894.0,639.5 1893.9,639.6 1893.9,639.6 1893.8,639.7 1893.7,639.8 1893.6,639.8 1893.6,639.9 1893.5,639.9 1893.4,640.0 1893.3,640.0 1893.2,640.0 1893.1,640.0 1893.1,640.0 1893.0,640.0 1893.0,640.0 1893.2,640.9 1893.2,640.9 1893.2,640.9 1894.8,640.1 1894.9,640.1 1895.0,640.0 1895.1,640.0 1895.2,640.0 1895.2,640.0 1895.2,640.0 1920.0,640.0 1920.0,640.0 1920.0,640.0 1920.0,630.0 1920.0,629.9 1920.0,629.8 1920.0,629.7 1920.1,629.6 1920.1,629.5 1920.2,629.4 1920.2,629.3 1920.3,629.2 1920.4,629.2 1920.5,629.1 1920.5,629.1 1920.6,629.0 1920.7,629.0 1920.8,629.0 1920.9,629.0 1921.0,629.0 1921.1,629.0 1921.2,629.0 1921.3,629.0 1921.4,629.1 1921.5,629.1 1921.6,629.2 1921.7,629.2 1921.7,629.3 1921.8,629.4 1921.9,629.5 1922.7,630.8 1922.7,630.8 1922.7,630.8 1932.7,629.4 1932.8,629.4 1932.9,629.4 1933.0,629.4 1933.1,629.4 1933.2,629.4 1933.3,629.5 1933.4,629.5 1933.5,629.6 1933.5,629.6 1933.6,629.7 1933.7,629.8 1933.7,629.9 1933.8,630.0 1933.8,630.0 1935.1,633.9 1935.1,633.9 1935.1,633.9 1939.7,641.7 1939.8,641.7 1939.8,641.7 1945.2,638.6 1945.2,638.6 1945.2,638.5 1946.0,632.4 1946.0,632.4 1946.0,632.3 1941.4,624.7 1941.3,624.6 1941.3,624.6 1941.3,624.5 1939.3,617.8 1939.3,617.7 1939.2,617.6 1939.2,617.5 1939.2,617.4 1939.3,617.3 1939.3,617.2 1939.3,617.1 1939.4,617.1 1939.4,617.0 1939.5,616.9 1939.6,616.8 1939.6,616.8 1939.7,616.7 1939.8,616.6 1939.9,616.6 1940.0,616.6 1945.2,615.3 1945.2,615.3 1945.2,615.3 1942.9,607.5 1942.9,607.5 1940.0,599.5 1940.0,599.5 1940.0,599.5 1940.0,599.6 1939.9,599.7 1939.8,599.7 1939.8,599.8 1939.7,599.8 1939.6,599.9 1939.5,599.9 1939.4,600.0 1939.3,600.0 1939.2,600.0 1939.1,600.0 1921.0,600.0 1920.9,600.0 1920.8,600.0 1920.7,600.0 1920.6,599.9 1920.5,599.9 1920.4,599.8 1920.4,599.8 1920.3,599.7 1920.2,599.6 1920.2,599.6 1920.1,599.5 1920.1,599.4 1920.0,599.3 1920.0,599.2 1920.0,599.1 1920.0,599.0 1920.0,594.6 1920.0,594.5 1920.0,594.5 1903.6,603.8 1903.6,603.9 1903.6,603.9 1899.0,613.1 1898.9,613.2 1899.0,613.2 1900.7,618.5 1900.7,618.6 1900.8,618.7 1900.8,618.8 1900.8,618.9 1900.7,619.0 1900.7,619.1 1897.2,631.4 1897.1,631.5 1897.1,631.6 1897.1,631.7 1897.0,631.8 1896.9,631.9 1896.9,631.9 1896.8,632.0 1891.5,635.5 1891.5,635.5Z"/><path id="z312" d="M1977.0,626.9 1961.5,623.0 1955.3,616.8 1949.1,607.5 1943.6,596.6 1942.1,588.1 1940.0,589.0 1940.0,599.5 1942.9,607.5 1949.1,619.9 1955.3,630.8 1964.6,631.6Z"/><path id="z313" d="M1913.0,640.0 1914.9,644.7 1914.9,644.8 1914.9,644.9 1918.0,660.0 1918.0,660.0 1918.0,660.0 1919.3,660.0 1919.4,660.0 1919.5,660.0 1919.6,660.0 1919.7,660.1 1919.8,660.1 1919.8,660.2 1919.9,660.2 1920.0,660.3 1920.1,660.4 1920.1,660.4 1920.2,660.5 1920.2,660.6 1920.2,660.7 1920.3,660.8 1920.3,660.9 1920.3,661.0 1920.3,661.1 1920.3,661.2 1916.7,680.0 1916.7,680.0 1916.8,680.0 1917.3,680.0 1917.4,680.0 1917.5,680.0 1917.5,680.0 1917.6,680.1 1917.7,680.1 1917.8,680.2 1917.9,680.2 1918.0,680.3 1918.0,680.4 1918.1,680.5 1918.1,680.5 1918.2,680.6 1918.2,680.7 1918.2,680.8 1918.2,680.9 1918.3,681.0 1918.2,681.1 1916.5,694.9 1916.5,694.9 1913.7,714.4 1913.7,714.5 1913.7,714.5 1976.1,680.0 1976.1,680.0 1976.1,680.0 1975.4,680.0 1975.3,680.0 1975.2,680.0 1975.1,680.0 1975.0,679.9 1974.9,679.9 1974.8,679.8 1974.7,679.8 1974.7,679.7 1974.6,679.6 1974.5,679.6 1964.2,664.9 1964.2,664.8 1962.2,661.5 1962.1,661.4 1962.1,661.4 1962.0,661.3 1962.0,661.2 1962.0,661.1 1962.0,661.0 1962.0,660.9 1962.0,660.8 1962.0,660.7 1962.1,660.6 1962.1,660.5 1962.2,660.4 1962.2,660.4 1962.3,660.3 1962.4,660.2 1962.5,660.2 1962.5,660.1 1962.6,660.1 1962.7,660.0 1962.8,660.0 1962.9,660.0 1963.0,660.0 1964.6,660.0 1964.6,660.0 1964.6,660.0 1960.3,648.7 1960.2,648.6 1960.2,648.5 1960.2,648.4 1960.2,648.4 1960.2,648.3 1960.2,648.2 1960.2,648.1 1960.3,648.0 1960.3,647.9 1960.4,647.8 1960.4,647.7 1960.5,647.7 1960.6,647.6 1960.7,647.5 1960.7,647.5 1967.7,644.0 1967.7,644.0 1967.7,644.0 1963.5,640.5 1963.4,640.4 1963.4,640.4 1963.3,640.3 1963.3,640.2 1963.2,640.1 1963.2,640.0 1963.2,639.9 1963.1,639.8 1963.1,639.7 1963.1,639.6 1963.1,639.6 1964.6,631.6 1964.6,631.6 1964.6,631.6 1955.8,630.9 1955.7,630.8 1955.6,630.8 1955.5,630.8 1955.4,630.7 1955.3,630.7 1955.3,630.6 1955.2,630.6 1955.1,630.5 1955.1,630.4 1955.0,630.4 1949.1,620.0 1949.1,619.9 1949.1,619.9 1945.2,615.3 1945.2,615.3 1945.2,615.3 1939.0,616.8 1939.0,616.8 1939.0,616.9 1941.3,624.6 1941.3,624.6 1941.3,624.6 1945.8,632.1 1945.8,632.1 1945.9,632.2 1945.9,632.3 1945.9,632.4 1945.9,632.5 1945.9,632.6 1945.9,632.7 1945.2,638.1 1945.2,638.2 1945.2,638.3 1945.2,638.4 1945.1,638.5 1945.1,638.5 1945.0,638.6 1944.9,638.7 1944.8,638.8 1944.8,638.8 1940.6,641.2 1940.5,641.2 1940.4,641.3 1940.3,641.3 1940.2,641.3 1940.1,641.3 1940.0,641.3 1939.9,641.3 1939.9,641.3 1939.8,641.3 1939.7,641.2 1939.6,641.2 1939.5,641.1 1939.4,641.1 1939.4,641.0 1939.3,640.9 1939.2,640.8 1935.1,634.0 1935.1,633.9 1935.1,633.8 1933.5,629.3 1933.5,629.3 1933.5,629.3 1922.7,630.8 1922.7,630.8 1922.6,630.8 1920.0,632.1 1920.0,632.1 1920.0,632.2 1920.0,639.0 1920.0,639.1 1920.0,639.2 1920.0,639.3 1919.9,639.4 1919.9,639.5 1919.8,639.6 1919.8,639.6 1919.7,639.7 1919.6,639.8 1919.6,639.8 1919.5,639.9 1919.4,639.9 1919.3,640.0 1919.2,640.0 1919.1,640.0 1919.0,640.0 1913.0,640.0 1913.0,640.0Z"/><path id="z314" d="M1959.9,647.9 1964.0,658.5 1964.1,658.6 1964.1,658.7 1964.1,658.8 1964.1,658.9 1964.1,659.0 1964.1,659.1 1964.0,659.2 1964.0,659.3 1964.0,659.4 1963.9,659.4 1963.9,659.5 1963.8,659.6 1963.7,659.7 1963.6,659.7 1963.6,659.8 1963.5,659.8 1963.4,659.8 1963.3,659.9 1963.2,659.9 1963.1,659.9 1961.1,659.9 1961.1,659.9 1961.1,659.9 1964.2,664.8 1964.2,664.9 1974.8,680.0 1974.8,680.0 1974.9,680.0 1975.6,680.0 1975.6,680.0 1975.7,680.0 1999.9,663.3 1999.9,663.3 1999.9,663.3 2001.2,660.6 2001.2,660.5 2001.3,660.4 2001.3,660.3 2001.4,660.2 2001.5,660.2 2001.6,660.1 2001.7,660.1 2001.8,660.0 2001.8,660.0 2001.9,660.0 2001.9,660.0 1999.8,653.3 1999.7,653.2 1999.7,653.1 1999.7,653.0 1999.7,652.9 1999.7,652.8 1999.8,652.7 1999.8,652.6 1999.8,652.6 1999.9,652.5 1999.9,652.4 2000.0,652.3 2000.1,652.3 2000.1,652.2 2000.2,652.1 2003.4,650.2 2003.4,650.2 2003.4,650.2 2002.0,645.3 2002.0,645.2 2002.0,645.1 2002.0,645.0 2002.0,644.9 2002.0,644.8 2002.0,644.7 2002.1,644.6 2002.1,644.5 2002.2,644.4 2006.5,638.6 2006.5,638.6 2006.5,638.6 1991.0,632.4 1977.0,626.9 1977.0,626.9 1977.0,626.9 1964.6,631.6 1964.6,631.6 1964.6,631.6 1963.0,640.1 1963.0,640.1 1963.1,640.1 1966.5,643.0 1966.6,643.1 1966.7,643.2 1966.7,643.2 1966.8,643.3 1966.8,643.4 1966.8,643.5 1966.9,643.6 1966.9,643.7 1966.9,643.8 1966.9,643.9 1966.9,644.0 1966.8,644.1 1966.8,644.2 1966.8,644.3 1966.7,644.4 1966.6,644.4 1966.6,644.5 1966.5,644.6 1966.4,644.6 1966.3,644.7 1960.0,647.9 1959.9,647.9Z"/><path id="z315" d="M1968.7,685.6 1983.4,685.6 1983.5,685.6 1983.6,685.6 1983.7,685.6 1983.8,685.7 1999.4,691.9 1999.5,691.9 1999.5,692.0 1999.6,692.0 1999.7,692.1 1999.8,692.1 1999.8,692.2 1999.9,692.3 1999.9,692.4 2000.0,692.5 2000.0,692.6 2000.0,692.7 2000.0,692.8 2000.0,695.2 2000.0,695.2 2000.0,695.2 2006.0,698.9 2006.1,699.0 2006.2,699.1 2020.1,713.0 2020.1,713.0 2020.1,713.0 2035.6,714.5 2035.7,714.5 2035.7,714.5 2048.0,713.0 2048.1,713.0 2048.1,713.0 2044.3,699.2 2043.5,696.1 2043.4,695.9 2043.4,695.7 2044.4,684.2 2045.0,677.3 2045.0,677.3 2044.9,677.3 2034.2,671.1 2034.1,671.1 2034.0,671.0 2030.2,667.2 2026.4,663.4 2026.3,663.3 2026.3,663.2 2021.8,656.9 2020.4,655.0 2022.0,660.0 2018.7,652.6 2018.6,652.4 2018.5,652.3 2015.9,646.5 2015.8,646.3 2015.8,646.2 2015.1,638.6 2015.1,638.6 2015.0,638.6 2010.4,636.3 2010.4,636.2 2010.4,636.3 2008.5,637.4 2006.5,638.6 2006.5,638.6 2006.5,638.6 2001.9,644.8 2001.9,644.8 2001.9,644.8 2003.2,649.5 2003.2,649.6 2003.2,649.7 2003.2,649.8 2003.2,649.9 2003.2,650.0 2003.2,650.1 2003.2,650.2 2003.1,650.3 2003.1,650.3 2003.0,650.4 2002.9,650.5 2002.8,650.6 2002.8,650.6 1999.6,652.5 1999.5,652.5 1999.5,652.6 2001.6,659.1 2001.6,659.2 2001.6,659.3 2001.6,659.4 2001.6,659.5 2001.6,659.6 2001.6,659.7 2001.6,659.7 2001.5,659.8 2001.5,659.9 2000.1,663.0 2000.0,663.1 2000.0,663.2 1999.9,663.3 1999.8,663.3 1999.8,663.4 1999.7,663.4 1975.7,680.0 1975.6,680.0 1975.6,680.0 1975.6,680.1 1975.6,680.2 1975.6,680.3 1975.5,680.4 1975.5,680.5 1975.4,680.5 1975.3,680.6 1975.2,680.7 1968.7,685.6 1968.7,685.6Z"/><path id="z316" d="M1907.1,467.8 1907.2,468.9 1908.7,494.2 1911.8,498.0 1931.4,500.0 1932.0,500.0 1932.0,496.5 1928.9,491.1 1921.1,488.7 1915.7,463.3 1915.7,463.3 1915.7,463.1Z"/><path id="z317" d="M1913.4,481.7 1911.0,469.3 1911.0,481.7 1914.1,486.4 1912.6,488.7 1916.5,484.8ZM1932.0,496.5 1928.9,491.1 1922.7,489.5 1914.9,492.6 1912.0,489.7 1911.0,491.1 1911.8,498.0 1916.5,497.3 1924.2,494.9Z"/><path id="z318" d="M1936.1,705.2 1938.4,718.6 1938.4,718.7 1938.4,718.7 1961.5,716.4 1961.6,716.4 1961.7,716.4 1961.7,716.4 1961.8,716.4 1961.9,716.5 1962.0,716.5 1962.1,716.6 1962.2,716.6 1962.2,716.7 1962.3,716.7 1962.4,716.8 1962.4,716.9 1962.5,717.0 1970.5,734.9 1970.6,735.0 1970.6,735.0 1979.6,737.7 1979.7,737.7 1979.8,737.8 1979.8,737.8 1979.9,737.9 1980.0,737.9 1980.1,738.0 1985.3,745.0 1985.4,745.1 1985.4,745.2 1985.5,745.3 1985.5,745.4 1987.3,753.6 1987.3,753.6 1987.3,753.6 1995.7,760.1 1995.7,760.1 1995.7,760.1 2000.0,755.5 2000.0,755.5 2000.0,755.4 2000.0,753.3 2000.0,753.2 2000.0,753.1 2000.0,753.0 2000.1,752.9 2000.1,752.8 2000.2,752.7 2000.2,752.6 2000.3,752.6 2000.4,752.5 2003.0,750.3 2003.0,750.2 2003.0,750.2 2001.5,721.4 2001.5,721.4 2001.5,721.3 2001.6,721.2 2001.6,721.1 2001.6,721.0 2001.7,720.9 2001.7,720.8 2001.8,720.8 2001.8,720.7 2001.9,720.6 2002.0,720.6 2002.1,720.5 2002.1,720.5 2020.1,713.0 2020.1,713.0 2020.1,713.0 2006.2,699.0 2006.1,699.0 2006.1,699.0 2000.5,695.5 2000.4,695.5 2000.3,695.4 2000.2,695.3 2000.2,695.2 2000.1,695.2 2000.1,695.1 2000.0,695.0 2000.0,694.9 2000.0,694.8 2000.0,694.7 2000.0,692.1 2000.0,692.1 2000.0,692.1 1983.6,685.6 1983.6,685.6 1983.6,685.6 1968.7,685.6 1968.7,685.6 1968.7,685.6 1936.1,705.1 1936.1,705.2Z"/><path id="z319" d="M2085.3,787.5 2090.0,782.9 2090.0,778.2 2076.0,759.6 2065.2,745.6 2057.4,730.1 2048.1,713.0 2035.7,714.5 2020.1,713.0 2001.5,720.7 2003.0,750.2 2009.3,756.5 2020.1,768.9 2062.0,801.5Z"/><path id="z320" d="M2062.0,744.0 2064.4,744.0 2057.4,730.1 2049.5,715.5 2046.5,714.5Z"/><path id="z321" d="M1961.2,804.9 1962.2,813.3 1962.2,813.3 1962.2,813.3 1967.8,831.0 1967.8,831.0 1967.8,831.0 1979.2,829.2 1979.3,829.2 1979.4,829.2 1979.5,829.2 1979.6,829.3 1979.7,829.3 1979.8,829.3 1979.9,829.4 1980.0,829.4 1980.0,829.5 1980.1,829.6 1980.2,829.7 1980.2,829.7 1984.5,837.5 1984.5,837.5 1984.6,837.5 1989.1,833.9 1989.2,833.8 1989.3,833.8 1989.4,833.7 1998.8,830.5 1998.9,830.4 1999.0,830.4 1999.1,830.4 1999.2,830.4 1999.3,830.4 1999.4,830.4 1999.5,830.5 1999.6,830.5 1999.7,830.6 1999.8,830.6 1999.8,830.7 1999.9,830.7 2000.0,830.8 2000.0,830.9 2000.0,830.9 2009.2,829.4 2009.3,829.4 2009.3,829.4 2013.9,818.6 2013.9,818.6 2013.9,818.6 2002.1,808.2 2002.0,808.1 2001.9,808.1 2001.9,808.0 2001.8,807.9 2001.8,807.8 2001.8,807.7 2001.7,807.6 2001.7,807.5 2001.7,807.4 2001.7,807.3 2001.8,807.2 2001.8,807.1 2001.8,807.0 2020.1,768.9 2020.1,768.9 2020.1,768.9 2009.3,756.5 2009.2,756.4 2003.1,750.3 2003.0,750.3 2003.0,750.3 2000.0,752.8 2000.0,752.8 2000.0,752.8 2000.0,755.1 2000.0,755.2 2000.0,755.3 2000.0,755.4 1999.9,755.4 1999.9,755.5 1999.8,755.6 1999.8,755.7 1999.7,755.8 1996.3,759.4 1996.3,759.5 1996.2,759.6 1996.1,759.6 1996.0,759.7 1995.9,759.7 1995.8,759.7 1995.7,759.8 1995.6,759.8 1995.5,759.8 1995.4,759.8 1995.3,759.7 1995.2,759.7 1995.2,759.7 1995.1,759.6 1995.0,759.6 1987.3,753.6 1987.3,753.6 1987.3,753.6 1983.9,764.9 1983.8,765.0 1983.8,765.1 1983.7,765.2 1983.7,765.2 1983.6,765.3 1983.5,765.4 1983.4,765.4 1983.3,765.5 1983.3,765.5 1983.2,765.6 1983.1,765.6 1983.0,765.6 1982.9,765.6 1982.8,765.6 1974.3,764.3 1974.3,764.3 1974.3,764.3 1963.1,769.4 1963.1,769.4 1963.1,769.5 1965.8,799.1 1965.8,799.2 1965.8,799.3 1965.8,799.4 1965.8,799.5 1965.8,799.6 1965.7,799.7 1965.7,799.8 1965.6,799.8 1965.6,799.9 1965.5,800.0 1965.4,800.0 1965.4,800.0 1961.3,804.9 1961.2,804.9Z"/><path id="z322" d="M2037.2,840.3 2043.4,846.5 2051.2,838.8 2060.5,845.0 2069.8,838.8 2063.6,832.5 2069.8,820.1 2082.2,813.9 2097.8,841.9 2104.0,848.1 2113.3,846.5 2100.9,823.2 2086.9,798.4 2085.3,787.5 2062.0,801.5 2020.1,768.9 2001.5,807.7 2013.9,818.6 2009.3,829.4 2026.3,834.1Z"/><path id="z323" d="M1989.2,833.8 1995.7,867.3 1995.7,867.3 1995.7,867.3 2000.0,872.0 2000.0,872.0 2000.0,872.0 2000.0,871.5 2000.0,871.4 2000.0,871.3 2000.0,871.3 2000.1,871.2 2000.1,871.1 2000.2,871.0 2000.2,870.9 2000.3,870.8 2000.4,870.8 2000.4,870.7 2000.5,870.7 2000.6,870.6 2000.7,870.6 2000.8,870.6 2000.9,870.5 2001.0,870.5 2001.1,870.5 2001.2,870.6 2001.3,870.6 2001.4,870.6 2001.4,870.6 2001.5,870.7 2001.6,870.7 2001.7,870.8 2001.7,870.9 2001.8,871.0 2012.2,885.2 2012.3,885.3 2012.3,885.3 2012.4,885.4 2012.4,885.5 2017.0,904.0 2017.0,904.0 2017.0,904.0 2054.3,865.2 2054.3,865.2 2054.3,865.1 2051.2,854.3 2051.2,854.3 2051.2,854.3 2037.2,840.3 2037.2,840.3 2037.2,840.3 2026.4,834.1 2026.3,834.1 2026.3,834.1 2009.3,829.4 2009.3,829.4 2009.2,829.4 2001.1,830.7 2001.0,830.7 2000.9,830.7 2000.8,830.7 2000.7,830.7 2000.6,830.7 2000.5,830.6 2000.4,830.6 2000.3,830.5 2000.3,830.5 2000.2,830.4 2000.1,830.3 2000.1,830.2 2000.0,830.1 2000.0,830.1 2000.0,830.1 2000.0,830.1 1989.2,833.8 1989.2,833.8Z"/><path id="z324" d="M1949.1,884.1 1969.6,908.3 1969.6,908.3 1969.7,908.3 2000.0,898.1 2000.0,898.1 2000.0,898.1 2000.0,898.0 2000.0,897.9 2000.1,897.8 2000.1,897.7 2000.2,897.6 2000.2,897.6 2000.3,897.5 2000.4,897.4 2000.5,897.4 2000.6,897.3 2000.7,897.3 2012.3,893.1 2012.4,893.1 2012.4,893.1 2012.4,885.4 2012.4,885.3 2012.3,885.3 2000.0,868.5 2000.0,868.5 2000.0,868.5 2000.0,869.4 2000.0,869.5 2000.0,869.6 2000.0,869.7 1999.9,869.8 1999.9,869.9 1999.8,870.0 1999.8,870.1 1999.7,870.1 1999.6,870.2 1999.5,870.3 1999.5,870.3 1999.4,870.4 1999.3,870.4 1999.2,870.4 1999.1,870.4 1999.0,870.4 1998.9,870.4 1998.8,870.4 1998.7,870.4 1998.6,870.3 1998.5,870.3 1998.4,870.2 1998.3,870.2 1998.3,870.1 1995.9,867.5 1995.8,867.5 1995.8,867.4 1995.7,867.3 1995.7,867.2 1995.7,867.1 1995.7,867.1 1989.2,833.8 1989.2,833.8 1989.2,833.8 1984.6,837.5 1984.5,837.5 1984.5,837.5 1977.1,852.4 1977.1,852.4 1973.4,861.5 1973.4,861.6 1973.4,861.7 1973.3,861.8 1973.3,861.8 1973.2,861.9 1949.1,884.1 1949.1,884.1Z"/><path id="z325" d="M1863.4,903.2 1865.6,908.6 1865.7,908.7 1865.7,908.8 1865.7,908.9 1865.7,909.0 1865.7,909.1 1865.7,909.2 1865.7,909.3 1865.6,909.4 1865.6,909.5 1865.5,909.6 1865.5,909.7 1865.4,909.7 1865.3,909.8 1865.2,909.9 1865.2,909.9 1865.1,909.9 1865.0,910.0 1864.9,910.0 1864.8,910.0 1864.8,910.0 1864.8,910.0 1864.8,910.2 1864.8,910.2 1864.9,910.2 1871.0,924.1 1871.1,924.2 1871.1,924.2 1881.9,930.4 1881.9,930.4 1891.9,935.9 1892.1,936.0 1913.0,951.4 1913.1,951.5 1913.2,951.5 1913.2,951.6 1913.3,951.7 1913.3,951.8 1913.4,951.9 1913.4,951.9 1913.4,952.0 1913.4,952.1 1913.8,955.8 1913.8,955.8 1915.0,970.3 1915.0,970.4 1915.0,970.4 1917.4,974.5 1917.4,974.5 1917.4,974.6 1917.5,974.7 1923.8,1000.2 1923.8,1000.2 1923.9,1000.3 1925.0,1012.8 1925.0,1012.9 1925.0,1013.0 1924.4,1018.5 1924.3,1018.5 1924.4,1018.5 1986.4,1011.4 1986.5,1011.4 2002.7,1008.6 2002.8,1008.6 2007.7,1008.0 2007.7,1008.0 2007.7,1008.0 2007.8,1007.9 2007.8,1007.9 2007.9,1007.8 2008.0,1007.8 2008.0,1007.7 2008.1,1007.7 2008.2,1007.6 2008.2,1007.6 2008.2,1007.6 2006.6,996.8 2006.6,996.8 2006.6,996.8 2002.6,993.7 2002.6,993.6 2002.5,993.5 2002.5,993.5 2002.4,993.4 2002.4,993.3 2002.3,993.2 2001.5,991.0 2001.5,990.9 2001.5,990.9 1992.3,981.7 1992.2,981.7 1992.2,981.6 1992.1,981.5 1992.1,981.5 1980.6,957.0 1980.5,956.9 1980.5,956.8 1980.5,956.7 1980.5,956.6 1980.5,956.5 1980.5,956.4 1980.5,956.3 1980.6,956.2 1980.6,956.1 1980.7,956.0 1980.7,955.9 1980.8,955.9 1983.3,953.3 1983.4,953.3 1983.4,953.3 1983.4,953.2 1983.4,953.1 1983.4,953.0 1983.4,953.0 1983.5,952.9 1983.5,952.8 1983.6,952.7 1983.6,952.6 1983.7,952.6 1983.8,952.5 1984.4,952.1 1984.4,952.1 1984.4,952.1 1981.6,940.3 1981.6,940.2 1980.3,930.0 1980.2,930.0 1980.2,930.0 1980.0,930.0 1979.9,930.0 1979.8,930.0 1979.7,930.0 1979.6,929.9 1979.5,929.9 1979.5,929.8 1979.4,929.8 1979.3,929.7 1979.2,929.7 1979.2,929.6 1979.1,929.5 1979.1,929.4 1979.1,929.3 1979.0,929.2 1978.2,925.7 1978.2,925.7 1978.2,925.7 1970.4,911.5 1970.4,911.4 1970.4,911.3 1970.3,911.2 1970.3,911.1 1970.3,911.0 1970.3,910.9 1970.3,910.8 1970.4,910.7 1970.4,910.6 1970.4,910.5 1970.5,910.4 1970.5,910.4 1970.6,910.3 1970.7,910.2 1970.8,910.2 1970.8,910.1 1970.9,910.1 1971.0,910.0 1971.1,910.0 1971.2,910.0 1971.3,910.0 1972.4,910.0 1972.4,910.0 1972.4,910.0 1969.8,908.4 1969.7,908.3 1969.6,908.3 1969.5,908.2 1949.1,884.1 1949.1,884.1 1949.1,884.1 1945.0,889.8 1945.0,889.9 1944.9,890.0 1944.8,890.1 1944.7,890.1 1944.6,890.2 1944.5,890.2 1944.4,890.2 1944.4,890.3 1944.2,890.3 1944.1,890.3 1944.0,890.3 1943.9,890.2 1943.9,890.2 1943.8,890.2 1943.7,890.1 1921.6,876.0 1921.6,876.0 1921.5,875.9 1921.4,875.8 1921.4,875.7 1921.3,875.6 1921.3,875.6 1921.2,875.5 1921.2,875.4 1921.2,875.3 1921.2,875.2 1921.2,874.8 1921.2,874.8 1921.2,874.8 1905.4,881.3 1905.3,881.3 1905.3,881.3 1900.7,897.0 1900.7,897.1 1900.7,897.2 1900.6,897.3 1897.4,902.1 1897.3,902.2 1897.2,902.3 1897.2,902.4 1897.1,902.4 1897.0,902.5 1896.9,902.5 1896.8,902.5 1896.7,902.6 1896.6,902.6 1896.5,902.6 1896.5,902.6 1896.4,902.6 1896.3,902.5 1881.1,898.5 1881.1,898.5 1881.1,898.5 1873.7,898.5 1873.7,898.5 1873.6,898.6 1863.4,903.2 1863.4,903.2Z"/><path id="z326" d="M1969.6,910.0 1978.1,925.6 1978.2,925.7 1978.2,925.8 1978.2,925.8 1981.6,940.2 1981.6,940.3 1983.2,952.2 1983.2,952.3 1983.2,952.4 1983.2,952.5 1983.2,952.6 1983.2,952.7 1983.1,952.8 1983.1,952.9 1983.0,953.0 1982.9,953.1 1982.9,953.1 1982.8,953.2 1979.8,955.2 1979.8,955.2 1979.8,955.2 1980.0,955.7 1980.0,955.8 1980.1,955.9 1980.1,956.0 1980.1,956.1 1980.1,956.2 1980.1,956.3 1980.0,956.4 1980.0,956.5 1980.0,956.6 1979.9,956.7 1979.9,956.8 1979.8,956.9 1978.7,957.9 1978.7,958.0 1978.7,958.0 1992.7,985.9 1992.7,985.9 1992.7,985.9 2002.2,993.3 2002.3,993.4 2002.3,993.4 2002.4,993.5 2002.4,993.6 2002.5,993.7 2002.5,993.8 2007.7,1008.0 2007.7,1008.0 2012.3,1017.3 2012.4,1017.3 2012.4,1017.3 2037.2,1014.2 2037.2,1014.2 2037.2,1014.2 2037.2,1005.2 2037.2,1005.1 2037.2,1005.0 2037.2,1004.9 2037.3,1004.8 2037.3,1004.7 2037.4,1004.7 2044.9,992.6 2045.0,992.5 2045.0,992.4 2058.9,978.5 2058.9,978.5 2058.9,978.5 2017.0,904.0 2017.0,903.9 2012.4,893.1 2012.4,893.1 2012.3,893.1 2000.0,897.5 2000.0,897.5 2000.0,897.6 2000.0,897.6 2000.0,897.7 1999.9,897.8 1999.9,897.9 1999.8,898.0 1999.8,898.0 1999.7,898.1 1999.6,898.2 1999.5,898.2 1999.4,898.3 1999.3,898.3 1969.7,908.3 1969.6,908.3 1969.6,908.3 1969.7,908.4 1969.8,908.5 1969.9,908.5 1969.9,908.6 1970.0,908.7 1970.0,908.8 1970.0,908.9 1970.1,909.0 1970.1,909.1 1970.1,909.2 1970.1,909.3 1970.1,909.4 1970.0,909.5 1970.0,909.6 1969.9,909.7 1969.9,909.7 1969.8,909.8 1969.8,909.9 1969.7,910.0 1969.7,910.0 1969.6,910.0Z"/><path id="z327" d="M2017.0,904.0 2058.6,977.8 2058.6,977.9 2058.7,978.0 2058.7,978.1 2058.7,978.2 2058.7,978.3 2058.7,978.4 2058.7,978.5 2058.7,978.6 2058.6,978.7 2058.6,978.8 2058.5,978.9 2058.5,979.0 2058.4,979.0 2045.0,992.5 2045.0,992.5 2045.0,992.5 2037.2,1004.9 2037.2,1004.9 2037.2,1004.9 2037.2,1014.2 2037.2,1014.2 2037.2,1014.2 2074.0,1014.2 2074.1,1014.2 2074.2,1014.2 2074.3,1014.3 2074.4,1014.3 2074.5,1014.3 2074.6,1014.4 2074.6,1014.4 2074.7,1014.5 2074.8,1014.6 2074.8,1014.7 2074.9,1014.7 2074.9,1014.8 2075.0,1014.9 2075.0,1015.0 2075.0,1015.1 2075.0,1015.2 2075.0,1015.3 2075.0,1015.4 2075.0,1015.5 2074.9,1015.6 2074.9,1015.7 2066.8,1032.5 2066.8,1032.5 2062.2,1044.7 2062.2,1044.8 2062.1,1044.8 2062.1,1044.9 2062.0,1045.0 2061.9,1045.1 2052.8,1052.7 2052.8,1052.7 2052.8,1052.7 2069.9,1069.7 2069.9,1069.8 2069.9,1069.8 2085.3,1075.9 2085.4,1076.0 2085.5,1076.0 2094.7,1082.2 2099.4,1085.3 2099.4,1085.3 2099.4,1085.3 2119.5,1085.3 2119.6,1085.3 2119.6,1085.3 2128.9,1057.3 2128.9,1057.3 2133.3,1045.5 2133.4,1045.4 2133.4,1045.3 2133.5,1045.2 2133.5,1045.1 2133.6,1045.1 2133.7,1045.0 2133.8,1045.0 2133.8,1044.9 2133.9,1044.9 2134.0,1044.8 2134.1,1044.8 2143.5,1043.5 2143.6,1043.5 2143.7,1043.5 2143.8,1043.5 2143.9,1043.5 2144.0,1043.5 2144.1,1043.6 2144.2,1043.6 2144.3,1043.7 2144.3,1043.7 2144.4,1043.8 2144.5,1043.9 2144.5,1044.0 2144.6,1044.0 2144.6,1044.1 2144.6,1044.2 2146.0,1049.5 2146.0,1049.6 2146.0,1049.5 2144.4,1038.7 2144.4,1038.7 2142.9,1020.1 2142.9,1020.1 2142.8,1020.1 2139.8,1021.6 2139.8,1021.6 2139.7,1021.7 2139.6,1021.7 2139.5,1021.7 2139.4,1021.7 2139.3,1021.7 2139.2,1021.7 2139.1,1021.7 2139.0,1021.6 2138.9,1021.6 2138.8,1021.5 2138.8,1021.5 2138.7,1021.4 2138.6,1021.4 2138.6,1021.3 2138.5,1021.2 2138.5,1021.1 2138.4,1021.0 2138.4,1020.9 2138.4,1020.8 2138.4,1020.7 2138.4,1020.6 2138.4,1020.5 2138.4,1020.4 2138.5,1020.3 2138.5,1020.3 2147.4,1003.4 2147.5,1003.3 2151.6,992.2 2152.1,990.9 2152.1,990.9 2152.1,990.9 2156.8,969.2 2156.8,969.2 2156.8,969.2 2153.7,944.4 2153.7,944.3 2153.7,944.3 2144.6,926.3 2144.3,925.7 2144.7,925.2 2150.5,918.0 2150.6,918.0 2150.6,917.9 2149.8,915.6 2149.0,913.3 2149.0,913.3 2149.0,913.3 2142.0,908.6 2135.1,904.0 2135.0,904.0 2135.0,903.9 2131.9,901.2 2122.6,893.1 2122.6,893.1 2122.6,893.1 2113.3,893.1 2113.3,893.1 2113.3,893.1 2104.5,899.0 2104.0,899.3 2103.5,899.1 2095.7,895.2 2088.5,891.6 2088.4,891.6 2088.4,891.5 2071.6,882.3 2071.4,882.2 2071.2,882.0 2060.5,866.7 2060.5,866.7 2060.5,866.7 2054.3,865.2 2054.3,865.2 2054.3,865.2 2017.0,904.0 2017.0,904.0ZM2100.1,1040.0 2100.2,1040.0 2100.3,1040.0 2100.3,1040.1 2100.4,1040.1 2100.5,1040.2 2100.6,1040.2 2100.7,1040.3 2100.7,1040.4 2100.8,1040.4 2100.8,1040.5 2100.9,1040.6 2100.9,1040.7 2100.9,1040.8 2101.0,1040.9 2101.0,1041.0 2101.0,1041.1 2100.9,1041.2 2100.9,1041.3 2100.9,1041.4 2100.8,1041.5 2100.8,1041.6 2100.7,1041.6 2100.7,1041.7 2100.6,1041.8 2100.5,1041.8 2100.4,1041.9 2090.6,1046.9 2090.5,1047.0 2090.4,1047.0 2090.3,1047.0 2090.2,1047.0 2090.1,1047.0 2090.0,1047.0 2089.9,1047.0 2089.9,1047.0 2089.8,1047.0 2089.7,1046.9 2089.6,1046.9 2089.5,1046.8 2089.4,1046.7 2089.4,1046.7 2089.3,1046.6 2089.3,1046.5 2089.2,1046.4 2089.2,1046.3 2089.2,1046.2 2089.2,1046.1 2089.2,1046.0 2089.2,1045.9 2089.2,1045.8 2089.2,1045.8 2090.7,1040.7 2090.8,1040.6 2090.8,1040.5 2090.9,1040.4 2090.9,1040.4 2091.0,1040.3 2091.1,1040.2 2091.1,1040.2 2091.2,1040.1 2091.3,1040.1 2091.4,1040.0 2091.5,1040.0 2091.6,1040.0 2091.7,1040.0 2100.0,1040.0Z"/><path id="z328" d="M2133.5,1040.0 2153.5,1040.0 2153.6,1040.0 2155.3,1040.2 2155.3,1040.2 2155.3,1040.2 2156.7,1040.0 2156.8,1040.0 2156.9,1040.0 2161.6,1040.0 2161.7,1040.0 2161.8,1040.0 2161.9,1040.0 2162.0,1040.1 2162.1,1040.1 2162.1,1040.2 2162.2,1040.2 2162.3,1040.3 2162.4,1040.4 2162.4,1040.4 2162.5,1040.5 2162.5,1040.6 2162.5,1040.7 2162.6,1040.8 2162.6,1040.9 2162.6,1041.0 2162.6,1041.1 2162.6,1041.2 2162.5,1041.3 2162.5,1041.4 2162.5,1041.5 2162.4,1041.6 2162.3,1041.6 2162.3,1041.7 2162.2,1041.8 2162.1,1041.8 2162.0,1041.9 2161.9,1041.9 2158.4,1043.3 2158.4,1043.4 2158.4,1043.4 2155.3,1052.6 2155.3,1052.7 2155.3,1052.7 2162.6,1062.9 2162.6,1062.9 2162.7,1063.0 2162.7,1063.1 2162.7,1063.2 2162.7,1063.3 2162.7,1063.4 2162.7,1063.5 2162.7,1063.6 2162.7,1063.7 2162.7,1063.8 2162.6,1063.9 2162.6,1064.0 2162.5,1064.1 2162.4,1064.1 2155.3,1071.3 2155.3,1071.3 2155.3,1071.3 2178.5,1080.6 2178.6,1080.6 2178.6,1080.6 2183.2,1066.7 2183.2,1066.6 2186.3,1049.6 2186.3,1049.6 2186.3,1049.5 2177.2,1040.4 2177.1,1040.4 2177.1,1040.3 2177.0,1040.2 2177.0,1040.1 2177.0,1040.0 2177.0,1040.0 2176.9,1040.0 2176.1,1039.3 2176.1,1039.3 2166.1,1031.3 2150.6,1012.7 2150.1,1011.2 2150.1,1011.2 2147.5,1003.4 2147.5,1003.4 2147.4,1003.4 2133.5,1029.7 2133.5,1029.8 2133.5,1029.8 2133.5,1040.0 2133.5,1040.0Z"/><path id="z329" d="M1784.6,1038.7 1827.4,1050.9 1827.5,1051.0 1827.6,1051.0 1827.7,1051.1 1827.8,1051.1 1827.8,1051.2 1827.9,1051.3 1828.0,1051.3 1828.0,1051.4 1828.1,1051.5 1828.1,1051.6 1828.1,1051.7 1828.1,1051.8 1829.6,1074.4 1829.6,1074.4 1829.6,1074.4 1851.3,1085.3 1851.4,1085.3 1851.4,1085.3 1879.3,1069.8 1879.3,1069.7 1904.1,1057.3 1904.2,1057.3 1904.2,1057.3 1905.6,1048.7 1905.6,1048.7 1905.6,1048.6 1905.7,1048.5 1905.7,1048.4 1905.8,1048.3 1905.9,1048.2 1905.9,1048.2 1906.0,1048.1 1906.1,1048.0 1906.2,1048.0 1906.3,1048.0 1906.4,1047.9 1906.5,1047.9 1918.0,1046.5 1918.1,1046.5 1918.2,1046.5 1918.3,1046.5 1929.9,1047.9 1930.0,1047.9 1930.1,1048.0 1930.2,1048.0 1930.3,1048.1 1930.4,1048.1 1930.4,1048.2 1930.5,1048.2 1930.6,1048.3 1930.6,1048.4 1930.7,1048.5 1930.7,1048.6 1930.7,1048.7 1944.5,1097.7 1944.5,1097.7 1944.6,1097.7 1984.9,1091.5 1984.9,1091.5 1984.9,1091.5 1991.1,1054.4 1991.1,1054.3 1991.1,1054.2 1991.2,1054.1 1998.9,1038.7 1998.9,1038.7 1998.9,1038.7 1994.2,1029.3 1994.2,1029.3 1994.1,1029.1 1994.1,1029.0 1994.1,1028.9 1994.1,1028.8 1994.1,1028.7 1995.3,1022.0 1995.3,1022.0 1995.3,1022.0 1994.4,1020.8 1994.3,1020.7 1994.3,1020.6 1994.3,1020.5 1994.2,1020.4 1994.2,1020.3 1994.2,1020.2 1994.2,1020.1 1994.2,1020.1 1994.2,1020.0 1992.7,1018.3 1992.6,1018.2 1987.5,1011.1 1987.5,1011.1 1987.5,1011.1 1926.4,1017.2 1926.3,1017.2 1926.2,1017.2 1926.1,1017.2 1926.0,1017.2 1925.9,1017.2 1925.8,1017.1 1925.8,1017.1 1925.7,1017.0 1925.6,1016.9 1925.5,1016.9 1925.5,1016.8 1925.4,1016.7 1925.4,1016.6 1925.3,1016.5 1925.3,1016.4 1925.3,1016.3 1925.0,1013.0 1925.0,1012.9 1925.0,1012.8 1927.5,992.1 1927.5,992.1 1927.4,992.1 1917.5,974.7 1917.5,974.6 1917.4,974.5 1917.4,974.4 1914.6,963.1 1914.5,962.9 1913.8,955.8 1913.8,955.8 1913.5,951.8 1913.5,951.7 1913.5,951.7 1913.5,951.7 1913.4,951.6 1913.4,951.5 1913.4,951.4 1913.0,947.5 1913.0,947.5 1913.0,947.4 1892.1,935.9 1892.0,935.9 1884.0,930.0 1884.0,930.0 1883.9,930.0 1881.5,930.0 1881.4,930.0 1881.3,930.0 1881.2,930.0 1881.1,929.9 1881.0,929.9 1871.1,924.2 1871.1,924.2 1871.0,924.2 1869.3,929.3 1869.3,929.4 1869.3,929.5 1869.2,929.6 1869.1,929.6 1869.1,929.7 1869.0,929.8 1868.9,929.8 1868.9,929.9 1868.8,929.9 1868.7,930.0 1868.6,930.0 1868.5,930.0 1868.4,930.0 1834.3,930.0 1834.3,930.0 1834.3,930.0 1832.8,948.2 1832.8,948.3 1832.7,948.4 1832.7,948.5 1832.7,948.5 1832.6,948.6 1832.6,948.7 1832.5,948.8 1832.4,948.8 1832.4,948.9 1826.5,953.3 1826.5,953.3 1826.5,953.3 1831.2,961.0 1831.2,961.1 1831.2,961.1 1839.6,967.8 1839.7,967.9 1839.8,968.0 1839.8,968.0 1839.9,968.1 1839.9,968.2 1840.0,968.3 1840.0,968.4 1840.0,968.5 1840.0,968.6 1840.0,969.2 1840.0,969.2 1840.0,969.2 1853.1,979.7 1853.2,979.7 1853.3,979.8 1853.3,979.9 1853.4,980.0 1853.4,980.1 1853.4,980.2 1853.5,980.3 1853.5,980.4 1853.5,980.5 1853.5,980.6 1853.5,980.7 1853.4,980.8 1853.4,980.9 1853.4,981.0 1853.3,981.0 1853.2,981.1 1846.8,988.5 1846.8,988.6 1846.7,988.7 1840.0,994.0 1840.0,994.0 1840.0,994.1 1840.4,995.2 1840.5,995.3 1840.5,995.4 1840.5,995.5 1840.5,995.6 1840.5,995.7 1840.5,995.8 1840.4,995.9 1840.4,996.0 1840.4,996.0 1840.3,996.1 1840.2,996.2 1839.3,997.3 1839.2,997.4 1839.1,997.5 1839.0,997.5 1838.9,997.6 1838.9,997.6 1838.8,997.7 1838.7,997.7 1838.6,997.7 1838.5,997.7 1804.8,996.8 1804.8,996.8 1804.8,996.8 1803.3,1007.4 1803.2,1007.5 1803.2,1007.6 1803.2,1007.7 1803.1,1007.8 1803.1,1007.8 1787.7,1027.8 1787.7,1027.8 1787.7,1027.8 1784.6,1038.7 1784.6,1038.7Z"/><path id="z330" d="M1786.2,1018.5 1787.7,1027.8 1787.7,1027.8 1787.7,1027.8 1803.2,1007.7 1803.2,1007.6 1803.2,1007.6 1804.7,997.7 1804.7,997.6 1804.7,997.5 1804.7,997.4 1804.8,997.3 1804.8,997.2 1804.9,997.1 1805.0,997.1 1805.0,997.0 1805.1,996.9 1805.2,996.9 1805.3,996.9 1805.4,996.8 1805.5,996.8 1805.6,996.8 1805.7,996.8 1838.9,997.7 1838.9,997.7 1839.0,997.7 1846.7,988.7 1846.8,988.6 1846.8,988.6 1855.5,981.6 1855.5,981.6 1855.5,981.6 1854.7,981.0 1854.6,980.9 1854.6,980.8 1854.5,980.8 1854.5,980.7 1854.4,980.6 1854.4,980.5 1854.4,980.4 1854.3,980.3 1854.3,980.2 1854.3,980.1 1854.4,980.0 1854.4,979.9 1854.4,979.8 1854.4,979.7 1854.5,979.7 1854.5,979.7 1831.2,961.1 1831.2,961.1 1831.2,961.0 1797.0,951.1 1797.0,951.1 1797.0,951.1 1792.4,964.1 1792.4,964.2 1792.4,964.2 1790.8,985.9 1790.8,985.9 1786.2,1018.5 1786.2,1018.5Z"/><path id="z331" d="M1986.5,1011.4 1992.6,1018.2 1992.7,1018.3 1993.9,1020.0 1993.9,1020.1 1994.0,1020.2 1994.0,1020.3 1994.0,1020.4 1994.0,1020.5 1994.1,1020.6 1994.1,1020.7 1994.0,1020.7 1994.0,1020.8 1992.7,1026.2 1992.7,1026.3 1992.7,1026.3 1993.9,1028.8 1994.0,1028.9 1994.0,1029.0 1994.0,1029.1 1994.0,1029.2 1994.0,1029.3 1994.0,1029.4 1992.2,1040.0 1992.2,1040.0 1992.2,1040.0 1996.6,1040.0 1996.7,1040.0 1996.8,1040.0 1996.9,1040.0 1997.0,1040.1 1997.1,1040.1 1997.2,1040.2 1997.2,1040.2 1997.3,1040.3 1997.4,1040.4 1997.4,1040.4 1997.5,1040.5 1997.5,1040.6 1997.6,1040.7 1997.6,1040.8 1997.6,1040.9 1997.6,1041.0 1997.6,1041.1 1997.6,1041.2 1997.6,1041.3 1997.5,1041.4 1997.5,1041.4 1991.1,1054.2 1991.1,1054.2 1991.1,1054.2 1997.3,1063.5 1997.3,1063.5 1997.3,1063.6 2005.1,1071.3 2005.1,1071.3 2005.1,1071.3 2020.0,1066.7 2020.0,1066.6 2020.0,1066.6 2020.0,1035.8 2020.0,1035.7 2020.0,1035.6 2020.0,1035.5 2020.1,1035.4 2020.1,1035.3 2020.2,1035.2 2024.8,1028.2 2024.8,1028.2 2024.8,1028.2 2023.2,1017.4 2023.2,1017.3 2023.2,1017.3 2017.8,1017.3 2017.7,1017.3 2017.6,1017.3 2017.5,1017.3 2017.4,1017.2 2017.3,1017.2 2017.3,1017.1 2017.2,1017.1 2017.1,1017.0 2010.9,1010.5 2010.9,1010.4 2010.8,1010.3 2010.8,1010.3 2010.7,1010.2 2010.7,1010.1 2007.7,997.2 2007.7,997.1 2007.7,997.2 1987.6,1011.1 1987.5,1011.1 1987.4,1011.2 1987.3,1011.2 1987.2,1011.2 1986.5,1011.4 1986.5,1011.4Z"/><path id="z332" d="M2012.4,1017.3 2022.4,1017.3 2022.5,1017.3 2022.6,1017.3 2022.6,1017.4 2022.7,1017.4 2022.8,1017.4 2022.9,1017.5 2023.0,1017.5 2023.1,1017.6 2023.1,1017.7 2023.2,1017.7 2023.2,1017.8 2023.3,1017.9 2023.3,1018.0 2023.3,1018.1 2023.4,1018.2 2023.4,1018.3 2023.4,1018.4 2023.4,1018.5 2023.4,1018.6 2023.3,1018.7 2023.3,1018.8 2023.3,1018.9 2023.2,1019.0 2023.2,1019.1 2019.9,1023.1 2019.9,1023.2 2019.9,1023.2 2022.6,1030.7 2022.7,1030.8 2022.7,1030.9 2022.7,1031.0 2022.7,1031.1 2022.7,1031.2 2022.7,1031.3 2022.7,1031.4 2022.6,1031.4 2022.6,1031.5 2022.5,1031.6 2017.0,1040.0 2017.0,1040.0 2017.0,1040.0 2021.2,1040.0 2021.3,1040.0 2021.4,1040.0 2021.5,1040.0 2021.6,1040.1 2021.7,1040.1 2021.8,1040.2 2021.9,1040.2 2022.0,1040.3 2022.0,1040.4 2022.1,1040.5 2022.1,1040.5 2022.2,1040.6 2022.2,1040.7 2022.2,1040.8 2022.2,1040.9 2022.2,1041.0 2022.2,1041.1 2019.9,1060.4 2019.9,1060.4 2019.9,1060.5 2031.0,1069.7 2031.1,1069.8 2031.1,1069.8 2055.7,1075.9 2055.8,1075.9 2055.9,1076.0 2056.0,1076.0 2056.1,1076.1 2070.7,1086.3 2070.8,1086.4 2070.8,1086.4 2070.9,1086.5 2070.9,1086.6 2071.0,1086.7 2071.0,1086.8 2071.1,1086.9 2071.1,1087.0 2071.1,1087.1 2071.1,1087.2 2071.1,1087.3 2071.1,1087.4 2071.0,1087.4 2071.0,1087.5 2071.0,1087.6 2070.4,1088.6 2074.0,1087.7 2082.3,1082.2 2082.3,1082.2 2082.3,1082.2 2069.9,1069.8 2053.6,1053.4 2053.5,1053.4 2053.4,1053.3 2053.4,1053.2 2053.4,1053.1 2053.3,1053.0 2053.3,1052.9 2053.3,1052.8 2053.3,1052.7 2053.3,1052.6 2053.3,1052.5 2053.3,1052.5 2053.4,1052.4 2053.4,1052.3 2053.4,1052.2 2053.5,1052.1 2053.6,1052.0 2053.6,1052.0 2062.1,1044.9 2062.1,1044.9 2062.1,1044.9 2063.7,1040.6 2063.7,1040.6 2063.8,1040.5 2063.9,1040.4 2063.9,1040.3 2064.0,1040.2 2064.1,1040.2 2064.2,1040.1 2064.3,1040.1 2064.3,1040.0 2064.4,1040.0 2064.5,1040.0 2064.6,1040.0 2068.2,1040.0 2068.3,1040.0 2068.3,1040.0 2077.6,1014.2 2077.6,1014.2 2077.6,1014.2 2077.1,1014.2 2077.0,1014.2 2076.9,1014.2 2076.8,1014.2 2076.7,1014.1 2076.6,1014.1 2076.5,1014.1 2076.5,1014.0 2076.4,1013.9 2076.3,1013.9 2076.3,1013.8 2076.2,1013.7 2076.2,1013.6 2076.1,1013.5 2076.1,1013.4 2076.1,1013.3 2076.1,1013.2 2076.1,1013.2 2076.1,1013.2 2062.5,1014.2 2062.4,1014.2 2037.2,1014.2 2037.2,1014.2 2012.4,1017.3 2012.4,1017.3Z"/><path id="z333" d="M1786.1,1018.5 1790.8,985.9 1792.4,964.2 1786.1,954.8 1736.5,942.4 1739.6,995.2 1750.4,996.8 1753.5,1018.5 1764.4,1020.1Z"/><path id="z334" d="M1741.1,1063.5 1742.7,1057.3 1761.3,1060.4 1764.4,1020.1 1753.5,1018.5 1750.4,996.8 1739.6,995.2 1741.7,1023.2 1677.5,1027.8 1664.8,1029.2 1682.2,1040.4 1697.6,1049.6 1713.2,1072.9 1717.6,1080.5 1729.1,1098.9 1759.8,1072.9Z"/><path id="z335" d="M1784.6,1038.7 1787.7,1027.8 1786.1,1018.5 1764.4,1020.1 1761.3,1060.4 1742.7,1057.3 1741.1,1063.5 1759.8,1072.9Z"/><path id="z336" d="M1728.9,1098.6 1729.3,1099.1 1732.9,1105.8 1761.3,1072.9 1742.7,1060.4Z"/><path id="z337" d="M1756.6,1091.5 1766.0,1099.3 1769.1,1091.5 1779.9,1091.5 1784.6,1100.8 1798.6,1099.3 1801.7,1074.4 1807.9,1069.8 1829.6,1074.4 1828.1,1051.1 1784.6,1038.7 1759.8,1072.9 1761.3,1072.9 1732.9,1105.8 1733.1,1106.1 1742.7,1099.3Z"/><path id="z338" d="M1769.1,1091.5 1766.0,1099.3 1772.2,1110.1 1783.0,1110.1 1784.6,1100.8 1779.9,1091.5Z"/><path id="z339" d="M1772.2,1110.1 1766.0,1099.3 1756.6,1091.5 1742.7,1099.3 1733.1,1106.1 1737.4,1114.1 1739.4,1114.8 1773.5,1125.9 1773.3,1127.0 1773.7,1127.2 1781.5,1127.2 1783.0,1110.1Z"/><path id="z340" d="M1768.4,1158.3 1772.2,1172.2 1775.3,1147.4 1781.5,1127.2 1773.7,1127.2Z"/><path id="z341" d="M1811.0,1113.2 1825.0,1131.9 1834.3,1159.8 1828.1,1187.8 1834.3,1200.2 1840.5,1195.5 1851.4,1200.2 1859.1,1181.6 1870.0,1178.4 1877.8,1175.3 1885.5,1166.0 1896.4,1167.6 1884.0,1153.6 1874.7,1128.8 1874.7,1110.1 1879.3,1069.8 1851.4,1085.3 1829.6,1074.4 1807.9,1069.8 1814.1,1072.9 1818.8,1088.4 1828.1,1099.3 1811.0,1107.0Z"/><path id="z342" d="M1770.6,1172.2 1775.3,1197.1 1778.4,1240.6 1778.9,1259.5 1779.2,1263.7 1783.9,1259.5 1784.3,1259.4 1784.6,1259.2 1798.6,1254.5 1792.4,1232.8 1800.1,1228.1 1811.0,1240.6 1812.5,1254.5 1840.5,1254.5 1842.0,1249.9 1834.3,1200.2 1828.1,1187.8 1834.3,1159.8 1825.0,1131.9 1811.0,1113.2 1811.0,1107.0 1828.1,1099.3 1818.8,1088.4 1814.1,1072.9 1807.9,1069.8 1801.7,1074.4 1798.6,1099.3 1784.6,1100.8 1783.0,1110.1 1781.5,1127.2 1775.3,1147.4Z"/><path id="z343" d="M1792.4,1232.8 1798.6,1254.5 1812.5,1254.5 1811.0,1240.6 1800.1,1228.1Z"/><path id="z344" d="M1874.7,1237.5 1875.6,1238.2 1877.0,1237.3 1881.7,1242.0 1881.9,1243.2 1882.4,1243.7 1883.9,1249.6 1884.1,1249.5 1885.2,1246.1 1885.3,1241.2 1888.1,1238.8 1891.7,1232.8 1897.8,1230.8 1899.3,1229.5 1893.5,1208.5 1888.8,1196.9 1889.6,1195.9 1888.6,1194.0 1891.8,1192.9 1892.3,1192.2 1900.5,1182.9 1899.5,1175.3 1900.5,1172.4 1900.5,1170.3 1896.4,1167.6 1885.5,1166.0 1877.8,1175.3 1870.0,1178.4 1859.1,1181.6 1851.4,1200.2 1840.5,1195.5 1834.3,1200.2 1842.0,1249.9 1848.8,1254.0 1853.7,1252.5 1857.9,1253.5 1862.2,1253.0 1866.9,1240.6Z"/><path id="z345" d="M1908.8,1124.1 1911.9,1122.5 1904.2,1057.3 1879.3,1069.8 1874.7,1110.1 1880.9,1114.8 1887.1,1110.1 1890.2,1117.9Z"/><path id="z346" d="M1930.6,1048.0 1905.7,1048.0 1904.2,1057.3 1911.9,1122.5 1911.9,1125.7 1947.6,1114.8 1944.5,1097.7Z"/><path id="z347" d="M1908.8,1135.0 1908.8,1124.1 1890.2,1117.9 1887.1,1110.1 1880.9,1114.8 1874.7,1110.1 1874.7,1128.8 1884.0,1153.6 1896.4,1167.6 1899.5,1166.0 1915.0,1159.8Z"/><path id="z348" d="M1955.4,1159.8 1947.6,1114.8 1911.9,1125.7 1908.8,1135.0 1915.0,1159.8 1917.6,1159.8 1921.4,1155.0 1935.4,1159.6 1936.0,1161.3 1936.8,1161.4 1946.1,1161.4Z"/><path id="z349" d="M1913.5,1186.2 1919.7,1187.1 1913.6,1164.8 1913.5,1164.5 1907.3,1166.0Z"/><path id="z350" d="M1936.8,1161.4 1940.3,1174.3 1940.3,1174.3 1946.1,1195.5 1949.2,1194.0 1950.7,1184.7 1946.1,1161.4Z"/><path id="z351" d="M1957.0,1181.6 1957.5,1182.6 1957.5,1182.6 1963.2,1194.0 1969.4,1195.5 1970.9,1187.8 1964.7,1178.4Z"/><path id="z352" d="M1981.2,1152.3 1979.4,1146.4 1970.9,1142.7 1970.9,1141.2 1970.3,1141.0 1970.9,1139.5 1970.9,1136.5 1972.2,1136.4 1972.7,1135.2 1980.4,1135.7 1988.0,1135.0 1990.0,1136.3 1991.3,1136.3 1993.3,1138.3 2003.8,1145.0 2008.8,1127.0 2013.4,1121.5 2014.4,1119.4 1988.0,1116.3 1983.4,1107.0 1984.9,1091.5 1944.5,1097.7 1947.6,1114.8 1955.4,1159.8 1956.5,1160.0 1956.4,1159.6 1971.4,1160.7 1973.1,1160.5 1980.8,1155.7Z"/><path id="z353" d="M1983.4,1107.0 1988.0,1116.3 1988.0,1116.3 1988.0,1116.3 2014.4,1119.4 2014.4,1119.4 2014.5,1119.4 2012.3,1103.7 2021.6,1101.4 2029.5,1111.4 2034.5,1115.4 2034.7,1113.2 2029.7,1098.2 2029.6,1098.1 2029.6,1098.0 2029.6,1097.9 2029.6,1097.8 2029.6,1097.7 2029.7,1097.6 2029.7,1097.5 2029.7,1097.4 2029.8,1097.4 2029.8,1097.3 2033.8,1092.0 2030.9,1080.4 2032.2,1077.8 2031.1,1069.8 2031.1,1069.8 2031.0,1069.7 2020.2,1066.7 2020.1,1066.7 2020.1,1066.7 2020.0,1066.7 2020.0,1066.6 2020.0,1066.6 2019.9,1066.6 2019.9,1066.6 2019.9,1066.7 2019.8,1066.7 2019.7,1066.7 2019.6,1066.8 2005.7,1071.1 2005.6,1071.1 2005.5,1071.2 2005.4,1071.2 2005.3,1071.2 2005.2,1071.2 2005.1,1071.1 2005.0,1071.1 2004.9,1071.1 2004.8,1071.0 2004.7,1070.9 2004.7,1070.9 1997.4,1063.6 1997.3,1063.5 1997.3,1063.5 1991.1,1054.2 1991.1,1054.2 1991.1,1054.2 1984.9,1091.5 1984.9,1091.5 1983.4,1107.0 1983.4,1107.0Z"/><path id="z354" d="M2144.4,1038.7 2146.0,1049.6 2153.7,1052.7 2158.4,1043.4 2155.3,1040.2Z"/><path id="z355" d="M2205.0,1102.4 2220.5,1099.3 2243.8,1071.3 2217.4,1065.1 2192.5,1052.7 2186.3,1049.6 2183.2,1066.6 2178.6,1080.6 2189.4,1091.5 2198.8,1105.5Z"/><path id="z356" d="M2198.8,1127.2 2220.5,1099.3 2205.0,1102.4 2198.8,1105.5 2189.4,1091.5 2178.6,1080.6 2183.2,1091.5 2172.4,1099.3 2183.2,1116.3 2186.3,1135.0Z"/><path id="z357" d="M2146.0,1153.6 2159.9,1130.3 2147.5,1127.2 2149.1,1116.3 2158.4,1108.6 2169.3,1099.3 2177.0,1088.4 2178.6,1080.6 2155.3,1071.3 2163.0,1063.5 2153.7,1052.7 2146.0,1049.6 2144.4,1043.4 2133.5,1044.9 2128.9,1057.3 2119.6,1085.3 2110.2,1119.4 2111.8,1138.1Z"/><path id="z358" d="M2111.8,1138.1 2110.2,1119.4 2090.1,1124.1 2082.3,1125.7 2079.3,1126.4 2079.8,1127.0 2076.0,1130.9 2077.1,1132.7 2078.4,1133.3 2087.0,1131.9 2093.2,1133.4Z"/><path id="z359" d="M2172.4,1099.3 2169.3,1099.3 2158.4,1108.6 2149.1,1116.3 2147.5,1127.2 2159.9,1130.3 2170.8,1125.7 2173.9,1116.3 2183.2,1116.3Z"/><path id="z360" d="M2119.6,1085.3 2099.4,1085.3 2100.9,1097.7 2093.7,1099.2 2070.5,1115.3 2080.7,1124.1 2082.3,1125.7 2090.1,1124.1 2110.2,1119.4Z"/><path id="z361" d="M2090.1,1085.3 2092.3,1095.3 2093.8,1099.1 2093.7,1099.2 2100.9,1097.7 2099.4,1085.3 2094.7,1082.2Z"/><path id="z362" d="M2062.1,1054.2 2074.5,1069.8 2085.4,1076.0 2094.7,1062.0 2079.2,1054.2Z"/><path id="z363" d="M2093.2,1133.4 2088.5,1138.1 2080.5,1142.1 2075.2,1149.7 2075.1,1150.2 2077.3,1154.7 2082.0,1164.0 2080.1,1164.7 2080.7,1166.0 2093.2,1169.1 2105.6,1139.6Z"/><path id="z364" d="M2119.6,1231.0 2135.4,1227.8 2151.2,1229.4 2152.4,1229.2 2169.3,1190.9 2152.2,1184.7 2146.0,1153.6 2111.8,1138.1 2105.6,1139.6 2093.2,1169.1 2090.1,1186.2 2105.6,1203.3 2113.4,1231.2ZM2128.0,1227.1 2140.2,1226.9 2135.4,1227.8Z"/><path id="z365" d="M2080.7,1237.5 2091.0,1235.5 2096.0,1233.9 2105.9,1232.7 2113.4,1231.2 2105.6,1203.3 2090.1,1186.2 2093.2,1169.1 2080.7,1166.0 2074.5,1175.3 2074.7,1177.9 2078.5,1187.3 2080.8,1198.9 2075.0,1208.2 2071.5,1217.5 2072.7,1226.9 2067.6,1231.1 2067.2,1232.7 2073.8,1232.7 2077.3,1239.7 2077.5,1239.6Z"/><path id="z366" d="M2201.9,1194.0 2192.5,1187.8 2201.9,1159.8 2198.8,1147.4 2205.0,1139.6 2198.8,1127.2 2186.3,1135.0 2183.2,1116.3 2173.9,1116.3 2170.8,1125.7 2159.9,1130.3 2146.0,1153.6 2152.2,1184.7 2169.3,1190.9 2152.4,1229.2 2154.4,1228.8 2186.3,1215.7Z"/><path id="z367" d="M2204.7,1190.2 2208.3,1184.0 2210.0,1183.1 2211.2,1181.6 2226.7,1159.8 2214.3,1144.3 2205.0,1139.6 2198.8,1147.4 2201.9,1159.8 2192.5,1187.8 2201.9,1194.0Z"/><path id="z368" d="M2242.2,1136.5 2248.4,1122.5 2232.9,1119.4 2240.7,1108.6 2226.7,1096.1 2220.5,1099.3 2198.8,1127.2 2205.0,1139.6 2214.3,1144.3 2226.7,1159.8 2229.8,1144.3Z"/><path id="z369" d="M2281.1,1111.7 2279.5,1103.9 2259.3,1100.8 2257.8,1091.5 2236.0,1082.2 2226.7,1096.1 2240.7,1108.6 2232.9,1119.4 2248.4,1122.5 2274.8,1116.3Z"/><path id="z370" d="M2291.9,1096.1 2310.6,1094.6 2307.5,1085.3 2279.5,1079.1 2243.8,1076.0 2237.6,1079.1 2257.8,1091.5 2259.3,1100.8 2276.4,1102.4 2278.0,1096.1Z"/><path id="z371" d="M2302.8,1076.0 2292.1,1074.8 2274.7,1073.4 2263.2,1072.5 2243.8,1071.3 2243.8,1076.0 2279.5,1079.1 2307.5,1085.3 2311.9,1083.8 2305.9,1078.5Z"/><path id="z372" d="M2288.8,1119.4 2309.0,1108.6 2310.6,1094.6 2291.9,1096.1 2278.0,1096.1 2276.4,1102.4 2279.5,1103.9 2281.1,1111.7 2274.8,1116.3Z"/><path id="z373" d="M2309.0,1108.6 2316.8,1107.0 2318.3,1094.6 2309.0,1096.1Z"/><path id="z374" d="M2287.3,1122.5 2274.8,1116.3 2248.4,1122.5 2242.2,1136.5 2248.4,1147.4 2257.8,1159.8 2262.4,1158.7 2263.0,1158.4 2263.9,1158.4 2278.0,1155.2 2279.5,1135.0Z"/><path id="z375" d="M2242.2,1136.5 2229.8,1144.3 2226.7,1159.8 2211.2,1181.6 2248.4,1172.2 2254.4,1164.2 2254.9,1163.0 2255.7,1162.6 2257.8,1159.8 2248.4,1147.4Z"/><path id="z376" d="M2318.3,1164.5 2312.1,1144.3 2319.9,1116.3 2288.8,1119.4 2287.3,1122.5 2279.5,1135.0 2278.0,1155.2 2295.0,1155.2 2298.0,1159.5 2300.3,1158.4 2313.1,1163.0 2313.2,1164.3 2313.7,1164.5Z"/><path id="z377" d="M2285.4,1165.7 2298.0,1159.5 2295.0,1155.2 2276.4,1156.7Z"/><path id="z378" d="M2357.1,1089.9 2338.5,1082.2 2333.9,1082.2 2319.9,1093.0 2318.3,1094.6 2316.8,1107.0 2309.0,1108.6 2288.8,1119.4 2319.9,1116.3 2350.9,1116.3 2369.6,1099.3Z"/><path id="z379" d="M2385.1,1082.2 2375.8,1076.0 2372.7,1063.5 2363.4,1063.5 2333.9,1082.2 2338.5,1082.2 2357.1,1089.9 2369.6,1099.3 2385.1,1091.5Z"/><path id="z380" d="M2323.0,1172.2 2341.6,1156.7 2344.7,1156.7 2344.7,1144.3 2352.5,1135.0 2347.8,1119.4 2350.9,1116.3 2319.9,1116.3 2312.1,1144.3 2318.3,1164.5 2313.7,1164.5 2315.2,1178.4 2319.9,1178.4Z"/><path id="z381" d="M2344.7,1156.7 2357.0,1150.6 2357.1,1150.5 2357.3,1150.5 2359.2,1150.0 2360.9,1149.1 2368.4,1148.0 2385.1,1144.3 2385.1,1144.3 2385.1,1144.3 2389.5,1133.1 2389.6,1133.1 2389.6,1133.0 2389.7,1132.9 2389.8,1132.8 2389.8,1132.8 2390.8,1131.9 2390.9,1131.9 2390.9,1131.8 2396.5,1119.5 2396.5,1119.5 2398.6,1115.6 2398.7,1115.6 2398.8,1115.5 2398.8,1115.4 2398.9,1115.3 2399.0,1115.3 2399.1,1115.2 2399.2,1115.2 2399.3,1115.2 2399.3,1115.1 2399.4,1115.1 2399.5,1115.1 2399.6,1115.1 2399.7,1115.2 2399.8,1115.2 2403.3,1116.3 2403.3,1116.3 2403.3,1116.3 2400.2,1100.8 2400.2,1100.8 2400.0,1099.9 2400.0,1099.8 2400.0,1099.7 2400.0,1085.3 2400.0,1085.3 2400.0,1085.3 2397.0,1082.9 2397.0,1082.9 2396.9,1082.8 2396.8,1082.7 2396.8,1082.6 2396.7,1082.5 2396.7,1082.4 2396.7,1082.3 2394.0,1068.2 2394.0,1068.2 2394.0,1068.2 2389.9,1062.8 2389.9,1062.7 2389.8,1062.6 2389.8,1062.6 2389.8,1062.5 2389.7,1062.4 2389.7,1062.3 2389.7,1062.2 2389.7,1062.1 2389.7,1062.0 2389.8,1062.0 2389.7,1062.0 2389.6,1062.0 2389.5,1062.0 2389.4,1062.0 2389.3,1062.0 2389.3,1062.0 2389.3,1062.0 2389.3,1062.0 2389.3,1062.0 2389.2,1062.0 2389.0,1062.1 2372.7,1063.5 2372.7,1063.5 2372.7,1063.6 2375.8,1075.9 2375.8,1076.0 2375.8,1076.0 2379.6,1078.5 2379.6,1078.5 2379.7,1078.6 2379.8,1078.7 2379.8,1078.8 2379.9,1078.8 2379.9,1078.9 2380.0,1079.0 2380.0,1079.1 2380.0,1079.2 2380.0,1079.3 2380.0,1093.4 2380.0,1093.5 2380.0,1093.6 2380.0,1093.7 2379.9,1093.8 2379.9,1093.9 2379.8,1094.0 2379.8,1094.1 2379.7,1094.1 2379.6,1094.2 2379.5,1094.3 2379.4,1094.3 2369.6,1099.2 2369.6,1099.3 2369.6,1099.3 2369.6,1099.3 2369.6,1099.3 2369.5,1099.3 2350.9,1116.3 2350.9,1116.3 2347.8,1119.4 2347.8,1119.4 2347.8,1119.5 2352.3,1134.5 2352.4,1134.5 2352.4,1134.6 2352.4,1134.7 2352.4,1134.8 2352.4,1134.9 2352.3,1135.0 2352.3,1135.1 2352.3,1135.2 2352.2,1135.3 2352.1,1135.4 2344.7,1144.3 2344.7,1144.3 2344.7,1144.3 2344.7,1156.7 2344.7,1156.7Z"/><path id="z382" d="M2397.5,1055.8 2371.1,1063.5 2389.8,1062.0 2389.8,1066.6 2400.0,1066.6 2400.0,1055.8Z"/><path id="z383" d="M2384.7,1144.3 2391.3,1146.5 2395.1,1147.1 2399.4,1146.0 2408.4,1143.0 2403.3,1116.4 2403.3,1116.3 2403.3,1116.3 2400.7,1115.5 2400.6,1115.4 2400.5,1115.4 2400.4,1115.3 2400.4,1115.3 2400.3,1115.2 2400.2,1115.1 2400.2,1115.1 2400.1,1115.0 2400.1,1114.9 2400.0,1114.8 2400.0,1114.7 2400.0,1114.6 2400.0,1114.5 2400.0,1113.3 2400.0,1113.2 2400.0,1113.3 2399.4,1114.3 2399.4,1114.4 2399.3,1114.4 2399.2,1114.5 2399.2,1114.6 2399.1,1114.6 2399.0,1114.7 2398.9,1114.7 2398.8,1114.7 2398.8,1114.8 2398.7,1114.8 2398.6,1114.8 2398.6,1114.8 2396.5,1119.5 2396.5,1119.5 2391.3,1128.7 2391.3,1128.8 2391.3,1128.8 2390.2,1133.1 2390.2,1133.2 2390.1,1133.3 2384.7,1144.3 2384.7,1144.3Z"/><path id="z384" d="M2406.4,1057.3 2395.5,1055.8 2393.0,1056.3 2380.0,1060.2 2380.0,1066.6 2389.3,1062.0 2392.4,1066.6 2401.7,1063.5Z"/><path id="z385" d="M2465.4,1083.7 2473.2,1077.5 2479.4,1083.7 2485.6,1082.2 2482.5,1076.0 2487.1,1066.6 2479.4,1051.1 2470.1,1034.0 2453.8,1040.6 2444.7,1044.3 2443.8,1044.5 2439.0,1046.5 2406.4,1057.3 2401.7,1063.5 2394.0,1068.2 2400.2,1100.8 2423.5,1091.5 2426.6,1085.3 2449.9,1088.4Z"/><path id="z386" d="M2457.6,1125.7 2460.1,1131.9 2465.4,1107.0 2473.2,1108.6 2487.1,1097.7 2490.2,1088.4 2485.6,1082.2 2479.4,1083.7 2473.2,1077.5 2465.4,1083.7 2449.9,1088.4 2426.6,1085.3 2423.5,1091.5 2400.2,1100.8 2403.3,1116.3 2408.4,1143.0 2409.8,1142.5 2415.0,1140.8 2421.0,1138.1 2421.9,1124.1Z"/><path id="z387" d="M2408.5,1143.0 2409.8,1142.5 2415.0,1140.8 2421.0,1138.1 2421.0,1123.2 2404.8,1121.9Z"/><path id="z388" d="M2421.9,1124.1 2421.0,1138.1 2442.1,1136.5 2460.1,1131.9 2457.6,1125.7Z"/><path id="z389" d="M2473.2,1108.6 2465.4,1107.0 2460.1,1131.9 2476.3,1130.3 2474.7,1124.1 2479.4,1117.9Z"/><path id="z390" d="M2510.4,1147.4 2518.2,1131.9 2521.3,1113.2 2516.6,1110.1 2522.9,1103.9 2522.9,1088.4 2490.2,1088.4 2487.1,1097.7 2473.2,1108.6 2479.4,1117.9 2474.7,1124.1 2476.3,1130.3 2489.2,1139.5 2498.3,1145.6 2498.6,1145.9Z"/><path id="z391" d="M2513.5,1099.3 2491.8,1097.7 2493.4,1105.5 2499.6,1108.6 2508.9,1113.2 2516.6,1107.0Z"/><path id="z392" d="M2521.3,1113.2 2527.5,1113.2 2522.9,1103.9 2516.6,1103.9Z"/><path id="z393" d="M2490.2,1088.4 2522.9,1088.4 2522.9,1085.3 2513.5,1076.0 2510.4,1060.4 2516.6,1054.2 2516.6,1048.0 2524.4,1029.5 2524.4,1029.3 2521.3,1023.2 2522.9,1015.4 2507.3,1012.3 2496.5,1029.4 2480.9,1021.6 2480.8,1021.7 2480.8,1022.1 2470.3,1033.8 2470.3,1033.8 2470.1,1034.0 2479.4,1051.1 2487.1,1066.6 2482.5,1076.0 2485.6,1082.2Z"/><path id="z394" d="M2528.4,1088.4 2524.4,1032.5 2516.6,1054.2 2510.4,1060.4 2513.5,1076.0 2522.9,1085.3 2522.9,1088.4Z"/><path id="z395" d="M2522.9,1015.4 2518.2,982.8 2512.0,957.3 2481.4,957.9 2479.7,959.6 2479.8,962.8 2482.5,992.1 2482.0,1001.5 2482.0,1006.2 2481.9,1003.8 2480.9,1021.6 2496.5,1029.4 2507.3,1012.3Z"/><path id="z396" d="M2481.4,958.0 2481.5,958.0 2481.5,958.0 2481.6,958.1 2481.7,958.1 2481.8,958.2 2481.8,958.2 2481.9,958.3 2482.0,958.4 2482.0,958.4 2482.0,958.5 2482.0,958.5 2510.1,957.4 2510.1,957.4 2512.0,957.3 2512.0,957.3 2512.0,957.3 2511.9,957.1 2511.8,957.0 2511.8,956.9 2511.8,956.8 2511.7,956.7 2511.3,952.6 2510.5,950.0 2505.5,946.9 2505.4,946.9 2505.3,946.8 2505.3,946.8 2505.2,946.7 2505.2,946.6 2498.3,936.3 2493.6,929.4 2493.6,929.3 2493.6,929.4 2484.3,934.0 2484.3,934.0 2484.3,934.0 2483.3,940.0 2483.3,940.1 2483.3,940.2 2483.2,940.3 2483.2,940.4 2483.1,940.5 2483.1,940.6 2483.0,940.6 2480.9,942.4 2480.9,942.4 2480.9,942.4 2480.4,947.5 2482.0,948.0 2482.0,957.3 2481.3,957.9Z"/><path id="z397" d="M2493.6,929.4 2497.8,935.7 2497.9,935.7 2497.9,935.8 2498.0,935.9 2498.0,936.0 2498.0,936.1 2498.0,936.2 2498.0,945.5 2498.0,945.5 2498.0,945.5 2508.6,951.6 2508.7,951.6 2508.8,951.7 2508.9,951.8 2508.9,951.8 2509.0,951.9 2509.0,952.0 2512.0,957.3 2512.0,957.3 2512.0,957.3 2510.6,951.4 2510.6,951.3 2510.6,951.2 2510.6,951.1 2510.6,951.0 2510.7,950.9 2510.7,950.8 2510.7,950.7 2510.7,950.7 2506.4,936.3 2504.0,929.4 2504.0,929.3 2498.3,913.1 2498.3,913.1 2498.3,913.1 2500.5,921.8 2500.5,921.9 2500.5,922.0 2500.5,922.1 2500.5,922.2 2500.5,922.3 2500.4,922.4 2500.4,922.5 2500.4,922.6 2500.3,922.7 2500.2,922.8 2493.7,929.3 2493.6,929.3Z"/><path id="z398" d="M2480.8,947.6 2482.0,948.0 2482.0,948.0 2482.0,948.0 2484.2,934.5 2484.3,934.4 2484.3,934.3 2484.3,934.2 2484.4,934.2 2484.4,934.1 2484.5,934.0 2484.5,933.9 2484.6,933.9 2484.7,933.8 2484.8,933.8 2493.6,929.4 2493.6,929.3 2493.6,929.3 2491.3,925.9 2491.3,925.9 2491.3,925.9 2477.4,930.5 2477.3,930.5 2477.3,930.5 2474.5,933.8 2475.0,934.0 2472.7,938.7 2471.5,944.5 2480.7,947.6Z"/><path id="z399" d="M2483.1,1238.1 2491.8,1221.9 2495.6,1210.5 2496.1,1209.1 2496.1,1209.1 2501.1,1194.0 2505.8,1169.1 2515.1,1153.6 2522.9,1128.8 2528.4,1113.2 2518.2,1131.9 2510.4,1147.4 2499.6,1147.4 2492.0,1171.5 2492.0,1171.5 2491.8,1172.2 2484.0,1206.4 2473.2,1230.6 2474.7,1237.5Z"/><path id="z400" d="M2365.5,824.5 2367.9,819.9 2372.5,811.7 2379.5,807.1 2391.1,804.0 2395.8,804.7 2391.1,791.5 2370.2,786.6 2358.5,786.6 2346.9,789.1 2338.7,794.3 2334.1,801.7 2336.4,804.7 2344.6,810.6 2351.6,819.9 2351.6,819.9 2358.5,828.0Z"/><path id="z401" d="M2377.2,831.5 2371.4,833.9 2366.7,835.0 2364.4,838.5 2371.4,839.7 2378.3,835.0 2383.0,826.9 2377.2,831.5Z"/><path id="z402" d="M2371.4,830.4 2365.5,824.5 2358.5,828.0 2364.4,838.5 2364.4,838.5 2364.4,838.5 2366.7,835.0 2371.4,833.9 2373.7,832.7Z"/><path id="z403" d="M2438.2,890.9 2487.8,885.1 2477.3,861.8 2463.4,837.3 2451.7,822.2 2435.4,809.4 2412.1,797.7 2391.1,791.5 2395.8,804.7 2395.8,804.7 2395.8,804.7 2409.8,812.9 2421.4,823.4 2430.7,836.2 2435.4,852.5 2437.7,871.1 2438.2,889.8 2438.2,890.4Z"/><path id="z404" d="M2444.7,927.0 2449.4,922.4 2451.7,917.7 2463.4,915.4 2468.0,916.5 2468.0,916.5 2468.0,916.5 2465.7,922.4 2470.3,931.7 2475.0,934.0 2482.0,927.0 2491.3,925.9 2500.6,922.4 2498.3,913.0 2487.8,885.1 2438.2,890.9 2437.7,913.0 2441.2,943.3 2441.2,943.3 2441.2,943.3 2442.4,953.8 2444.3,945.7Z"/><path id="z405" d="M2436.3,941.5 2439.1,942.4 2439.1,942.3 2438.2,903.7 2437.9,903.7 2436.1,903.7Z"/><path id="z406" d="M1773.2,520.0 1776.0,529.3 1776.0,529.3 1776.0,529.3 1782.8,531.0 1782.9,531.1 1783.0,531.1 1783.1,531.1 1783.2,531.2 1783.3,531.3 1783.3,531.3 1783.4,531.4 1783.4,531.5 1783.5,531.6 1783.5,531.7 1783.6,531.8 1784.3,534.9 1784.3,534.9 1784.4,534.9 1791.1,533.2 1791.2,533.2 1791.3,533.2 1791.4,533.2 1791.5,533.2 1791.6,533.2 1791.7,533.2 1791.8,533.3 1791.9,533.3 1792.0,533.4 1792.1,533.4 1792.1,533.5 1792.2,533.6 1796.4,539.5 1796.5,539.6 1796.5,539.6 1800.2,537.7 1800.2,537.7 1800.2,537.7 1805.8,530.3 1805.8,530.2 1805.8,530.2 1800.9,521.2 1800.8,521.2 1800.8,521.1 1800.8,521.0 1800.7,520.9 1800.7,520.8 1800.7,520.7 1800.8,520.6 1800.8,520.5 1800.8,520.4 1800.9,520.3 1800.9,520.2 1801.0,520.1 1801.0,520.1 1801.1,520.0 1801.2,519.9 1801.3,519.9 1801.3,519.8 1806.0,517.9 1806.0,517.9 1806.0,517.8 1804.4,513.2 1804.4,513.2 1804.4,513.2 1794.4,501.6 1794.3,501.6 1794.3,501.6 1789.9,506.7 1789.8,506.8 1789.7,506.9 1789.7,506.9 1789.6,507.0 1789.5,507.0 1789.4,507.1 1777.3,510.1 1777.3,510.1 1777.3,510.1 1774.5,519.3 1774.5,519.4 1774.4,519.5 1774.4,519.6 1774.3,519.6 1774.3,519.7 1774.2,519.8 1774.1,519.8 1774.0,519.9 1773.9,519.9 1773.8,520.0 1773.7,520.0 1773.6,520.0 1773.6,520.0 1773.2,520.0 1773.2,520.0Z"/><path id="z407" d="M1825.4,514.0 1817.6,510.9 1809.9,513.2 1804.4,513.2 1806.0,517.9 1809.0,520.0 1827.3,520.0 1828.5,518.6Z"/><path id="z408" d="M1827.3,520.0 1829.4,520.0 1828.5,518.6Z"/><path id="z409" d="M1825.4,520.0 1838.4,534.9 1838.4,534.9 1839.3,535.8 1839.3,535.8 1839.3,535.8 1843.0,534.9 1843.0,534.9 1843.0,534.9 1845.7,525.1 1845.7,525.0 1845.8,524.9 1845.8,524.9 1845.9,524.8 1846.0,524.7 1846.0,524.6 1846.1,524.6 1846.2,524.5 1846.3,524.5 1856.8,520.1 1856.9,520.0 1857.0,520.0 1857.1,520.0 1857.2,520.0 1860.1,520.0 1860.1,520.0 1860.1,520.0 1861.0,515.9 1861.1,515.8 1861.1,515.7 1861.1,515.6 1861.2,515.5 1861.2,515.4 1861.3,515.4 1861.4,515.3 1865.8,511.7 1865.8,511.6 1865.8,511.6 1852.8,501.7 1852.7,501.6 1852.6,501.6 1852.6,501.5 1852.5,501.4 1852.5,501.3 1851.8,500.0 1851.8,500.0 1851.8,500.0 1844.1,513.9 1844.0,514.0 1839.8,519.6 1839.8,519.7 1839.7,519.8 1839.6,519.8 1839.5,519.9 1839.4,519.9 1839.3,520.0 1839.2,520.0 1839.1,520.0 1839.0,520.0 1825.4,520.0 1825.3,520.0Z"/><path id="z410" d="M1843.1,534.9 1846.8,541.4 1846.8,541.4 1846.8,541.4 1853.6,543.1 1853.7,543.2 1853.8,543.2 1853.9,543.3 1854.0,543.3 1854.1,543.4 1854.1,543.4 1854.2,543.5 1854.3,543.6 1854.3,543.7 1854.3,543.8 1854.4,543.9 1855.1,547.0 1855.2,547.0 1855.2,547.0 1864.9,550.6 1865.0,550.6 1865.1,550.7 1865.2,550.7 1865.3,550.8 1865.4,550.9 1865.4,550.9 1865.5,551.0 1865.5,551.1 1865.6,551.2 1867.1,555.9 1867.4,555.1 1868.1,549.8 1868.1,549.7 1868.1,549.7 1868.2,549.6 1868.2,549.5 1868.2,549.4 1868.3,549.3 1868.4,549.3 1868.4,549.2 1868.5,549.1 1868.6,549.1 1868.7,549.0 1868.8,549.0 1868.9,549.0 1869.0,549.0 1869.1,549.0 1869.2,549.0 1878.4,549.8 1878.4,549.8 1878.5,549.8 1879.4,546.1 1879.4,546.1 1879.4,546.1 1873.2,544.3 1873.1,544.3 1873.1,544.3 1873.0,544.2 1872.9,544.2 1872.8,544.1 1872.8,544.0 1872.7,544.0 1872.7,543.9 1870.4,540.1 1870.4,540.0 1870.3,540.0 1870.3,539.9 1870.3,539.8 1870.3,539.7 1870.3,539.6 1870.3,539.5 1870.3,539.4 1870.3,539.3 1870.3,539.2 1870.4,539.1 1870.4,539.0 1874.7,533.1 1874.7,533.0 1874.7,533.0 1878.2,520.7 1878.3,520.6 1878.3,520.5 1878.4,520.5 1878.4,520.4 1878.5,520.3 1878.5,520.2 1878.6,520.2 1878.7,520.1 1878.8,520.1 1878.9,520.1 1879.0,520.0 1879.1,520.0 1879.2,520.0 1879.2,520.0 1879.2,520.0 1878.2,517.1 1878.2,517.1 1878.2,517.1 1872.1,515.6 1872.0,515.5 1871.9,515.5 1871.9,515.4 1865.8,511.7 1865.8,511.6 1865.8,511.7 1861.1,515.5 1861.1,515.5 1861.1,515.6 1860.3,519.2 1860.3,519.3 1860.2,519.4 1860.2,519.5 1860.1,519.6 1860.1,519.6 1860.0,519.7 1859.9,519.8 1859.9,519.8 1859.8,519.9 1859.7,519.9 1859.6,520.0 1859.5,520.0 1859.4,520.0 1859.3,520.0 1857.0,520.0 1857.0,520.0 1857.0,520.0 1845.9,524.6 1845.8,524.7 1845.8,524.7 1843.0,534.9 1843.0,534.9Z"/><path id="z411" d="M1762.9,550.8 1765.7,557.2 1765.7,557.3 1765.7,557.3 1774.1,565.6 1774.1,565.7 1774.1,565.6 1785.3,559.1 1785.3,559.1 1795.0,552.1 1795.1,552.0 1795.2,552.0 1795.3,551.9 1795.3,551.9 1795.4,551.9 1795.5,551.9 1795.6,551.9 1795.7,551.9 1795.8,551.9 1795.9,551.9 1796.0,552.0 1796.1,552.0 1804.1,556.8 1804.1,556.8 1804.2,556.9 1804.3,557.0 1804.3,557.1 1804.4,557.1 1804.4,557.2 1804.5,557.3 1804.5,557.4 1804.5,557.5 1804.5,557.6 1804.5,557.7 1804.5,557.8 1804.5,557.9 1804.5,558.0 1804.4,558.1 1801.1,564.7 1801.1,564.7 1801.1,564.7 1803.0,568.4 1803.0,568.4 1803.0,568.5 1807.4,572.0 1807.4,572.0 1807.5,572.1 1807.6,572.2 1807.6,572.2 1807.7,572.3 1807.7,572.4 1807.7,572.5 1809.4,579.3 1809.4,579.4 1809.5,579.5 1809.5,579.6 1809.4,579.7 1809.4,579.8 1809.4,579.9 1804.9,591.7 1804.8,591.7 1804.9,591.8 1808.6,600.1 1808.6,600.1 1808.6,600.1 1825.3,596.4 1825.3,596.4 1825.3,596.4 1826.2,591.1 1826.3,591.0 1826.3,590.9 1826.3,590.8 1826.4,590.7 1826.4,590.6 1830.3,586.0 1830.4,585.9 1830.4,585.8 1830.5,585.8 1830.6,585.7 1830.7,585.7 1830.8,585.7 1830.9,585.6 1831.0,585.6 1831.1,585.6 1831.2,585.6 1831.3,585.6 1831.4,585.7 1831.4,585.7 1831.5,585.7 1831.6,585.8 1831.7,585.8 1840.2,592.7 1840.2,592.7 1840.3,592.7 1849.5,584.3 1849.6,584.3 1849.6,584.3 1844.5,573.3 1844.5,573.2 1844.4,573.1 1844.4,573.0 1844.4,572.9 1844.4,572.8 1844.4,572.7 1844.4,572.6 1844.5,572.5 1844.5,572.4 1844.6,572.4 1844.6,572.3 1844.7,572.2 1844.8,572.1 1844.8,572.1 1844.9,572.0 1845.0,572.0 1845.1,571.9 1845.2,571.9 1861.7,568.5 1861.7,568.4 1861.7,568.4 1865.4,561.0 1865.4,561.0 1865.4,561.0 1840.7,548.2 1840.6,548.1 1840.5,548.1 1840.5,548.0 1840.4,548.0 1840.4,547.9 1840.3,547.8 1840.3,547.7 1840.2,547.6 1840.2,547.5 1840.2,547.4 1838.4,534.9 1838.4,534.9 1838.4,534.9 1825.4,520.0 1825.3,520.0 1825.3,520.0 1809.3,520.0 1809.2,520.0 1809.1,520.0 1809.0,520.0 1808.9,519.9 1808.8,519.9 1808.7,519.8 1806.0,517.9 1806.0,517.9 1806.0,517.9 1801.2,519.9 1801.1,520.0 1801.0,520.0 1800.9,520.0 1800.8,520.0 1800.2,520.0 1800.2,520.0 1800.2,520.0 1805.5,529.7 1805.5,529.8 1805.5,529.9 1805.6,530.0 1805.6,530.0 1805.6,530.1 1805.6,530.2 1805.6,530.3 1805.6,530.4 1805.5,530.5 1805.5,530.6 1805.4,530.7 1805.4,530.8 1800.3,537.5 1800.3,537.6 1800.2,537.7 1800.1,537.7 1800.1,537.8 1800.0,537.8 1797.2,539.2 1797.1,539.2 1797.0,539.3 1796.9,539.3 1796.8,539.3 1796.7,539.3 1796.6,539.3 1796.5,539.3 1796.4,539.2 1796.3,539.2 1796.3,539.1 1796.2,539.1 1796.1,539.0 1796.0,538.9 1796.0,538.9 1791.8,533.1 1791.8,533.0 1791.8,533.0 1784.4,534.9 1784.3,534.9 1784.3,534.9 1778.9,540.3 1778.9,540.4 1778.8,540.4 1778.7,540.5 1778.6,540.5 1778.5,540.6 1769.5,543.3 1769.4,543.3 1764.8,545.1 1764.8,545.2 1764.8,545.2 1762.9,550.7 1762.9,550.7Z"/><path id="z412" d="M1852.7,746.1 1878.3,733.1 1881.6,705.6 1853.2,704.7 1848.0,720.1 1849.9,734.0 1849.4,740.6Z"/><path id="z413" d="M1852.7,746.1 1849.4,740.6 1849.9,734.0 1842.0,730.8 1831.7,717.3 1825.2,708.0 1829.4,722.9 1822.4,735.0 1828.5,758.3Z"/><path id="z414" d="M1779.6,773.2 1780.0,782.5 1828.5,758.3 1822.4,735.0 1829.4,722.9 1831.7,717.3 1825.2,708.0 1807.5,721.0 1786.1,726.6 1783.3,724.7 1777.7,728.4 1774.0,729.4 1774.9,735.9 1779.6,741.5 1784.2,754.5Z"/><path id="z415" d="M1935.6,774.1 1935.2,750.8 1929.6,721.0 1938.4,718.7 1936.1,705.2 1913.7,714.5 1904.4,721.9 1909.1,749.9 1917.5,762.9 1925.8,775.0Z"/><path id="z416" d="M1958.4,768.5 1963.1,769.4 1974.3,764.3 1983.6,765.7 1987.3,753.6 1985.5,745.2 1979.9,737.8 1970.6,735.0 1962.2,716.3 1938.4,718.7 1929.6,721.0 1935.2,750.8 1935.6,774.1 1948.2,774.1Z"/><path id="z417" d="M1880.2,754.5 1882.0,772.7 1917.5,762.9 1909.1,749.9 1904.4,721.9 1878.3,733.1 1852.7,746.1 1865.3,740.6 1867.1,752.7 1879.3,751.7Z"/><path id="z418" d="M1850.8,748.5 1855.0,760.9 1855.0,761.0 1855.0,761.1 1855.0,761.2 1856.0,789.9 1856.0,789.9 1856.0,790.0 1861.5,800.0 1861.6,800.0 1861.6,800.0 1861.6,800.0 1861.7,800.0 1861.8,800.0 1861.8,800.0 1861.9,800.1 1862.0,800.1 1862.1,800.2 1862.2,800.2 1862.3,800.3 1862.3,800.4 1862.4,800.4 1862.4,800.5 1866.2,807.7 1866.2,807.7 1866.2,807.7 1872.7,807.2 1872.7,807.2 1872.7,807.2 1872.1,800.0 1872.1,800.0 1872.1,799.9 1872.1,799.8 1872.1,799.7 1872.2,799.6 1872.2,799.5 1872.2,799.5 1872.3,799.4 1872.3,799.3 1880.6,787.6 1880.7,787.6 1880.7,787.6 1882.0,772.7 1882.0,772.7 1882.0,772.7 1880.2,754.6 1880.2,754.5 1880.2,754.5 1879.3,751.8 1879.3,751.7 1879.2,751.7 1868.1,752.6 1868.0,752.6 1867.9,752.6 1867.8,752.6 1867.7,752.6 1867.6,752.5 1867.5,752.5 1867.4,752.4 1867.3,752.4 1867.3,752.3 1867.2,752.2 1867.1,752.1 1867.1,752.0 1867.1,751.9 1867.0,751.9 1867.0,751.8 1865.3,740.6 1865.3,740.6 1865.3,740.6 1852.7,746.1 1852.7,746.1 1852.7,746.2 1850.9,748.5 1850.8,748.5Z"/><path id="z419" d="M1816.4,765.3 1821.3,798.9 1821.3,799.0 1821.3,799.1 1821.3,799.2 1821.3,799.3 1821.3,799.4 1821.2,799.4 1821.2,799.5 1821.1,799.6 1821.1,799.7 1821.0,799.8 1820.9,799.8 1820.8,799.9 1820.7,799.9 1820.6,800.0 1820.5,800.0 1820.4,800.0 1820.3,800.0 1820.1,800.0 1820.1,800.0 1820.1,800.0 1821.9,803.0 1822.0,803.0 1822.0,803.0 1848.0,800.0 1848.1,800.0 1849.0,800.0 1849.1,800.0 1849.2,800.0 1849.3,800.0 1849.4,800.1 1849.5,800.1 1849.6,800.2 1849.7,800.2 1849.7,800.3 1849.8,800.4 1849.8,800.4 1849.9,800.5 1849.9,800.6 1850.0,800.7 1850.0,800.8 1850.0,800.9 1850.8,810.0 1850.8,810.0 1850.9,810.0 1866.2,807.7 1866.2,807.7 1866.2,807.7 1862.2,800.0 1862.2,800.0 1862.1,800.0 1862.1,800.0 1862.0,800.0 1861.9,800.0 1861.9,800.0 1861.8,799.9 1861.7,799.9 1861.6,799.8 1861.5,799.8 1861.4,799.7 1861.4,799.6 1861.3,799.6 1861.3,799.5 1856.1,790.1 1856.0,790.1 1856.0,790.0 1856.0,789.9 1856.0,789.8 1856.0,789.7 1855.0,761.1 1855.0,761.1 1855.0,761.0 1850.8,748.5 1850.8,748.5 1850.8,748.5 1828.5,758.2 1828.5,758.3 1816.4,765.2 1816.4,765.2Z"/><path id="z420" d="M1760.0,791.8 1760.0,800.0 1760.0,800.0 1760.0,800.0 1761.5,800.0 1761.6,800.0 1761.7,800.0 1761.8,800.0 1761.9,800.1 1761.9,800.1 1762.0,800.2 1762.1,800.2 1762.2,800.3 1762.3,800.4 1762.3,800.5 1762.4,800.5 1762.4,800.6 1762.4,800.7 1762.5,800.8 1762.5,800.9 1763.7,817.9 1763.7,817.9 1763.8,817.9 1776.9,817.1 1777.0,817.1 1777.1,817.1 1777.2,817.1 1777.3,817.1 1777.4,817.2 1777.5,817.2 1777.6,817.3 1777.7,817.3 1777.7,817.4 1777.8,817.5 1777.9,817.6 1777.9,817.7 1777.9,817.8 1779.6,822.6 1779.6,822.6 1779.6,822.6 1790.4,826.2 1790.5,826.3 1790.6,826.3 1790.7,826.4 1790.7,826.4 1790.8,826.5 1790.9,826.6 1790.9,826.7 1796.3,835.6 1796.3,835.7 1796.4,835.6 1804.7,827.3 1804.7,827.3 1804.7,827.3 1795.6,820.9 1795.5,820.8 1795.4,820.7 1795.4,820.7 1795.3,820.6 1791.0,813.6 1790.9,813.6 1790.9,813.5 1790.8,813.4 1790.8,813.3 1790.8,813.2 1790.8,813.1 1790.8,813.0 1790.8,812.9 1792.2,806.9 1792.2,806.8 1792.2,806.7 1792.3,806.6 1792.3,806.5 1792.4,806.5 1792.4,806.4 1792.5,806.3 1792.6,806.3 1792.7,806.2 1792.8,806.2 1792.9,806.2 1793.0,806.1 1793.1,806.1 1793.1,806.1 1793.2,806.1 1793.3,806.1 1793.4,806.2 1793.5,806.2 1793.6,806.2 1793.7,806.3 1793.8,806.3 1793.8,806.4 1793.9,806.5 1797.3,810.5 1797.3,810.5 1797.3,810.5 1806.6,804.0 1806.6,804.0 1806.6,804.0 1808.5,800.5 1808.5,800.4 1808.6,800.4 1808.6,800.3 1808.7,800.2 1808.8,800.2 1808.9,800.1 1809.0,800.1 1809.1,800.0 1809.2,800.0 1809.2,800.0 1809.3,800.0 1821.5,800.0 1821.5,800.0 1821.5,800.0 1816.4,765.3 1816.4,765.3 1816.3,765.3 1780.0,782.5 1780.0,782.5 1760.0,791.8 1760.0,791.8Z"/><path id="z421" d="M1812.2,789.0 1816.8,797.4 1820.6,798.3 1818.7,788.1Z"/><path id="z422" d="M1882.0,772.7 1880.7,787.6 1882.0,787.6 1897.0,795.5 1909.1,791.3 1918.4,792.7 1922.1,800.0 1923.0,800.0 1919.3,776.9 1925.8,775.0 1917.5,762.9Z"/><path id="z423" d="M1871.8,800.0 1871.9,800.1 1871.9,800.1 1872.0,800.2 1872.0,800.3 1872.1,800.4 1872.1,800.4 1872.2,800.5 1872.2,800.6 1872.2,800.7 1872.7,807.2 1872.7,807.2 1876.9,839.8 1876.9,839.8 1876.9,839.8 1887.2,838.5 1887.3,838.5 1887.4,838.5 1887.5,838.5 1887.6,838.5 1887.7,838.6 1887.8,838.6 1887.9,838.6 1888.0,838.7 1891.3,841.2 1891.4,841.2 1891.4,841.2 1912.2,840.3 1912.3,840.3 1912.4,840.3 1912.5,840.4 1912.6,840.4 1912.7,840.4 1912.8,840.5 1912.8,840.5 1912.9,840.6 1913.0,840.7 1913.0,840.7 1913.1,840.8 1918.4,849.6 1918.4,849.6 1918.4,849.6 1926.7,850.6 1926.8,850.6 1926.8,850.5 1928.6,826.4 1928.6,826.3 1928.6,826.3 1923.4,800.0 1923.4,800.0 1923.3,800.0 1922.7,800.0 1922.6,800.0 1922.5,800.0 1922.4,800.0 1922.3,799.9 1922.2,799.9 1922.2,799.8 1922.1,799.8 1922.0,799.7 1921.9,799.6 1921.9,799.5 1921.8,799.5 1918.4,792.8 1918.4,792.7 1918.4,792.7 1909.1,791.3 1909.1,791.3 1909.0,791.3 1897.4,795.4 1897.3,795.4 1897.2,795.4 1897.1,795.4 1897.0,795.4 1896.9,795.4 1896.8,795.4 1896.7,795.4 1896.6,795.3 1882.1,787.6 1882.0,787.6 1882.0,787.6 1880.7,787.6 1880.7,787.6 1880.6,787.6 1871.8,800.0 1871.8,800.0Z"/><path id="z424" d="M1919.3,776.9 1923.0,800.0 1923.0,800.0 1923.0,800.0 1923.1,800.1 1923.2,800.1 1923.3,800.2 1923.3,800.3 1923.4,800.4 1923.4,800.5 1923.5,800.6 1923.5,800.7 1928.6,826.3 1928.6,826.3 1928.7,826.3 1930.2,826.0 1930.3,825.9 1930.4,825.9 1930.4,825.9 1930.5,825.9 1930.6,825.9 1930.7,826.0 1930.8,826.0 1951.4,834.7 1951.5,834.7 1951.5,834.7 1967.7,831.0 1967.8,831.0 1967.8,831.0 1962.2,813.4 1962.2,813.3 1962.2,813.2 1961.3,805.3 1961.3,805.2 1961.3,805.1 1961.3,805.0 1961.3,804.9 1961.4,804.8 1961.4,804.7 1961.5,804.7 1961.5,804.6 1965.1,800.3 1965.2,800.3 1965.3,800.2 1965.4,800.2 1965.5,800.1 1965.6,800.1 1965.7,800.0 1965.8,800.0 1965.9,800.0 1965.9,800.0 1965.9,800.0 1963.1,769.5 1963.1,769.4 1963.1,769.4 1958.5,768.5 1958.4,768.5 1958.4,768.5 1948.4,774.0 1948.3,774.0 1948.2,774.1 1948.1,774.1 1948.0,774.1 1947.9,774.1 1935.6,774.1 1935.6,774.1 1925.9,775.0 1925.8,775.0 1925.8,775.0 1919.3,776.9 1919.3,776.9Z"/><path id="z425" d="M1812.9,800.0 1813.1,802.1 1818.0,800.0Z"/><path id="z426" d="M1792.6,804.9 1790.7,813.3 1795.4,820.7 1804.7,827.3 1796.3,835.7 1790.7,826.3 1779.6,822.6 1777.7,817.0 1763.7,818.0 1766.5,843.1 1801.0,850.6 1815.0,853.4 1813.6,841.7 1828.5,848.2 1822.0,803.0 1820.1,800.0 1818.0,800.0 1813.1,802.1 1812.9,800.0 1808.8,800.0 1806.6,804.0 1797.3,810.5Z"/><path id="z427" d="M1830.3,858.9 1876.9,839.8 1872.7,807.2 1850.8,810.0 1849.9,800.0 1848.0,800.0 1822.0,803.0 1828.5,848.2Z"/><path id="z428" d="M1863.4,903.2 1873.7,898.5 1881.1,898.5 1897.0,902.7 1900.7,897.1 1905.3,881.3 1921.2,874.8 1918.4,863.6 1925.8,859.9 1926.8,850.6 1918.4,849.6 1912.8,840.3 1891.4,841.2 1887.6,838.4 1876.9,839.8 1830.3,858.9 1832.7,876.2 1856.9,896.2Z"/><path id="z429" d="M1886.2,860.3 1891.4,855.2 1890.4,852.4 1879.3,856.1 1879.7,858.5 1883.9,857.5Z"/><path id="z430" d="M1918.4,863.6 1921.2,874.8 1921.2,875.7 1944.5,890.6 1973.4,861.7 1977.1,852.4 1984.5,837.5 1979.9,829.1 1967.8,831.0 1951.5,834.7 1930.5,825.9 1928.6,826.3 1926.8,850.6 1925.8,859.9Z"/><path id="z431" d="M1737.8,537.7 1748.0,536.3 1751.7,538.6 1762.0,541.4 1769.4,543.3 1778.8,540.5 1784.3,534.9 1783.4,531.2 1761.1,528.4 1752.7,522.8 1750.8,520.0 1749.9,521.9Z"/><path id="z432" d="M1724.7,565.7 1735.9,561.0 1751.7,555.9 1760.1,559.1 1765.7,557.3 1762.9,550.7 1764.8,545.2 1762.0,541.4 1751.7,538.6 1748.0,536.3 1737.8,537.7 1710.7,546.1 1708.9,556.3 1712.6,561.0Z"/><path id="z433" d="M1721.0,570.3 1724.7,565.7 1712.6,561.0 1711.7,560.1 1703.3,566.6 1710.7,570.8Z"/><path id="z434" d="M1728.4,578.7 1735.0,575.9 1735.9,568.4 1739.6,565.7 1745.2,568.4 1748.9,578.7 1744.3,588.9 1741.5,594.5 1747.1,602.9 1752.7,605.7 1764.8,591.7 1762.0,583.4 1758.3,576.8 1761.1,572.2 1759.2,565.7 1760.1,559.1 1751.7,555.9 1735.9,561.0 1724.7,565.7 1721.0,570.3 1715.4,570.3 1717.3,575.0Z"/><path id="z435" d="M1715.4,588.9 1717.3,601.1 1724.7,603.9 1732.2,601.1 1741.5,594.5 1744.3,588.9 1748.9,578.7 1745.2,568.4 1739.6,565.7 1735.9,568.4 1735.0,575.9 1728.4,578.7Z"/><path id="z436" d="M1707.0,595.5 1708.0,592.2 1698.6,591.7 1701.4,595.9Z"/><path id="z437" d="M1692.1,621.6 1701.4,625.3 1710.7,629.0 1725.7,626.2 1751.7,608.5 1752.7,605.7 1747.1,602.9 1741.5,594.5 1732.2,601.1 1724.7,603.9 1717.3,601.1 1715.4,588.9 1708.9,593.6 1684.7,612.2 1683.7,617.8Z"/><path id="z438" d="M1761.1,572.2 1758.3,576.8 1762.0,583.4 1764.8,591.7 1771.3,597.3 1782.5,596.4 1785.3,594.5 1779.7,588.9 1783.4,579.6 1782.5,572.2 1776.9,567.5 1774.1,565.7 1765.7,557.3 1760.1,559.1 1759.2,565.7Z"/><path id="z439" d="M1797.4,540.0 1798.3,536.8 1790.9,534.0 1791.8,538.2Z"/><path id="z440" d="M1801.1,564.7 1804.8,557.3 1795.5,551.7 1785.3,559.1 1787.1,561.9Z"/><path id="z441" d="M1783.4,579.6 1779.7,588.9 1785.3,590.8 1791.8,579.6 1799.3,572.2 1801.1,564.7 1787.1,561.9 1785.3,559.1 1774.1,565.7 1776.9,567.5 1782.5,572.2Z"/><path id="z442" d="M1785.3,596.4 1778.8,605.7 1783.4,622.5 1776.9,629.0 1782.5,628.1 1796.5,613.2 1802.0,612.2 1809.5,602.0 1808.6,600.1 1804.8,591.7 1809.5,579.6 1807.6,572.2 1803.0,568.4 1801.1,564.7 1799.3,572.2 1791.8,579.6 1785.3,590.8 1785.3,594.5Z"/><path id="z443" d="M1762.0,618.8 1771.3,629.9 1783.4,622.5 1778.8,605.7 1785.3,596.4 1782.5,596.4 1771.3,597.3 1764.8,591.7 1752.7,605.7 1753.6,609.4Z"/><path id="z444" d="M1809.5,623.4 1802.0,612.2 1796.5,613.2 1782.5,628.1 1776.9,629.0 1778.8,640.0 1799.3,640.0 1800.2,629.0Z"/><path id="z445" d="M1826.3,618.8 1814.2,606.6 1809.5,602.0 1802.0,612.2 1809.5,623.4Z"/><path id="z446" d="M1826.3,618.8 1832.8,621.6 1837.5,615.0 1843.0,614.1 1845.8,603.9 1842.1,602.0 1840.2,592.7 1830.9,585.2 1826.3,590.8 1825.3,596.4 1808.6,600.1 1809.5,602.0 1814.2,606.6Z"/><path id="z447" d="M1858.9,613.2 1857.0,606.6 1858.9,601.1 1866.3,599.2 1867.7,598.0 1866.8,595.1 1874.8,590.5 1865.4,592.7 1857.0,599.2 1846.8,594.5 1845.8,603.9 1843.0,614.1 1846.8,623.4Z"/><path id="z448" d="M1853.3,633.7 1869.1,628.1 1871.9,622.5 1867.3,616.9 1858.9,613.2 1846.8,623.4 1848.6,629.0Z"/><path id="z449" d="M1849.6,584.3 1840.2,592.7 1842.1,602.0 1846.8,594.5 1857.0,599.2 1865.4,592.7 1877.5,588.9 1877.0,587.6 1871.7,577.7 1868.8,577.5 1862.1,578.0 1862.1,576.9 1860.7,576.8 1861.7,568.4 1841.2,572.2 1844.0,572.2Z"/><path id="z450" d="M1858.9,613.2 1867.3,616.9 1871.9,622.5 1877.5,625.3 1874.9,622.5 1873.0,621.5 1869.4,616.5 1866.3,613.2 1857.0,603.9 1858.9,601.1 1846.8,602.0 1857.0,606.6Z"/><path id="z451" d="M1865.4,561.0 1866.3,558.7 1866.8,557.0 1867.1,555.9 1865.4,550.7 1855.2,547.0 1854.2,543.3 1846.8,541.4 1843.0,534.9 1839.3,535.8 1840.2,548.0Z"/><path id="z452" d="M1871.9,536.8 1875.7,538.6 1888.7,537.7 1886.8,543.3 1889.6,548.9 1891.5,547.0 1890.6,537.7 1889.6,531.2 1890.1,528.7 1890.1,528.3 1890.7,525.6 1891.4,522.1 1887.6,521.3 1878.4,520.0 1874.7,533.0Z"/><path id="z453" d="M1879.4,546.1 1885.9,545.2 1894.3,558.2 1900.5,557.3 1901.4,554.1 1901.6,553.1 1901.2,552.4 1889.6,548.9 1886.8,543.3 1888.7,537.7 1875.7,538.6 1871.9,536.8 1870.1,539.6 1872.9,544.2Z"/><path id="z454" d="M1907.3,608.5 1915.7,596.4 1911.1,597.3 1900.8,604.8 1901.7,606.6Z"/><clipPath id="land"><path d="M1911.8,498.0 1932.0,500.1 1932.0,496.5 1928.9,491.1 1921.1,488.7 1915.7,463.3 1921.4,458.3 1935.4,461.8 1942.4,460.6 1949.4,454.8 1975.0,438.5 1977.3,429.2 1972.7,415.2 1958.7,411.7 1957.5,404.7 1949.4,400.1 1956.4,393.1 1980.4,388.4 1980.5,390.0 1992.1,385.8 2003.8,376.5 2010.7,381.2 2020.1,382.3 2038.7,377.7 2052.7,370.7 2071.3,357.9 2080.6,357.9 2085.3,366.0 2094.6,360.2 2106.2,341.6 2112.1,328.7 2126.0,320.6 2127.2,313.6 2130.7,299.6 2109.7,299.6 2110.9,278.7 2106.2,273.3 2096.9,276.3 2076.0,295.0 2069.0,305.5 2057.3,300.8 2045.7,295.0 2034.0,279.8 2022.4,276.3 2016.6,271.7 2018.9,260.0 2010.7,239.1 2004.9,220.4 1997.9,183.2 1994.9,159.9 1994.0,121.4 1992.1,120.3 1973.5,129.1 1954.8,114.5 1943.2,108.2 1933.9,106.8 1922.2,108.6 1903.6,120.3 1879.1,126.6 1862.8,128.4 1853.5,136.6 1847.7,150.6 1839.6,171.5 1798.8,158.2 1780.2,166.9 1765.7,182.0 1765.7,227.0 1741.0,219.3 1721.9,227.4 1697.0,259.3 1080.0,218.3 1080.0,217.7 485.9,171.7 361.4,550.0 326.6,658.7 307.3,713.0 312.6,745.7 408.9,751.2 514.5,761.2 724.1,775.8 736.5,778.3 734.0,809.3 764.5,806.2 775.3,781.4 814.2,780.4 865.4,787.6 865.4,792.2 880.9,792.9 887.1,789.1 957.0,788.5 1080.0,795.3 1365.7,811.8 1367.3,824.8 1626.6,823.9 1624.1,928.3 1651.4,925.2 1650.1,950.0 1644.3,987.3 1647.7,1003.6 1655.9,1022.2 1662.9,1028.0 1695.5,1049.0 1711.8,1071.1 1729.3,1099.1 1737.4,1114.2 1773.5,1125.9 1767.7,1155.0 1768.7,1173.3 1774.5,1196.6 1776.9,1231.5 1779.2,1263.7 1783.9,1259.5 1797.8,1257.6 1811.8,1254.8 1825.8,1261.8 1829.3,1266.5 1830.0,1276.9 1832.8,1276.9 1831.6,1266.5 1835.1,1261.8 1842.1,1256.0 1853.7,1252.5 1863.0,1254.8 1866.5,1252.5 1867.7,1243.2 1877.0,1237.3 1881.7,1242.0 1882.8,1250.2 1885.2,1249.0 1885.3,1241.2 1899.3,1229.5 1893.5,1208.5 1888.8,1196.9 1892.3,1192.2 1900.5,1182.9 1900.5,1168.9 1907.6,1167.2 1913.5,1186.2 1919.7,1187.1 1913.6,1164.8 1921.4,1155.0 1935.4,1159.6 1940.3,1174.3 1946.1,1195.5 1949.2,1194.0 1950.7,1184.7 1950.0,1180.7 1957.5,1182.6 1963.2,1194.0 1969.4,1195.5 1970.9,1187.8 1966.2,1180.6 1963.4,1175.9 1956.4,1159.6 1972.7,1160.8 1982.0,1155.0 1978.5,1143.3 1970.3,1141.0 1972.7,1135.2 1991.3,1136.3 2003.0,1148.0 2008.8,1127.0 2014.6,1120.0 2012.3,1103.7 2021.6,1101.4 2034.4,1117.7 2035.6,1099.1 2030.9,1080.4 2035.6,1071.1 2047.2,1080.4 2056.5,1079.3 2065.8,1089.8 2075.2,1087.4 2062.3,1106.1 2077.5,1089.8 2089.1,1087.4 2093.8,1099.1 2070.5,1115.4 2079.8,1127.0 2075.2,1131.7 2084.5,1136.3 2075.0,1150.0 2077.3,1154.7 2082.0,1164.0 2076.2,1166.3 2073.8,1175.6 2078.5,1187.3 2080.8,1198.9 2075.0,1208.2 2071.5,1217.5 2072.7,1226.9 2065.7,1232.7 2073.8,1232.7 2077.3,1239.7 2082.0,1238.5 2096.0,1233.9 2119.3,1231.1 2135.4,1227.8 2151.2,1229.4 2179.2,1223.6 2190.8,1212.0 2200.2,1198.0 2208.3,1184.0 2211.8,1182.1 2235.1,1179.3 2251.4,1172.4 2254.9,1163.0 2263.0,1158.4 2277.0,1158.4 2285.2,1165.8 2300.3,1158.4 2313.1,1163.0 2313.8,1177.0 2316.6,1180.5 2322.4,1177.0 2323.6,1172.4 2330.6,1166.5 2344.6,1158.4 2360.9,1149.1 2385.3,1145.6 2395.8,1147.2 2409.8,1142.5 2421.4,1138.6 2440.1,1137.4 2459.9,1133.9 2476.2,1130.9 2498.3,1145.6 2499.5,1146.7 2496.0,1158.4 2492.0,1171.5 2491.8,1172.2 2491.8,1172.4 2489.0,1181.7 2482.0,1209.6 2478.1,1219.6 2473.2,1230.6 2474.7,1237.5 2483.1,1238.1 2483.1,1238.0 2483.2,1238.0 2487.8,1229.4 2488.0,1229.0 2491.8,1221.9 2495.6,1210.5 2496.0,1209.6 2496.1,1209.1 2501.1,1194.0 2505.8,1169.1 2515.1,1153.6 2522.9,1128.8 2528.4,1113.2 2526.6,1116.5 2528.1,1111.8 2528.6,1088.5 2528.6,1058.2 2526.2,1050.1 2525.1,1036.5 2522.8,1013.2 2519.3,987.6 2513.4,959.6 2506.4,936.3 2498.3,913.0 2487.8,885.1 2477.3,861.8 2463.4,837.3 2451.7,822.2 2435.4,809.4 2412.1,797.7 2391.2,791.5 2370.2,786.6 2358.5,786.6 2346.9,789.1 2338.7,794.3 2334.1,801.7 2336.4,804.7 2344.6,810.6 2351.6,819.9 2358.5,830.4 2364.4,838.5 2364.4,838.5 2364.4,838.5 2364.4,838.5 2371.4,839.7 2378.3,835.0 2383.0,826.9 2383.0,826.9 2383.0,826.9 2377.2,831.5 2377.2,831.5 2371.4,830.4 2367.9,819.9 2372.5,811.7 2379.5,807.1 2391.2,804.0 2395.8,804.7 2409.8,812.9 2421.4,823.4 2430.7,836.2 2435.4,852.5 2437.7,871.1 2438.2,889.8 2437.9,903.7 2436.1,903.7 2436.3,941.5 2439.1,942.4 2439.1,942.3 2441.2,943.3 2442.4,953.8 2444.3,945.7 2444.7,927.0 2449.4,922.4 2451.7,917.7 2463.4,915.4 2468.0,916.5 2465.7,922.4 2470.3,931.7 2475.0,934.0 2472.7,938.7 2471.5,944.5 2482.0,948.0 2482.0,957.3 2479.7,959.6 2480.8,982.9 2481.8,1003.0 2480.8,1022.1 2470.3,1033.8 2444.7,1044.3 2426.1,1050.1 2407.5,1056.4 2395.8,1055.4 2374.8,1061.7 2365.5,1062.4 2346.9,1071.0 2332.9,1081.5 2318.9,1093.2 2312.0,1083.9 2302.6,1075.7 2274.7,1073.4 2244.4,1071.0 2225.8,1066.4 2204.8,1058.2 2186.2,1048.9 2174.5,1037.3 2177.0,1040.0 2166.1,1031.3 2150.6,1012.7 2147.5,1003.4 2152.1,990.9 2156.8,969.2 2153.7,944.3 2144.3,925.7 2150.6,918.0 2149.0,913.3 2135.0,904.0 2122.6,893.1 2113.3,893.1 2104.0,899.3 2088.4,891.6 2071.4,882.2 2060.5,866.7 2051.2,854.3 2043.4,846.5 2051.2,838.8 2060.5,845.0 2069.8,838.8 2063.6,832.5 2069.8,820.1 2082.2,813.9 2097.8,841.9 2104.0,848.1 2113.3,846.5 2100.9,823.2 2086.9,798.4 2085.3,787.5 2090.0,782.9 2090.0,778.2 2076.0,759.6 2065.2,745.6 2057.4,730.1 2048.1,713.0 2043.4,695.9 2045.0,677.3 2034.1,671.1 2026.3,663.3 2020.4,655.0 2022.0,660.0 2018.7,652.6 2018.6,652.4 2018.5,652.3 2015.8,646.3 2015.1,638.6 2010.4,636.2 2006.5,638.6 1991.0,632.4 1977.0,626.9 1961.5,623.0 1955.3,616.8 1949.1,607.5 1943.6,596.6 1942.1,588.1 1930.4,589.7 1917.2,592.8 1908.7,596.6 1900.9,602.9 1896.3,609.1 1897.0,613.0 1893.2,616.8 1887.0,623.0 1877.6,623.8 1873.0,621.5 1869.1,616.1 1866.8,609.1 1865.2,602.9 1868.3,599.8 1866.8,595.1 1877.6,588.9 1871.4,577.2 1862.1,578.0 1862.1,570.2 1864.4,565.6 1866.8,557.0 1869.1,550.1 1878.4,550.8 1884.6,546.2 1887.0,548.5 1893.9,558.6 1900.2,558.6 1901.7,553.2 1891.6,539.2 1890.1,528.3 1891.6,522.1 1883.9,520.6 1880.7,512.8 1879.2,506.6 1883.9,497.3 1890.1,488.0 1897.8,478.6 1895.8,476.9 1902.8,471.1 1907.2,468.9 1908.7,494.2ZM1698.0,259.3 1696.8,259.6 1697.0,259.3ZM2128.0,1227.1 2140.2,1226.9 2135.4,1227.8ZM2482.0,1000.0 2482.0,1006.2 2481.8,1003.0ZM2020.4,655.0 2015.5,640.0 2018.5,652.3 2018.7,652.6Z"/></clipPath></defs>
<path d="M1911.8,498.0 1932.0,500.1 1932.0,496.5 1928.9,491.1 1921.1,488.7 1915.7,463.3 1921.4,458.3 1935.4,461.8 1942.4,460.6 1949.4,454.8 1975.0,438.5 1977.3,429.2 1972.7,415.2 1958.7,411.7 1957.5,404.7 1949.4,400.1 1956.4,393.1 1980.4,388.4 1980.5,390.0 1992.1,385.8 2003.8,376.5 2010.7,381.2 2020.1,382.3 2038.7,377.7 2052.7,370.7 2071.3,357.9 2080.6,357.9 2085.3,366.0 2094.6,360.2 2106.2,341.6 2112.1,328.7 2126.0,320.6 2127.2,313.6 2130.7,299.6 2109.7,299.6 2110.9,278.7 2106.2,273.3 2096.9,276.3 2076.0,295.0 2069.0,305.5 2057.3,300.8 2045.7,295.0 2034.0,279.8 2022.4,276.3 2016.6,271.7 2018.9,260.0 2010.7,239.1 2004.9,220.4 1997.9,183.2 1994.9,159.9 1994.0,121.4 1992.1,120.3 1973.5,129.1 1954.8,114.5 1943.2,108.2 1933.9,106.8 1922.2,108.6 1903.6,120.3 1879.1,126.6 1862.8,128.4 1853.5,136.6 1847.7,150.6 1839.6,171.5 1798.8,158.2 1780.2,166.9 1765.7,182.0 1765.7,227.0 1741.0,219.3 1721.9,227.4 1697.0,259.3 1080.0,218.3 1080.0,217.7 485.9,171.7 361.4,550.0 326.6,658.7 307.3,713.0 312.6,745.7 408.9,751.2 514.5,761.2 724.1,775.8 736.5,778.3 734.0,809.3 764.5,806.2 775.3,781.4 814.2,780.4 865.4,787.6 865.4,792.2 880.9,792.9 887.1,789.1 957.0,788.5 1080.0,795.3 1365.7,811.8 1367.3,824.8 1626.6,823.9 1624.1,928.3 1651.4,925.2 1650.1,950.0 1644.3,987.3 1647.7,1003.6 1655.9,1022.2 1662.9,1028.0 1695.5,1049.0 1711.8,1071.1 1729.3,1099.1 1737.4,1114.2 1773.5,1125.9 1767.7,1155.0 1768.7,1173.3 1774.5,1196.6 1776.9,1231.5 1779.2,1263.7 1783.9,1259.5 1797.8,1257.6 1811.8,1254.8 1825.8,1261.8 1829.3,1266.5 1830.0,1276.9 1832.8,1276.9 1831.6,1266.5 1835.1,1261.8 1842.1,1256.0 1853.7,1252.5 1863.0,1254.8 1866.5,1252.5 1867.7,1243.2 1877.0,1237.3 1881.7,1242.0 1882.8,1250.2 1885.2,1249.0 1885.3,1241.2 1899.3,1229.5 1893.5,1208.5 1888.8,1196.9 1892.3,1192.2 1900.5,1182.9 1900.5,1168.9 1907.6,1167.2 1913.5,1186.2 1919.7,1187.1 1913.6,1164.8 1921.4,1155.0 1935.4,1159.6 1940.3,1174.3 1946.1,1195.5 1949.2,1194.0 1950.7,1184.7 1950.0,1180.7 1957.5,1182.6 1963.2,1194.0 1969.4,1195.5 1970.9,1187.8 1966.2,1180.6 1963.4,1175.9 1956.4,1159.6 1972.7,1160.8 1982.0,1155.0 1978.5,1143.3 1970.3,1141.0 1972.7,1135.2 1991.3,1136.3 2003.0,1148.0 2008.8,1127.0 2014.6,1120.0 2012.3,1103.7 2021.6,1101.4 2034.4,1117.7 2035.6,1099.1 2030.9,1080.4 2035.6,1071.1 2047.2,1080.4 2056.5,1079.3 2065.8,1089.8 2075.2,1087.4 2062.3,1106.1 2077.5,1089.8 2089.1,1087.4 2093.8,1099.1 2070.5,1115.4 2079.8,1127.0 2075.2,1131.7 2084.5,1136.3 2075.0,1150.0 2077.3,1154.7 2082.0,1164.0 2076.2,1166.3 2073.8,1175.6 2078.5,1187.3 2080.8,1198.9 2075.0,1208.2 2071.5,1217.5 2072.7,1226.9 2065.7,1232.7 2073.8,1232.7 2077.3,1239.7 2082.0,1238.5 2096.0,1233.9 2119.3,1231.1 2135.4,1227.8 2151.2,1229.4 2179.2,1223.6 2190.8,1212.0 2200.2,1198.0 2208.3,1184.0 2211.8,1182.1 2235.1,1179.3 2251.4,1172.4 2254.9,1163.0 2263.0,1158.4 2277.0,1158.4 2285.2,1165.8 2300.3,1158.4 2313.1,1163.0 2313.8,1177.0 2316.6,1180.5 2322.4,1177.0 2323.6,1172.4 2330.6,1166.5 2344.6,1158.4 2360.9,1149.1 2385.3,1145.6 2395.8,1147.2 2409.8,1142.5 2421.4,1138.6 2440.1,1137.4 2459.9,1133.9 2476.2,1130.9 2498.3,1145.6 2499.5,1146.7 2496.0,1158.4 2492.0,1171.5 2491.8,1172.2 2491.8,1172.4 2489.0,1181.7 2482.0,1209.6 2478.1,1219.6 2473.2,1230.6 2474.7,1237.5 2483.1,1238.1 2483.1,1238.0 2483.2,1238.0 2487.8,1229.4 2488.0,1229.0 2491.8,1221.9 2495.6,1210.5 2496.0,1209.6 2496.1,1209.1 2501.1,1194.0 2505.8,1169.1 2515.1,1153.6 2522.9,1128.8 2528.4,1113.2 2526.6,1116.5 2528.1,1111.8 2528.6,1088.5 2528.6,1058.2 2526.2,1050.1 2525.1,1036.5 2522.8,1013.2 2519.3,987.6 2513.4,959.6 2506.4,936.3 2498.3,913.0 2487.8,885.1 2477.3,861.8 2463.4,837.3 2451.7,822.2 2435.4,809.4 2412.1,797.7 2391.2,791.5 2370.2,786.6 2358.5,786.6 2346.9,789.1 2338.7,794.3 2334.1,801.7 2336.4,804.7 2344.6,810.6 2351.6,819.9 2358.5,830.4 2364.4,838.5 2364.4,838.5 2364.4,838.5 2364.4,838.5 2371.4,839.7 2378.3,835.0 2383.0,826.9 2383.0,826.9 2383.0,826.9 2377.2,831.5 2377.2,831.5 2371.4,830.4 2367.9,819.9 2372.5,811.7 2379.5,807.1 2391.2,804.0 2395.8,804.7 2409.8,812.9 2421.4,823.4 2430.7,836.2 2435.4,852.5 2437.7,871.1 2438.2,889.8 2437.9,903.7 2436.1,903.7 2436.3,941.5 2439.1,942.4 2439.1,942.3 2441.2,943.3 2442.4,953.8 2444.3,945.7 2444.7,927.0 2449.4,922.4 2451.7,917.7 2463.4,915.4 2468.0,916.5 2465.7,922.4 2470.3,931.7 2475.0,934.0 2472.7,938.7 2471.5,944.5 2482.0,948.0 2482.0,957.3 2479.7,959.6 2480.8,982.9 2481.8,1003.0 2480.8,1022.1 2470.3,1033.8 2444.7,1044.3 2426.1,1050.1 2407.5,1056.4 2395.8,1055.4 2374.8,1061.7 2365.5,1062.4 2346.9,1071.0 2332.9,1081.5 2318.9,1093.2 2312.0,1083.9 2302.6,1075.7 2274.7,1073.4 2244.4,1071.0 2225.8,1066.4 2204.8,1058.2 2186.2,1048.9 2174.5,1037.3 2177.0,1040.0 2166.1,1031.3 2150.6,1012.7 2147.5,1003.4 2152.1,990.9 2156.8,969.2 2153.7,944.3 2144.3,925.7 2150.6,918.0 2149.0,913.3 2135.0,904.0 2122.6,893.1 2113.3,893.1 2104.0,899.3 2088.4,891.6 2071.4,882.2 2060.5,866.7 2051.2,854.3 2043.4,846.5 2051.2,838.8 2060.5,845.0 2069.8,838.8 2063.6,832.5 2069.8,820.1 2082.2,813.9 2097.8,841.9 2104.0,848.1 2113.3,846.5 2100.9,823.2 2086.9,798.4 2085.3,787.5 2090.0,782.9 2090.0,778.2 2076.0,759.6 2065.2,745.6 2057.4,730.1 2048.1,713.0 2043.4,695.9 2045.0,677.3 2034.1,671.1 2026.3,663.3 2020.4,655.0 2022.0,660.0 2018.7,652.6 2018.6,652.4 2018.5,652.3 2015.8,646.3 2015.1,638.6 2010.4,636.2 2006.5,638.6 1991.0,632.4 1977.0,626.9 1961.5,623.0 1955.3,616.8 1949.1,607.5 1943.6,596.6 1942.1,588.1 1930.4,589.7 1917.2,592.8 1908.7,596.6 1900.9,602.9 1896.3,609.1 1897.0,613.0 1893.2,616.8 1887.0,623.0 1877.6,623.8 1873.0,621.5 1869.1,616.1 1866.8,609.1 1865.2,602.9 1868.3,599.8 1866.8,595.1 1877.6,588.9 1871.4,577.2 1862.1,578.0 1862.1,570.2 1864.4,565.6 1866.8,557.0 1869.1,550.1 1878.4,550.8 1884.6,546.2 1887.0,548.5 1893.9,558.6 1900.2,558.6 1901.7,553.2 1891.6,539.2 1890.1,528.3 1891.6,522.1 1883.9,520.6 1880.7,512.8 1879.2,506.6 1883.9,497.3 1890.1,488.0 1897.8,478.6 1895.8,476.9 1902.8,471.1 1907.2,468.9 1908.7,494.2ZM1698.0,259.3 1696.8,259.6 1697.0,259.3ZM2128.0,1227.1 2140.2,1226.9 2135.4,1227.8ZM2482.0,1000.0 2482.0,1006.2 2481.8,1003.0ZM2020.4,655.0 2015.5,640.0 2018.5,652.3 2018.7,652.6Z" fill="#22a884" stroke="#1a1a1a" stroke-width="0.9"/>
<g stroke="#1a1a1a" stroke-width="0.9" stroke-linejoin="round">

</g>
<g clip-path="url(#land)" stroke-width="5" stroke-linejoin="round">
<use href="#z0" fill="#2a788e" stroke="#2a788e"/>
<use href="#z1" fill="#414487" stroke="#414487"/>
<use href="#z2" fill="#414487" stroke="#414487"/>
<use href="#z3" fill="#414487" stroke="#414487"/>
<use href="#z4" fill="#22a884" stroke="#22a884"/>
<use href="#z5" fill="#2a788e" stroke="#2a788e"/>
<use href="#z6" fill="#2a788e" stroke="#2a788e"/>
<use href="#z7" fill="#22a884" stroke="#22a884"/>
<use href="#z8" fill="#414487" stroke="#414487"/>
<use href="#z9" fill="#2a788e" stroke="#2a788e"/>
<use href="#z10" fill="#7ad151" stroke="#7ad151"/>
<use href="#z11" fill="#22a884" stroke="#22a884"/>
<use href="#z12" fill="#7ad151" stroke="#7ad151"/>
<use href="#z13" fill="#2a788e" stroke="#2a788e"/>
<use href="#z14" fill="#e8e8e8" stroke="#e8e8e8"/>
<use href="#z15" fill="#22a884" stroke="#22a884"/>
<use href="#z16" fill="#7ad151" stroke="#7ad151"/>
<use href="#z17" fill="#2a788e" stroke="#2a788e"/>
<use href="#z18" fill="#22a884" stroke="#22a884"/>
<use href="#z19" fill="#2a788e" stroke="#2a788e"/>
<use href="#z20" fill="#2a788e" stroke="#2a788e"/>
<use href="#z21" fill="#440154" stroke="#440154"/>
<use href="#z22" fill="#414487" stroke="#414487"/>
<use href="#z23" fill="#7ad151" stroke="#7ad151"/>
<use href="#z24" fill="#7ad151" stroke="#7ad151"/>
<use href="#z25" fill="#22a884" stroke="#22a884"/>
<use href="#z26" fill="#414487" stroke="#414487"/>
<use href="#z27" fill="#22a884" stroke="#22a884"/>
<use href="#z28" fill="#414487" stroke="#414487"/>
<use href="#z29" fill="#22a884" stroke="#22a884"/>
<use href="#z30" fill="#22a884" stroke="#22a884"/>
<use href="#z31" fill="#22a884" stroke="#22a884"/>
<use href="#z32" fill="#2a788e" stroke="#2a788e"/>
<use href="#z33" fill="#414487" stroke="#414487"/>
<use href="#z34" fill="#414487" stroke="#414487"/>
<use href="#z35" fill="#2a788e" stroke="#2a788e"/>
<use href="#z36" fill="#414487" stroke="#414487"/>
<use href="#z37" fill="#440154" stroke="#440154"/>
<use href="#z38" fill="#440154" stroke="#440154"/>
<use href="#z39" fill="#2a788e" stroke="#2a788e"/>
<use href="#z40" fill="#7ad151" stroke="#7ad151"/>
<use href="#z41" fill="#2a788e" stroke="#2a788e"/>
<use href="#z42" fill="#2a788e" stroke="#2a788e"/>
<use href="#z43" fill="#440154" stroke="#440154"/>
<use href="#z44" fill="#7ad151" stroke="#7ad151"/>
<use href="#z45" fill="#22a884" stroke="#22a884"/>
<use href="#z46" fill="#2a788e" stroke="#2a788e"/>
<use href="#z47" fill="#22a884" stroke="#22a884"/>
<use href="#z48" fill="#22a884" stroke="#22a884"/>
<use href="#z49" fill="#22a884" stroke="#22a884"/>
<use href="#z50" fill="#2a788e" stroke="#2a788e"/>
<use href="#z51" fill="#7ad151" stroke="#7ad151"/>
<use href="#z52" fill="#22a884" stroke="#22a884"/>
<use href="#z53" fill="#414487" stroke="#414487"/>
<use href="#z54" fill="#440154" stroke="#440154"/>
<use href="#z55" fill="#22a884" stroke="#22a884"/>
<use href="#z56" fill="#2a788e" stroke="#2a788e"/>
<use href="#z57" fill="#414487" stroke="#414487"/>
<use href="#z58" fill="#d6d6d6" stroke="#d6d6d6"/>
<use href="#z59" fill="#22a884" stroke="#22a884"/>
<use href="#z60" fill="#414487" stroke="#414487"/>
<use href="#z61" fill="#440154" stroke="#440154"/>
<use href="#z62" fill="#2a788e" stroke="#2a788e"/>
<use href="#z63" fill="#414487" stroke="#414487"/>
<use href="#z64" fill="#22a884" stroke="#22a884"/>
<use href="#z65" fill="#7ad151" stroke="#7ad151"/>
<use href="#z66" fill="#7ad151" stroke="#7ad151"/>
<use href="#z67" fill="#2a788e" stroke="#2a788e"/>
<use href="#z68" fill="#7ad151" stroke="#7ad151"/>
<use href="#z69" fill="#d6d6d6" stroke="#d6d6d6"/>
<use href="#z70" fill="#414487" stroke="#414487"/>
<use href="#z71" fill="#7ad151" stroke="#7ad151"/>
<use href="#z72" fill="#7ad151" stroke="#7ad151"/>
<use href="#z73" fill="#7ad151" stroke="#7ad151"/>
<use href="#z74" fill="#22a884" stroke="#22a884"/>
<use href="#z75" fill="#414487" stroke="#414487"/>
<use href="#z76" fill="#7ad151" stroke="#7ad151"/>
<use href="#z77" fill="#7ad151" stroke="#7ad151"/>
<use href="#z78" fill="#2a788e" stroke="#2a788e"/>
<use href="#z79" fill="#22a884" stroke="#22a884"/>
<use href="#z80" fill="#22a884" stroke="#22a884"/>
<use href="#z81" fill="#22a884" stroke="#22a884"/>
<use href="#z82" fill="#e8e8e8" stroke="#e8e8e8"/>
<use href="#z83" fill="#fde725" stroke="#fde725"/>
<use href="#z84" fill="#22a884" stroke="#22a884"/>
<use href="#z85" fill="#22a884" stroke="#22a884"/>
<use href="#z86" fill="#414487" stroke="#414487"/>
<use href="#z87" fill="#7ad151" stroke="#7ad151"/>
<use href="#z88" fill="#22a884" stroke="#22a884"/>
<use href="#z89" fill="#22a884" stroke="#22a884"/>
<use href="#z90" fill="#22a884" stroke="#22a884"/>
<use href="#z91" fill="#7ad151" stroke="#7ad151"/>
<use href="#z92" fill="#7ad151" stroke="#7ad151"/>
<use href="#z93" fill="#2a788e" stroke="#2a788e"/>
<use href="#z94" fill="#7ad151" stroke="#7ad151"/>
<use href="#z95" fill="#fde725" stroke="#fde725"/>
<use href="#z96" fill="#2a788e" stroke="#2a788e"/>
<use href="#z97" fill="#22a884" stroke="#22a884"/>
<use href="#z98" fill="#fde725" stroke="#fde725"/>
<use href="#z99" fill="#7ad151" stroke="#7ad151"/>
<use href="#z100" fill="#22a884" stroke="#22a884"/>
<use href="#z101" fill="#22a884" stroke="#22a884"/>
<use href="#z102" fill="#2a788e" stroke="#2a788e"/>
<use href="#z103" fill="#fde725" stroke="#fde725"/>
<use href="#z104" fill="#414487" stroke="#414487"/>
<use href="#z105" fill="#440154" stroke="#440154"/>
<use href="#z106" fill="#22a884" stroke="#22a884"/>
<use href="#z107" fill="#7ad151" stroke="#7ad151"/>
<use href="#z108" fill="#440154" stroke="#440154"/>
<use href="#z109" fill="#414487" stroke="#414487"/>
<use href="#z110" fill="#2a788e" stroke="#2a788e"/>
<use href="#z111" fill="#22a884" stroke="#22a884"/>
<use href="#z112" fill="#22a884" stroke="#22a884"/>
<use href="#z113" fill="#7ad151" stroke="#7ad151"/>
<use href="#z114" fill="#22a884" stroke="#22a884"/>
<use href="#z115" fill="#414487" stroke="#414487"/>
<use href="#z116" fill="#d6d6d6" stroke="#d6d6d6"/>
<use href="#z117" fill="#7ad151" stroke="#7ad151"/>
<use href="#z118" fill="#7ad151" stroke="#7ad151"/>
<use href="#z119" fill="#7ad151" stroke="#7ad151"/>
<use href="#z120" fill="#fde725" stroke="#fde725"/>
<use href="#z121" fill="#2a788e" stroke="#2a788e"/>
<use href="#z122" fill="#22a884" stroke="#22a884"/>
<use href="#z123" fill="#7ad151" stroke="#7ad151"/>
<use href="#z124" fill="#7ad151" stroke="#7ad151"/>
<use href="#z125" fill="#2a788e" stroke="#2a788e"/>
<use href="#z126" fill="#22a884" stroke="#22a884"/>
<use href="#z127" fill="#22a884" stroke="#22a884"/>
<use href="#z128" fill="#fde725" stroke="#fde725"/>
<use href="#z129" fill="#7ad151" stroke="#7ad151"/>
<use href="#z130" fill="#22a884" stroke="#22a884"/>
<use href="#z131" fill="#7ad151" stroke="#7ad151"/>
<use href="#z132" fill="#7ad151" stroke="#7ad151"/>
<use href="#z133" fill="#7ad151" stroke="#7ad151"/>
<use href="#z134" fill="#fde725" stroke="#fde725"/>
<use href="#z135" fill="#fde725" stroke="#fde725"/>
<use href="#z136" fill="#7ad151" stroke="#7ad151"/>
<use href="#z137" fill="#22a884" stroke="#22a884"/>
<use href="#z138" fill="#fde725" stroke="#fde725"/>
<use href="#z139" fill="#fde725" stroke="#fde725"/>
<use href="#z140" fill="#fde725" stroke="#fde725"/>
<use href="#z141" fill="#7ad151" stroke="#7ad151"/>
<use href="#z142" fill="#7ad151" stroke="#7ad151"/>
<use href="#z143" fill="#2a788e" stroke="#2a788e"/>
<use href="#z144" fill="#414487" stroke="#414487"/>
<use href="#z145" fill="#7ad151" stroke="#7ad151"/>
<use href="#z146" fill="#2a788e" stroke="#2a788e"/>
<use href="#z147" fill="#2a788e" stroke="#2a788e"/>
<use href="#z148" fill="#22a884" stroke="#22a884"/>
<use href="#z149" fill="#2a788e" stroke="#2a788e"/>
<use href="#z150" fill="#7ad151" stroke="#7ad151"/>
<use href="#z151" fill="#22a884" stroke="#22a884"/>
<use href="#z152" fill="#2a788e" stroke="#2a788e"/>
<use href="#z153" fill="#2a788e" stroke="#2a788e"/>
<use href="#z154" fill="#22a884" stroke="#22a884"/>
<use href="#z155" fill="#fde725" stroke="#fde725"/>
<use href="#z156" fill="#7ad151" stroke="#7ad151"/>
<use href="#z157" fill="#7ad151" stroke="#7ad151"/>
<use href="#z158" fill="#7ad151" stroke="#7ad151"/>
<use href="#z159" fill="#7ad151" stroke="#7ad151"/>
<use href="#z160" fill="#7ad151" stroke="#7ad151"/>
<use href="#z161" fill="#22a884" stroke="#22a884"/>
<use href="#z162" fill="#fde725" stroke="#fde725"/>
<use href="#z163" fill="#fde725" stroke="#fde725"/>
<use href="#z164" fill="#22a884" stroke="#22a884"/>
<use href="#z165" fill="#2a788e" stroke="#2a788e"/>
<use href="#z166" fill="#e8e8e8" stroke="#e8e8e8"/>
<use href="#z167" fill="#22a884" stroke="#22a884"/>
<use href="#z168" fill="#7ad151" stroke="#7ad151"/>
<use href="#z169" fill="#7ad151" stroke="#7ad151"/>
<use href="#z170" fill="#22a884" stroke="#22a884"/>
<use href="#z171" fill="#2a788e" stroke="#2a788e"/>
<use href="#z172" fill="#e8e8e8" stroke="#e8e8e8"/>
<use href="#z173" fill="#7ad151" stroke="#7ad151"/>
<use href="#z174" fill="#2a788e" stroke="#2a788e"/>
<use href="#z175" fill="#414487" stroke="#414487"/>
<use href="#z176" fill="#e8e8e8" stroke="#e8e8e8"/>
<use href="#z177" fill="#7ad151" stroke="#7ad151"/>
<use href="#z178" fill="#7ad151" stroke="#7ad151"/>
<use href="#z179" fill="#22a884" stroke="#22a884"/>
<use href="#z180" fill="#414487" stroke="#414487"/>
<use href="#z181" fill="#22a884" stroke="#22a884"/>
<use href="#z182" fill="#22a884" stroke="#22a884"/>
<use href="#z183" fill="#22a884" stroke="#22a884"/>
<use href="#z184" fill="#fde725" stroke="#fde725"/>
<use href="#z185" fill="#22a884" stroke="#22a884"/>
<use href="#z186" fill="#fde725" stroke="#fde725"/>
<use href="#z187" fill="#2a788e" stroke="#2a788e"/>
<use href="#z188" fill="#2a788e" stroke="#2a788e"/>
<use href="#z189" fill="#22a884" stroke="#22a884"/>
<use href="#z190" fill="#fde725" stroke="#fde725"/>
<use href="#z191" fill="#fde725" stroke="#fde725"/>
<use href="#z192" fill="#22a884" stroke="#22a884"/>
<use href="#z193" fill="#7ad151" stroke="#7ad151"/>
<use href="#z194" fill="#7ad151" stroke="#7ad151"/>
<use href="#z195" fill="#22a884" stroke="#22a884"/>
<use href="#z196" fill="#22a884" stroke="#22a884"/>
<use href="#z197" fill="#22a884" stroke="#22a884"/>
<use href="#z198" fill="#414487" stroke="#414487"/>
<use href="#z199" fill="#2a788e" stroke="#2a788e"/>
<use href="#z200" fill="#7ad151" stroke="#7ad151"/>
<use href="#z201" fill="#414487" stroke="#414487"/>
<use href="#z202" fill="#440154" stroke="#440154"/>
<use href="#z203" fill="#7ad151" stroke="#7ad151"/>
<use href="#z204" fill="#414487" stroke="#414487"/>
<use href="#z205" fill="#d6d6d6" stroke="#d6d6d6"/>
<use href="#z206" fill="#22a884" stroke="#22a884"/>
<use href="#z207" fill="#414487" stroke="#414487"/>
<use href="#z208" fill="#2a788e" stroke="#2a788e"/>
<use href="#z209" fill="#d6d6d6" stroke="#d6d6d6"/>
<use href="#z210" fill="#d6d6d6" stroke="#d6d6d6"/>
<use href="#z211" fill="#440154" stroke="#440154"/>
<use href="#z212" fill="#d6d6d6" stroke="#d6d6d6"/>
<use href="#z213" fill="#414487" stroke="#414487"/>
<use href="#z214" fill="#2a788e" stroke="#2a788e"/>
<use href="#z215" fill="#2a788e" stroke="#2a788e"/>
<use href="#z216" fill="#414487" stroke="#414487"/>
<use href="#z217" fill="#7ad151" stroke="#7ad151"/>
<use href="#z218" fill="#22a884" stroke="#22a884"/>
<use href="#z219" fill="#7ad151" stroke="#7ad151"/>
<use href="#z220" fill="#22a884" stroke="#22a884"/>
<use href="#z221" fill="#7ad151" stroke="#7ad151"/>
<use href="#z222" fill="#2a788e" stroke="#2a788e"/>
<use href="#z223" fill="#22a884" stroke="#22a884"/>
<use href="#z224" fill="#22a884" stroke="#22a884"/>
<use href="#z225" fill="#22a884" stroke="#22a884"/>
<use href="#z226" fill="#7ad151" stroke="#7ad151"/>
<use href="#z227" fill="#22a884" stroke="#22a884"/>
<use href="#z228" fill="#2a788e" stroke="#2a788e"/>
<use href="#z229" fill="#22a884" stroke="#22a884"/>
<use href="#z230" fill="#22a884" stroke="#22a884"/>
<use href="#z231" fill="#22a884" stroke="#22a884"/>
<use href="#z232" fill="#d6d6d6" stroke="#d6d6d6"/>
<use href="#z233" fill="#2a788e" stroke="#2a788e"/>
<use href="#z234" fill="#fde725" stroke="#fde725"/>
<use href="#z235" fill="#2a788e" stroke="#2a788e"/>
<use href="#z236" fill="#414487" stroke="#414487"/>
<use href="#z237" fill="#440154" stroke="#440154"/>
<use href="#z238" fill="#440154" stroke="#440154"/>
<use href="#z239" fill="#414487" stroke="#414487"/>
<use href="#z240" fill="#22a884" stroke="#22a884"/>
<use href="#z241" fill="#7ad151" stroke="#7ad151"/>
<use href="#z242" fill="#fde725" stroke="#fde725"/>
<use href="#z243" fill="#22a884" stroke="#22a884"/>
<use href="#z244" fill="#2a788e" stroke="#2a788e"/>
<use href="#z245" fill="#22a884" stroke="#22a884"/>
<use href="#z246" fill="#22a884" stroke="#22a884"/>
<use href="#z247" fill="#fde725" stroke="#fde725"/>
<use href="#z248" fill="#2a788e" stroke="#2a788e"/>
<use href="#z249" fill="#fde725" stroke="#fde725"/>
<use href="#z250" fill="#22a884" stroke="#22a884"/>
<use href="#z251" fill="#2a788e" stroke="#2a788e"/>
<use href="#z252" fill="#414487" stroke="#414487"/>
<use href="#z253" fill="#22a884" stroke="#22a884"/>
<use href="#z254" fill="#22a884" stroke="#22a884"/>
<use href="#z255" fill="#fde725" stroke="#fde725"/>
<use href="#z256" fill="#2a788e" stroke="#2a788e"/>
<use href="#z257" fill="#7ad151" stroke="#7ad151"/>
<use href="#z258" fill="#2a788e" stroke="#2a788e"/>
<use href="#z259" fill="#414487" stroke="#414487"/>
<use href="#z260" fill="#2a788e" stroke="#2a788e"/>
<use href="#z261" fill="#414487" stroke="#414487"/>
<use href="#z262" fill="#22a884" stroke="#22a884"/>
<use href="#z263" fill="#7ad151" stroke="#7ad151"/>
<use href="#z264" fill="#22a884" stroke="#22a884"/>
<use href="#z265" fill="#7ad151" stroke="#7ad151"/>
<use href="#z266" fill="#2a788e" stroke="#2a788e"/>
<use href="#z267" fill="#7ad151" stroke="#7ad151"/>
<use href="#z268" fill="#22a884" stroke="#22a884"/>
<use href="#z269" fill="#22a884" stroke="#22a884"/>
<use href="#z270" fill="#fde725" stroke="#fde725"/>
<use href="#z271" fill="#7ad151" stroke="#7ad151"/>
<use href="#z272" fill="#fde725" stroke="#fde725"/>
<use href="#z273" fill="#fde725" stroke="#fde725"/>
<use href="#z274" fill="#fde725" stroke="#fde725"/>
<use href="#z275" fill="#7ad151" stroke="#7ad151"/>
<use href="#z276" fill="#7ad151" stroke="#7ad151"/>
<use href="#z277" fill="#22a884" stroke="#22a884"/>
<use href="#z278" fill="#7ad151" stroke="#7ad151"/>
<use href="#z279" fill="#fde725" stroke="#fde725"/>
<use href="#z280" fill="#7ad151" stroke="#7ad151"/>
<use href="#z281" fill="#22a884" stroke="#22a884"/>
<use href="#z282" fill="#2a788e" stroke="#2a788e"/>
<use href="#z283" fill="#7ad151" stroke="#7ad151"/>
<use href="#z284" fill="#22a884" stroke="#22a884"/>
<use href="#z285" fill="#7ad151" stroke="#7ad151"/>
<use href="#z286" fill="#7ad151" stroke="#7ad151"/>
<use href="#z287" fill="#22a884" stroke="#22a884"/>
<use href="#z288" fill="#d6d6d6" stroke="#d6d6d6"/>
<use href="#z289" fill="#2a788e" stroke="#2a788e"/>
<use href="#z290" fill="#7ad151" stroke="#7ad151"/>
<use href="#z291" fill="#7ad151" stroke="#7ad151"/>
<use href="#z292" fill="#fde725" stroke="#fde725"/>
<use href="#z293" fill="#22a884" stroke="#22a884"/>
<use href="#z294" fill="#2a788e" stroke="#2a788e"/>
<use href="#z295" fill="#7ad151" stroke="#7ad151"/>
<use href="#z296" fill="#414487" stroke="#414487"/>
<use href="#z297" fill="#2a788e" stroke="#2a788e"/>
<use href="#z298" fill="#22a884" stroke="#22a884"/>
<use href="#z299" fill="#22a884" stroke="#22a884"/>
<use href="#z300" fill="#2a788e" stroke="#2a788e"/>
<use href="#z301" fill="#2a788e" stroke="#2a788e"/>
<use href="#z302" fill="#22a884" stroke="#22a884"/>
<use href="#z303" fill="#22a884" stroke="#22a884"/>
<use href="#z304" fill="#7ad151" stroke="#7ad151"/>
<use href="#z305" fill="#22a884" stroke="#22a884"/>
<use href="#z306" fill="#414487" stroke="#414487"/>
<use href="#z307" fill="#7ad151" stroke="#7ad151"/>
<use href="#z308" fill="#2a788e" stroke="#2a788e"/>
<use href="#z309" fill="#2a788e" stroke="#2a788e"/>
<use href="#z310" fill="#22a884" stroke="#22a884"/>
<use href="#z311" fill="#e8e8e8" stroke="#e8e8e8"/>
<use href="#z312" fill="#2a788e" stroke="#2a788e"/>
<use href="#z313" fill="#7ad151" stroke="#7ad151"/>
<use href="#z314" fill="#7ad151" stroke="#7ad151"/>
<use href="#z315" fill="#22a884" stroke="#22a884"/>
<use href="#z316" fill="#e8e8e8" stroke="#e8e8e8"/>
<use href="#z317" fill="#2a788e" stroke="#2a788e"/>
<use href="#z318" fill="#fde725" stroke="#fde725"/>
<use href="#z319" fill="#22a884" stroke="#22a884"/>
<use href="#z320" fill="#440154" stroke="#440154"/>
<use href="#z321" fill="#7ad151" stroke="#7ad151"/>
<use href="#z322" fill="#7ad151" stroke="#7ad151"/>
<use href="#z323" fill="#22a884" stroke="#22a884"/>
<use href="#z324" fill="#fde725" stroke="#fde725"/>
<use href="#z325" fill="#2a788e" stroke="#2a788e"/>
<use href="#z326" fill="#22a884" stroke="#22a884"/>
<use href="#z327" fill="#22a884" stroke="#22a884"/>
<use href="#z328" fill="#7ad151" stroke="#7ad151"/>
<use href="#z329" fill="#7ad151" stroke="#7ad151"/>
<use href="#z330" fill="#fde725" stroke="#fde725"/>
<use href="#z331" fill="#414487" stroke="#414487"/>
<use href="#z332" fill="#2a788e" stroke="#2a788e"/>
<use href="#z333" fill="#7ad151" stroke="#7ad151"/>
<use href="#z334" fill="#22a884" stroke="#22a884"/>
<use href="#z335" fill="#22a884" stroke="#22a884"/>
<use href="#z336" fill="#fde725" stroke="#fde725"/>
<use href="#z337" fill="#414487" stroke="#414487"/>
<use href="#z338" fill="#440154" stroke="#440154"/>
<use href="#z339" fill="#414487" stroke="#414487"/>
<use href="#z340" fill="#414487" stroke="#414487"/>
<use href="#z341" fill="#22a884" stroke="#22a884"/>
<use href="#z342" fill="#22a884" stroke="#22a884"/>
<use href="#z343" fill="#414487" stroke="#414487"/>
<use href="#z344" fill="#22a884" stroke="#22a884"/>
<use href="#z345" fill="#2a788e" stroke="#2a788e"/>
<use href="#z346" fill="#22a884" stroke="#22a884"/>
<use href="#z347" fill="#440154" stroke="#440154"/>
<use href="#z348" fill="#414487" stroke="#414487"/>
<use href="#z349" fill="#414487" stroke="#414487"/>
<use href="#z350" fill="#414487" stroke="#414487"/>
<use href="#z351" fill="#414487" stroke="#414487"/>
<use href="#z352" fill="#22a884" stroke="#22a884"/>
<use href="#z353" fill="#22a884" stroke="#22a884"/>
<use href="#z354" fill="#d6d6d6" stroke="#d6d6d6"/>
<use href="#z355" fill="#7ad151" stroke="#7ad151"/>
<use href="#z356" fill="#7ad151" stroke="#7ad151"/>
<use href="#z357" fill="#fde725" stroke="#fde725"/>
<use href="#z358" fill="#fde725" stroke="#fde725"/>
<use href="#z359" fill="#22a884" stroke="#22a884"/>
<use href="#z360" fill="#414487" stroke="#414487"/>
<use href="#z361" fill="#440154" stroke="#440154"/>
<use href="#z362" fill="#d6d6d6" stroke="#d6d6d6"/>
<use href="#z363" fill="#7ad151" stroke="#7ad151"/>
<use href="#z364" fill="#22a884" stroke="#22a884"/>
<use href="#z365" fill="#2a788e" stroke="#2a788e"/>
<use href="#z366" fill="#2a788e" stroke="#2a788e"/>
<use href="#z367" fill="#2a788e" stroke="#2a788e"/>
<use href="#z368" fill="#22a884" stroke="#22a884"/>
<use href="#z369" fill="#22a884" stroke="#22a884"/>
<use href="#z370" fill="#e8e8e8" stroke="#e8e8e8"/>
<use href="#z371" fill="#22a884" stroke="#22a884"/>
<use href="#z372" fill="#7ad151" stroke="#7ad151"/>
<use href="#z373" fill="#e8e8e8" stroke="#e8e8e8"/>
<use href="#z374" fill="#7ad151" stroke="#7ad151"/>
<use href="#z375" fill="#22a884" stroke="#22a884"/>
<use href="#z376" fill="#414487" stroke="#414487"/>
<use href="#z377" fill="#e8e8e8" stroke="#e8e8e8"/>
<use href="#z378" fill="#22a884" stroke="#22a884"/>
<use href="#z379" fill="#22a884" stroke="#22a884"/>
<use href="#z380" fill="#2a788e" stroke="#2a788e"/>
<use href="#z381" fill="#2a788e" stroke="#2a788e"/>
<use href="#z382" fill="#e8e8e8" stroke="#e8e8e8"/>
<use href="#z383" fill="#414487" stroke="#414487"/>
<use href="#z384" fill="#d6d6d6" stroke="#d6d6d6"/>
<use href="#z385" fill="#22a884" stroke="#22a884"/>
<use href="#z386" fill="#2a788e" stroke="#2a788e"/>
<use href="#z387" fill="#22a884" stroke="#22a884"/>
<use href="#z388" fill="#414487" stroke="#414487"/>
<use href="#z389" fill="#2a788e" stroke="#2a788e"/>
<use href="#z390" fill="#22a884" stroke="#22a884"/>
<use href="#z391" fill="#2a788e" stroke="#2a788e"/>
<use href="#z392" fill="#d6d6d6" stroke="#d6d6d6"/>
<use href="#z393" fill="#2a788e" stroke="#2a788e"/>
<use href="#z394" fill="#d6d6d6" stroke="#d6d6d6"/>
<use href="#z395" fill="#2a788e" stroke="#2a788e"/>
<use href="#z396" fill="#22a884" stroke="#22a884"/>
<use href="#z397" fill="#d6d6d6" stroke="#d6d6d6"/>
<use href="#z398" fill="#d6d6d6" stroke="#d6d6d6"/>
<use href="#z399" fill="#e8e8e8" stroke="#e8e8e8"/>
<use href="#z400" fill="#440154" stroke="#440154"/>
<use href="#z401" fill="#440154" stroke="#440154"/>
<use href="#z402" fill="#e8e8e8" stroke="#e8e8e8"/>
<use href="#z403" fill="#d6d6d6" stroke="#d6d6d6"/>
<use href="#z404" fill="#22a884" stroke="#22a884"/>
<use href="#z405" fill="#e8e8e8" stroke="#e8e8e8"/>
<use href="#z406" fill="#414487" stroke="#414487"/>
<use href="#z407" fill="#414487" stroke="#414487"/>
<use href="#z408" fill="#414487" stroke="#414487"/>
<use href="#z409" fill="#414487" stroke="#414487"/>
<use href="#z410" fill="#440154" stroke="#440154"/>
<use href="#z411" fill="#440154" stroke="#440154"/>
<use href="#z412" fill="#2a788e" stroke="#2a788e"/>
<use href="#z413" fill="#2a788e" stroke="#2a788e"/>
<use href="#z414" fill="#22a884" stroke="#22a884"/>
<use href="#z415" fill="#22a884" stroke="#22a884"/>
<use href="#z416" fill="#7ad151" stroke="#7ad151"/>
<use href="#z417" fill="#2a788e" stroke="#2a788e"/>
<use href="#z418" fill="#2a788e" stroke="#2a788e"/>
<use href="#z419" fill="#414487" stroke="#414487"/>
<use href="#z420" fill="#7ad151" stroke="#7ad151"/>
<use href="#z421" fill="#e8e8e8" stroke="#e8e8e8"/>
<use href="#z422" fill="#22a884" stroke="#22a884"/>
<use href="#z423" fill="#22a884" stroke="#22a884"/>
<use href="#z424" fill="#22a884" stroke="#22a884"/>
<use href="#z425" fill="#7ad151" stroke="#7ad151"/>
<use href="#z426" fill="#2a788e" stroke="#2a788e"/>
<use href="#z427" fill="#7ad151" stroke="#7ad151"/>
<use href="#z428" fill="#22a884" stroke="#22a884"/>
<use href="#z429" fill="#d6d6d6" stroke="#d6d6d6"/>
<use href="#z430" fill="#22a884" stroke="#22a884"/>
<use href="#z431" fill="#2a788e" stroke="#2a788e"/>
<use href="#z432" fill="#22a884" stroke="#22a884"/>
<use href="#z433" fill="#22a884" stroke="#22a884"/>
<use href="#z434" fill="#fde725" stroke="#fde725"/>
<use href="#z435" fill="#7ad151" stroke="#7ad151"/>
<use href="#z436" fill="#d6d6d6" stroke="#d6d6d6"/>
<use href="#z437" fill="#fde725" stroke="#fde725"/>
<use href="#z438" fill="#22a884" stroke="#22a884"/>
<use href="#z439" fill="#e8e8e8" stroke="#e8e8e8"/>
<use href="#z440" fill="#414487" stroke="#414487"/>
<use href="#z441" fill="#2a788e" stroke="#2a788e"/>
<use href="#z442" fill="#414487" stroke="#414487"/>
<use href="#z443" fill="#2a788e" stroke="#2a788e"/>
<use href="#z444" fill="#414487" stroke="#414487"/>
<use href="#z445" fill="#440154" stroke="#440154"/>
<use href="#z446" fill="#414487" stroke="#414487"/>
<use href="#z447" fill="#414487" stroke="#414487"/>
<use href="#z448" fill="#2a788e" stroke="#2a788e"/>
<use href="#z449" fill="#e8e8e8" stroke="#e8e8e8"/>
<use href="#z450" fill="#e8e8e8" stroke="#e8e8e8"/>
<use href="#z451" fill="#e8e8e8" stroke="#e8e8e8"/>
<use href="#z452" fill="#414487" stroke="#414487"/>
<use href="#z453" fill="#e8e8e8" stroke="#e8e8e8"/>
<use href="#z454" fill="#2a788e" stroke="#2a788e"/>
</g>
<g stroke="#1a1a1a" stroke-width="0.9" stroke-linejoin="round">
<use href="#z0" fill="#2a788e"/>
<use href="#z1" fill="#414487"/>
<use href="#z2" fill="#414487"/>
<use href="#z3" fill="#414487"/>
<use href="#z4" fill="#22a884"/>
<use href="#z5" fill="#2a788e"/>
<use href="#z6" fill="#2a788e"/>
<use href="#z7" fill="#22a884"/>
<use href="#z8" fill="#414487"/>
<use href="#z9" fill="#2a788e"/>
<use href="#z10" fill="#7ad151"/>
<use href="#z11" fill="#22a884"/>
<use href="#z12" fill="#7ad151"/>
<use href="#z13" fill="#2a788e"/>
<use href="#z14" fill="#e8e8e8"/>
<use href="#z15" fill="#22a884"/>
<use href="#z16" fill="#7ad151"/>
<use href="#z17" fill="#2a788e"/>
<use href="#z18" fill="#22a884"/>
<use href="#z19" fill="#2a788e"/>
<use href="#z20" fill="#2a788e"/>
<use href="#z21" fill="#440154"/>
<use href="#z22" fill="#414487"/>
<use href="#z23" fill="#7ad151"/>
<use href="#z24" fill="#7ad151"/>
<use href="#z25" fill="#22a884"/>
<use href="#z26" fill="#414487"/>
<use href="#z27" fill="#22a884"/>
<use href="#z28" fill="#414487"/>
<use href="#z29" fill="#22a884"/>
<use href="#z30" fill="#22a884"/>
<use href="#z31" fill="#22a884"/>
<use href="#z32" fill="#2a788e"/>
<use href="#z33" fill="#414487"/>
<use href="#z34" fill="#414487"/>
<use href="#z35" fill="#2a788e"/>
<use href="#z36" fill="#414487"/>
<use href="#z37" fill="#440154"/>
<use href="#z38" fill="#440154"/>
<use href="#z39" fill="#2a788e"/>
<use href="#z40" fill="#7ad151"/>
<use href="#z41" fill="#2a788e"/>
<use href="#z42" fill="#2a788e"/>
<use href="#z43" fill="#440154"/>
<use href="#z44" fill="#7ad151"/>
<use href="#z45" fill="#22a884"/>
<use href="#z46" fill="#2a788e"/>
<use href="#z47" fill="#22a884"/>
<use href="#z48" fill="#22a884"/>
<use href="#z49" fill="#22a884"/>
<use href="#z50" fill="#2a788e"/>
<use href="#z51" fill="#7ad151"/>
<use href="#z52" fill="#22a884"/>
<use href="#z53" fill="#414487"/>
<use href="#z54" fill="#440154"/>
<use href="#z55" fill="#22a884"/>
<use href="#z56" fill="#2a788e"/>
<use href="#z57" fill="#414487"/>
<use href="#z58" fill="#d6d6d6"/>
<use href="#z59" fill="#22a884"/>
<use href="#z60" fill="#414487"/>
<use href="#z61" fill="#440154"/>
<use href="#z62" fill="#2a788e"/>
<use href="#z63" fill="#414487"/>
<use href="#z64" fill="#22a884"/>
<use href="#z65" fill="#7ad151"/>
<use href="#z66" fill="#7ad151"/>
<use href="#z67" fill="#2a788e"/>
<use href="#z68" fill="#7ad151"/>
<use href="#z69" fill="#d6d6d6"/>
<use href="#z70" fill="#414487"/>
<use href="#z71" fill="#7ad151"/>
<use href="#z72" fill="#7ad151"/>
<use href="#z73" fill="#7ad151"/>
<use href="#z74" fill="#22a884"/>
<use href="#z75" fill="#414487"/>
<use href="#z76" fill="#7ad151"/>
<use href="#z77" fill="#7ad151"/>
<use href="#z78" fill="#2a788e"/>
<use href="#z79" fill="#22a884"/>
<use href="#z80" fill="#22a884"/>
<use href="#z81" fill="#22a884"/>
<use href="#z82" fill="#e8e8e8"/>
<use href="#z83" fill="#fde725"/>
<use href="#z84" fill="#22a884"/>
<use href="#z85" fill="#22a884"/>
<use href="#z86" fill="#414487"/>
<use href="#z87" fill="#7ad151"/>
<use href="#z88" fill="#22a884"/>
<use href="#z89" fill="#22a884"/>
<use href="#z90" fill="#22a884"/>
<use href="#z91" fill="#7ad151"/>
<use href="#z92" fill="#7ad151"/>
<use href="#z93" fill="#2a788e"/>
<use href="#z94" fill="#7ad151"/>
<use href="#z95" fill="#fde725"/>
<use href="#z96" fill="#2a788e"/>
<use href="#z97" fill="#22a884"/>
<use href="#z98" fill="#fde725"/>
<use href="#z99" fill="#7ad151"/>
<use href="#z100" fill="#22a884"/>
<use href="#z101" fill="#22a884"/>
<use href="#z102" fill="#2a788e"/>
<use href="#z103" fill="#fde725"/>
<use href="#z104" fill="#414487"/>
<use href="#z105" fill="#440154"/>
<use href="#z106" fill="#22a884"/>
<use href="#z107" fill="#7ad151"/>
<use href="#z108" fill="#440154"/>
<use href="#z109" fill="#414487"/>
<use href="#z110" fill="#2a788e"/>
<use href="#z111" fill="#22a884"/>
<use href="#z112" fill="#22a884"/>
<use href="#z113" fill="#7ad151"/>
<use href="#z114" fill="#22a884"/>
<use href="#z115" fill="#414487"/>
<use href="#z116" fill="#d6d6d6"/>
<use href="#z117" fill="#7ad151"/>
<use href="#z118" fill="#7ad151"/>
<use href="#z119" fill="#7ad151"/>
<use href="#z120" fill="#fde725"/>
<use href="#z121" fill="#2a788e"/>
<use href="#z122" fill="#22a884"/>
<use href="#z123" fill="#7ad151"/>
<use href="#z124" fill="#7ad151"/>
<use href="#z125" fill="#2a788e"/>
<use href="#z126" fill="#22a884"/>
<use href="#z127" fill="#22a884"/>
<use href="#z128" fill="#fde725"/>
<use href="#z129" fill="#7ad151"/>
<use href="#z130" fill="#22a884"/>
<use href="#z131" fill="#7ad151"/>
<use href="#z132" fill="#7ad151"/>
<use href="#z133" fill="#7ad151"/>
<use href="#z134" fill="#fde725"/>
<use href="#z135" fill="#fde725"/>
<use href="#z136" fill="#7ad151"/>
<use href="#z137" fill="#22a884"/>
<use href="#z138" fill="#fde725"/>
<use href="#z139" fill="#fde725"/>
<use href="#z140" fill="#fde725"/>
<use href="#z141" fill="#7ad151"/>
<use href="#z142" fill="#7ad151"/>
<use href="#z143" fill="#2a788e"/>
<use href="#z144" fill="#414487"/>
<use href="#z145" fill="#7ad151"/>
<use href="#z146" fill="#2a788e"/>
<use href="#z147" fill="#2a788e"/>
<use href="#z148" fill="#22a884"/>
<use href="#z149" fill="#2a788e"/>
<use href="#z150" fill="#7ad151"/>
<use href="#z151" fill="#22a884"/>
<use href="#z152" fill="#2a788e"/>
<use href="#z153" fill="#2a788e"/>
<use href="#z154" fill="#22a884"/>
<use href="#z155" fill="#fde725"/>
<use href="#z156" fill="#7ad151"/>
<use href="#z157" fill="#7ad151"/>
<use href="#z158" fill="#7ad151"/>
<use href="#z159" fill="#7ad151"/>
<use href="#z160" fill="#7ad151"/>
<use href="#z161" fill="#22a884"/>
<use href="#z162" fill="#fde725"/>
<use href="#z163" fill="#fde725"/>
<use href="#z164" fill="#22a884"/>
<use href="#z165" fill="#2a788e"/>
<use href="#z166" fill="#e8e8e8"/>
<use href="#z167" fill="#22a884"/>
<use href="#z168" fill="#7ad151"/>
<use href="#z169" fill="#7ad151"/>
<use href="#z170" fill="#22a884"/>
<use href="#z171" fill="#2a788e"/>
<use href="#z172" fill="#e8e8e8"/>
<use href="#z173" fill="#7ad151"/>
<use href="#z174" fill="#2a788e"/>
<use href="#z175" fill="#414487"/>
<use href="#z176" fill="#e8e8e8"/>
<use href="#z177" fill="#7ad151"/>
<use href="#z178" fill="#7ad151"/>
<use href="#z179" fill="#22a884"/>
<use href="#z180" fill="#414487"/>
<use href="#z181" fill="#22a884"/>
<use href="#z182" fill="#22a884"/>
<use href="#z183" fill="#22a884"/>
<use href="#z184" fill="#fde725"/>
<use href="#z185" fill="#22a884"/>
<use href="#z186" fill="#fde725"/>
<use href="#z187" fill="#2a788e"/>
<use href="#z188" fill="#2a788e"/>
<use href="#z189" fill="#22a884"/>
<use href="#z190" fill="#fde725"/>
<use href="#z191" fill="#fde725"/>
<use href="#z192" fill="#22a884"/>
<use href="#z193" fill="#7ad151"/>
<use href="#z194" fill="#7ad151"/>
<use href="#z195" fill="#22a884"/>
<use href="#z196" fill="#22a884"/>
<use href="#z197" fill="#22a884"/>
<use href="#z198" fill="#414487"/>
<use href="#z199" fill="#2a788e"/>
<use href="#z200" fill="#7ad151"/>
<use href="#z201" fill="#414487"/>
<use href="#z202" fill="#440154"/>
<use href="#z203" fill="#7ad151"/>
<use href="#z204" fill="#414487"/>
<use href="#z205" fill="#d6d6d6"/>
<use href="#z206" fill="#22a884"/>
<use href="#z207" fill="#414487"/>
<use href="#z208" fill="#2a788e"/>
<use href="#z209" fill="#d6d6d6"/>
<use href="#z210" fill="#d6d6d6"/>
<use href="#z211" fill="#440154"/>
<use href="#z212" fill="#d6d6d6"/>
<use href="#z213" fill="#414487"/>
<use href="#z214" fill="#2a788e"/>
<use href="#z215" fill="#2a788e"/>
<use href="#z216" fill="#414487"/>
<use href="#z217" fill="#7ad151"/>
<use href="#z218" fill="#22a884"/>
<use href="#z219" fill="#7ad151"/>
<use href="#z220" fill="#22a884"/>
<use href="#z221" fill="#7ad151"/>
<use href="#z222" fill="#2a788e"/>
<use href="#z223" fill="#22a884"/>
<use href="#z224" fill="#22a884"/>
<use href="#z225" fill="#22a884"/>
<use href="#z226" fill="#7ad151"/>
<use href="#z227" fill="#22a884"/>
<use href="#z228" fill="#2a788e"/>
<use href="#z229" fill="#22a884"/>
<use href="#z230" fill="#22a884"/>
<use href="#z231" fill="#22a884"/>
<use href="#z232" fill="#d6d6d6"/>
<use href="#z233" fill="#2a788e"/>
<use href="#z234" fill="#fde725"/>
<use href="#z235" fill="#2a788e"/>
<use href="#z236" fill="#414487"/>
<use href="#z237" fill="#440154"/>
<use href="#z238" fill="#440154"/>
<use href="#z239" fill="#414487"/>
<use href="#z240" fill="#22a884"/>
<use href="#z241" fill="#7ad151"/>
<use href="#z242" fill="#fde725"/>
<use href="#z243" fill="#22a884"/>
<use href="#z244" fill="#2a788e"/>
<use href="#z245" fill="#22a884"/>
<use href="#z246" fill="#22a884"/>
<use href="#z247" fill="#fde725"/>
<use href="#z248" fill="#2a788e"/>
<use href="#z249" fill="#fde725"/>
<use href="#z250" fill="#22a884"/>
<use href="#z251" fill="#2a788e"/>
<use href="#z252" fill="#414487"/>
<use href="#z253" fill="#22a884"/>
<use href="#z254" fill="#22a884"/>
<use href="#z255" fill="#fde725"/>
<use href="#z256" fill="#2a788e"/>
<use href="#z257" fill="#7ad151"/>
<use href="#z258" fill="#2a788e"/>
<use href="#z259" fill="#414487"/>
<use href="#z260" fill="#2a788e"/>
<use href="#z261" fill="#414487"/>
<use href="#z262" fill="#22a884"/>
<use href="#z263" fill="#7ad151"/>
<use href="#z264" fill="#22a884"/>
<use href="#z265" fill="#7ad151"/>
<use href="#z266" fill="#2a788e"/>
<use href="#z267" fill="#7ad151"/>
<use href="#z268" fill="#22a884"/>
<use href="#z269" fill="#22a884"/>
<use href="#z270" fill="#fde725"/>
<use href="#z271" fill="#7ad151"/>
<use href="#z272" fill="#fde725"/>
<use href="#z273" fill="#fde725"/>
<use href="#z274" fill="#fde725"/>
<use href="#z275" fill="#7ad151"/>
<use href="#z276" fill="#7ad151"/>
<use href="#z277" fill="#22a884"/>
<use href="#z278" fill="#7ad151"/>
<use href="#z279" fill="#fde725"/>
<use href="#z280" fill="#7ad151"/>
<use href="#z281" fill="#22a884"/>
<use href="#z282" fill="#2a788e"/>
<use href="#z283" fill="#7ad151"/>
<use href="#z284" fill="#22a884"/>
<use href="#z285" fill="#7ad151"/>
<use href="#z286" fill="#7ad151"/>
<use href="#z287" fill="#22a884"/>
<use href="#z288" fill="#d6d6d6"/>
<use href="#z289" fill="#2a788e"/>
<use href="#z290" fill="#7ad151"/>
<use href="#z291" fill="#7ad151"/>
<use href="#z292" fill="#fde725"/>
<use href="#z293" fill="#22a884"/>
<use href="#z294" fill="#2a788e"/>
<use href="#z295" fill="#7ad151"/>
<use href="#z296" fill="#414487"/>
<use href="#z297" fill="#2a788e"/>
<use href="#z298" fill="#22a884"/>
<use href="#z299" fill="#22a884"/>
<use href="#z300" fill="#2a788e"/>
<use href="#z301" fill="#2a788e"/>
<use href="#z302" fill="#22a884"/>
<use href="#z303" fill="#22a884"/>
<use href="#z304" fill="#7ad151"/>
<use href="#z305" fill="#22a884"/>
<use href="#z306" fill="#414487"/>
<use href="#z307" fill="#7ad151"/>
<use href="#z308" fill="#2a788e"/>
<use href="#z309" fill="#2a788e"/>
<use href="#z310" fill="#22a884"/>
<use href="#z311" fill="#e8e8e8"/>
<use href="#z312" fill="#2a788e"/>
<use href="#z313" fill="#7ad151"/>
<use href="#z314" fill="#7ad151"/>
<use href="#z315" fill="#22a884"/>
<use href="#z316" fill="#e8e8e8"/>
<use href="#z317" fill="#2a788e"/>
<use href="#z318" fill="#fde725"/>
<use href="#z319" fill="#22a884"/>
<use href="#z320" fill="#440154"/>
<use href="#z321" fill="#7ad151"/>
<use href="#z322" fill="#7ad151"/>
<use href="#z323" fill="#22a884"/>
<use href="#z324" fill="#fde725"/>
<use href="#z325" fill="#2a788e"/>
<use href="#z326" fill="#22a884"/>
<use href="#z327" fill="#22a884"/>
<use href="#z328" fill="#7ad151"/>
<use href="#z329" fill="#7ad151"/>
<use href="#z330" fill="#fde725"/>
<use href="#z331" fill="#414487"/>
<use href="#z332" fill="#2a788e"/>
<use href="#z333" fill="#7ad151"/>
<use href="#z334" fill="#22a884"/>
<use href="#z335" fill="#22a884"/>
<use href="#z336" fill="#fde725"/>
<use href="#z337" fill="#414487"/>
<use href="#z338" fill="#440154"/>
<use href="#z339" fill="#414487"/>
<use href="#z340" fill="#414487"/>
<use href="#z341" fill="#22a884"/>
<use href="#z342" fill="#22a884"/>
<use href="#z343" fill="#414487"/>
<use href="#z344" fill="#22a884"/>
<use href="#z345" fill="#2a788e"/>
<use href="#z346" fill="#22a884"/>
<use href="#z347" fill="#440154"/>
<use href="#z348" fill="#414487"/>
<use href="#z349" fill="#414487"/>
<use href="#z350" fill="#414487"/>
<use href="#z351" fill="#414487"/>
<use href="#z352" fill="#22a884"/>
<use href="#z353" fill="#22a884"/>
<use href="#z354" fill="#d6d6d6"/>
<use href="#z355" fill="#7ad151"/>
<use href="#z356" fill="#7ad151"/>
<use href="#z357" fill="#fde725"/>
<use href="#z358" fill="#fde725"/>
<use href="#z359" fill="#22a884"/>
<use href="#z360" fill="#414487"/>
<use href="#z361" fill="#440154"/>
<use href="#z362" fill="#d6d6d6"/>
<use href="#z363" fill="#7ad151"/>
<use href="#z364" fill="#22a884"/>
<use href="#z365" fill="#2a788e"/>
<use href="#z366" fill="#2a788e"/>
<use href="#z367" fill="#2a788e"/>
<use href="#z368" fill="#22a884"/>
<use href="#z369" fill="#22a884"/>
<use href="#z370" fill="#e8e8e8"/>
<use href="#z371" fill="#22a884"/>
<use href="#z372" fill="#7ad151"/>
<use href="#z373" fill="#e8e8e8"/>
<use href="#z374" fill="#7ad151"/>
<use href="#z375" fill="#22a884"/>
<use href="#z376" fill="#414487"/>
<use href="#z377" fill="#e8e8e8"/>
<use href="#z378" fill="#22a884"/>
<use href="#z379" fill="#22a884"/>
<use href="#z380" fill="#2a788e"/>
<use href="#z381" fill="#2a788e"/>
<use href="#z382" fill="#e8e8e8"/>
<use href="#z383" fill="#414487"/>
<use href="#z384" fill="#d6d6d6"/>
<use href="#z385" fill="#22a884"/>
<use href="#z386" fill="#2a788e"/>
<use href="#z387" fill="#22a884"/>
<use href="#z388" fill="#414487"/>
<use href="#z389" fill="#2a788e"/>
<use href="#z390" fill="#22a884"/>
<use href="#z391" fill="#2a788e"/>
<use href="#z392" fill="#d6d6d6"/>
<use href="#z393" fill="#2a788e"/>
<use href="#z394" fill="#d6d6d6"/>
<use href="#z395" fill="#2a788e"/>
<use href="#z396" fill="#22a884"/>
<use href="#z397" fill="#d6d6d6"/>
<use href="#z398" fill="#d6d6d6"/>
<use href="#z399" fill="#e8e8e8"/>
<use href="#z400" fill="#440154"/>
<use href="#z401" fill="#440154"/>
<use href="#z402" fill="#e8e8e8"/>
<use href="#z403" fill="#d6d6d6"/>
<use href="#z404" fill="#22a884"/>
<use href="#z405" fill="#e8e8e8"/>
<use href="#z406" fill="#414487"/>
<use href="#z407" fill="#414487"/>
<use href="#z408" fill="#414487"/>
<use href="#z409" fill="#414487"/>
<use href="#z410" fill="#440154"/>
<use href="#z411" fill="#440154"/>
<use href="#z412" fill="#2a788e"/>
<use href="#z413" fill="#2a788e"/>
<use href="#z414" fill="#22a884"/>
<use href="#z415" fill="#22a884"/>
<use href="#z416" fill="#7ad151"/>
<use href="#z417" fill="#2a788e"/>
<use href="#z418" fill="#2a788e"/>
<use href="#z419" fill="#414487"/>
<use href="#z420" fill="#7ad151"/>
<use href="#z421" fill="#e8e8e8"/>
<use href="#z422" fill="#22a884"/>
<use href="#z423" fill="#22a884"/>
<use href="#z424" fill="#22a884"/>
<use href="#z425" fill="#7ad151"/>
<use href="#z426" fill="#2a788e"/>
<use href="#z427" fill="#7ad151"/>
<use href="#z428" fill="#22a884"/>
<use href="#z429" fill="#d6d6d6"/>
<use href="#z430" fill="#22a884"/>
<use href="#z431" fill="#2a788e"/>
<use href="#z432" fill="#22a884"/>
<use href="#z433" fill="#22a884"/>
<use href="#z434" fill="#fde725"/>
<use href="#z435" fill="#7ad151"/>
<use href="#z436" fill="#d6d6d6"/>
<use href="#z437" fill="#fde725"/>
<use href="#z438" fill="#22a884"/>
<use href="#z439" fill="#e8e8e8"/>
<use href="#z440" fill="#414487"/>
<use href="#z441" fill="#2a788e"/>
<use href="#z442" fill="#414487"/>
<use href="#z443" fill="#2a788e"/>
<use href="#z444" fill="#414487"/>
<use href="#z445" fill="#440154"/>
<use href="#z446" fill="#414487"/>
<use href="#z447" fill="#414487"/>
<use href="#z448" fill="#2a788e"/>
<use href="#z449" fill="#e8e8e8"/>
<use href="#z450" fill="#e8e8e8"/>
<use href="#z451" fill="#e8e8e8"/>
<use href="#z452" fill="#414487"/>
<use href="#z453" fill="#e8e8e8"/>
<use href="#z454" fill="#2a788e"/>
<path d="M1883.5,1336.3 1886.3,1330.5 1893.3,1324.7 1898.0,1321.2 1914.3,1318.9 1928.3,1315.4 1943.4,1306.5 1953.9,1301.4 1970.2,1298.6 1977.2,1296.7 1978.3,1292.1 1988.8,1285.1 2000.5,1275.8 2014.4,1266.5 2026.1,1259.5 2037.7,1251.3 2049.4,1243.2 2063.4,1235.0 2066.9,1232.7 2075.0,1231.5 2079.7,1238.5 2072.7,1252.5 2069.2,1254.8 2058.7,1258.3 2044.7,1266.5 2035.4,1275.8 2021.4,1280.4 2012.1,1287.4 2005.1,1299.1 1993.5,1303.7 1984.2,1310.7 1974.8,1310.7 1963.2,1313.0 1948.1,1323.5 1937.6,1329.3 1923.6,1330.5 1910.8,1329.3 1900.3,1334.0 1889.8,1339.8 1884.0,1338.2Z" fill="#d6d6d6"/>
<path d="M1884.0,1337.5 1885.2,1334.0 1891.0,1329.3 1898.0,1321.2 1901.5,1324.7 1909.6,1328.9 1902.6,1329.3 1895.7,1334.0 1889.8,1337.5Z" fill="#22a884"/>
<path d="M1913.1,1322.4 1928.3,1316.5 1943.4,1307.2 1944.6,1315.4 1948.1,1322.4 1937.6,1328.9 1923.6,1329.8 1914.3,1328.9Z" fill="#22a884"/>
<path d="M1900.3,1303.3 1905.0,1301.9 1906.8,1305.6 1903.1,1309.6 1900.8,1307.2Z" fill="#d6d6d6"/>
<path d="M1952.7,1392.2 1956.2,1388.0 1970.2,1385.7 1987.7,1392.2 1994.6,1388.7 2009.8,1367.8 2021.4,1352.6 2033.1,1343.3 2035.4,1334.0 2042.4,1321.2 2054.0,1313.0 2063.4,1306.1 2068.0,1300.9 2082.0,1294.4 2096.0,1286.3 2104.1,1282.8 2107.1,1285.1 2107.6,1292.1 2119.3,1294.4 2126.2,1292.5 2130.9,1299.1 2134.4,1310.7 2133.2,1327.0 2130.9,1334.0 2135.6,1338.7 2149.5,1348.0 2158.9,1350.3 2163.5,1355.0 2165.8,1364.3 2172.8,1365.5 2179.8,1358.5 2184.0,1352.6 2184.0,1343.3 2188.0,1337.5 2197.3,1335.6 2200.3,1352.6 2198.5,1371.3 2198.5,1393.4 2193.8,1396.4 2165.8,1395.7 2130.9,1393.4 2096.0,1394.1 2063.4,1395.7 2035.4,1399.2 2019.1,1403.9 2007.5,1410.9 1998.1,1420.2 1995.8,1429.5 1991.2,1432.3 1979.5,1422.5 1967.9,1410.9 1956.2,1396.9Z" fill="#7ad151"/>
<path d="M2069.2,1301.4 2082.0,1294.4 2096.0,1286.3 2104.1,1282.8 2107.1,1285.1 2107.6,1292.1 2105.3,1302.6 2109.9,1304.9 2116.9,1301.4 2123.9,1310.7 2120.4,1322.4 2116.9,1334.0 2114.6,1339.8 2123.9,1338.7 2130.9,1334.0 2135.6,1338.7 2149.5,1348.0 2158.9,1350.3 2163.5,1355.0 2165.8,1364.3 2172.8,1365.5 2179.8,1358.5 2184.0,1352.6 2184.0,1343.3 2188.0,1337.5 2197.3,1335.6 2200.3,1352.6 2198.5,1371.3 2198.5,1393.4 2193.8,1396.4 2165.8,1395.7 2130.9,1393.4 2098.3,1394.1 2097.1,1371.3 2094.8,1341.0 2086.6,1329.3 2082.0,1322.4 2077.3,1327.0 2063.4,1332.8 2062.9,1320.0 2068.0,1313.0 2070.3,1306.1Z" fill="#2a788e"/>
<path d="M2107.6,1292.1 2119.3,1294.4 2126.2,1292.5 2130.9,1299.1 2134.4,1310.7 2133.2,1327.0 2130.9,1334.0 2123.9,1338.7 2114.6,1339.8 2116.9,1334.0 2120.4,1322.4 2123.9,1310.7 2116.9,1301.4 2109.9,1304.9 2105.3,1302.6Z" fill="#d6d6d6"/>
<path d="M2033.1,1343.3 2044.7,1364.3 2049.4,1373.6 2056.4,1370.1 2061.0,1375.9 2062.2,1382.9 2070.3,1392.2 2070.3,1395.3" fill="none"/>
<path d="M2094.8,1340.5 2114.6,1340.1" fill="none"/>
<path d="M1955.6,1466.6 1968.0,1461.4 1974.8,1467.6 1973.6,1474.7 1964.9,1473.8Z" fill="#7ad151"/>
<path d="M2305.6,1430.3 2315.8,1428.8 2325.2,1433.4 2328.3,1447.4 2340.7,1442.7 2350.0,1444.3 2359.3,1442.1 2402.8,1443.7 2427.6,1439.6 2441.6,1431.9 2452.5,1419.4 2460.2,1403.9 2463.4,1391.5 2458.7,1379.1 2450.9,1369.8 2449.4,1364.2 2454.0,1365.1 2463.4,1374.4 2468.0,1385.3 2480.4,1410.1 2496.0,1441.2 2503.7,1456.7 2504.7,1469.1 2499.1,1481.6 2486.6,1487.8 2469.6,1492.4 2455.6,1489.3 2440.1,1486.2 2418.3,1489.3 2396.6,1483.1 2371.7,1472.2 2346.9,1459.8 2331.4,1452.0 2315.8,1444.3 2306.5,1433.4Z" fill="#22a884"/>
<path d="M2496.0,1441.2 2503.7,1456.7 2504.7,1469.1 2499.1,1481.6 2486.6,1487.8 2469.6,1492.4 2457.1,1487.8 2477.3,1487.8 2480.4,1478.4 2471.1,1475.3 2480.4,1472.2 2466.5,1461.4 2480.4,1459.8 2494.4,1452.0 2489.8,1444.3Z" fill="#d6d6d6"/>
<path d="M2328.3,1447.4 2340.7,1442.7 2350.0,1444.3 2357.8,1448.9 2353.1,1456.7 2343.8,1458.3 2331.4,1451.1Z" fill="#d6d6d6"/>
<path d="M2455.6,1377.5 2463.4,1374.4 2468.0,1385.3 2464.9,1394.6 2460.2,1388.4Z" fill="#d6d6d6"/>
<path d="M2285.7,1407.0 2297.2,1406.4 2297.8,1410.1 2287.9,1411.1Z" fill="#22a884"/>
</g>
<rect x="2848.0" y="240.40" width="44.8" height="187.03" fill="#fde725"/><rect x="2848.0" y="426.93" width="44.8" height="187.03" fill="#7ad151"/><rect x="2848.0" y="613.47" width="44.8" height="187.03" fill="#22a884"/><rect x="2848.0" y="800.00" width="44.8" height="187.03" fill="#2a788e"/><rect x="2848.0" y="986.53" width="44.8" height="187.03" fill="#414487"/><rect x="2848.0" y="1173.07" width="44.8" height="187.03" fill="#440154"/><rect x="2848.0" y="240.4" width="44.8" height="1119.2" fill="none" stroke="#000" stroke-width="2.2"/><line x1="2892.8" y1="240.40" x2="2902.5" y2="240.40" stroke="#000" stroke-width="2.2"/><text x="2912.2" y="251.70" font-size="27.78" fill="#000">80%</text><line x1="2892.8" y1="426.93" x2="2902.5" y2="426.93" stroke="#000" stroke-width="2.2"/><text x="2912.2" y="438.23" font-size="27.78" fill="#000">70%</text><line x1="2892.8" y1="613.47" x2="2902.5" y2="613.47" stroke="#000" stroke-width="2.2"/><text x="2912.2" y="624.77" font-size="27.78" fill="#000">60%</text><line x1="2892.8" y1="800.00" x2="2902.5" y2="800.00" stroke="#000" stroke-width="2.2"/><text x="2912.2" y="811.30" font-size="27.78" fill="#000">50%</text><line x1="2892.8" y1="986.53" x2="2902.5" y2="986.53" stroke="#000" stroke-width="2.2"/><text x="2912.2" y="997.83" font-size="27.78" fill="#000">40%</text><line x1="2892.8" y1="1173.07" x2="2902.5" y2="1173.07" stroke="#000" stroke-width="2.2"/><text x="2912.2" y="1184.37" font-size="27.78" fill="#000">30%</text><line x1="2892.8" y1="1359.60" x2="2902.5" y2="1359.60" stroke="#000" stroke-width="2.2"/><text x="2912.2" y="1370.90" font-size="27.78" fill="#000">20%</text>
<text x="2945.6" y="1497.8" text-anchor="end" font-size="27.78" fill="#a3a3a3">© ZipCrawl</text>
<text x="2945.4" y="1546" text-anchor="end" font-size="27.78" fill="#a3a3a3" textLength="512" lengthAdjust="spacing">Data: U.S. Census Bureau, 2023 ACS</text>
</svg>
</body></html>
